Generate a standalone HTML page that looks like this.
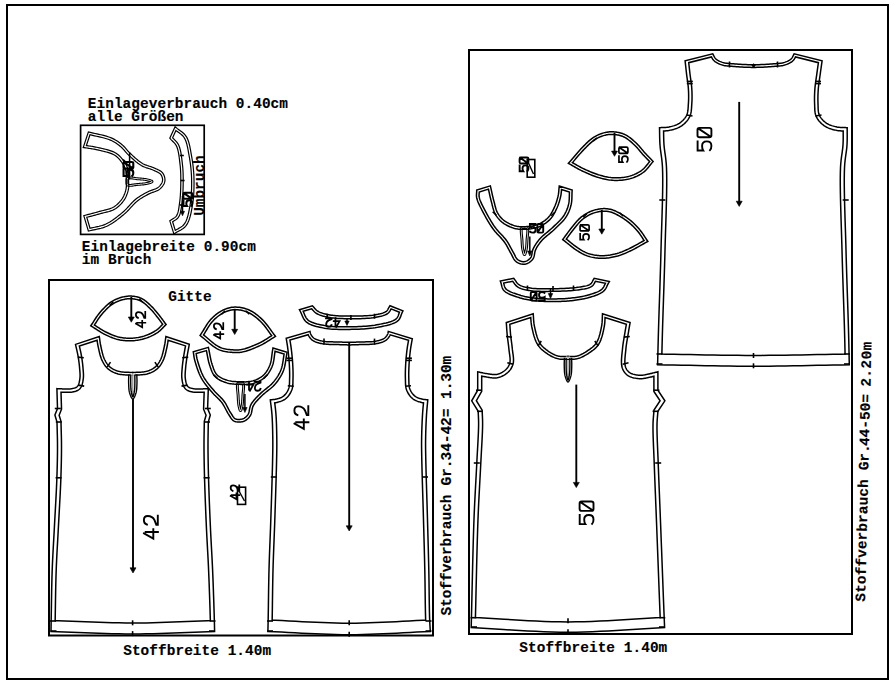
<!DOCTYPE html>
<html><head><meta charset="utf-8"><style>
html,body{margin:0;padding:0;background:#fff;}
svg{display:block;}
text{font-family:"Liberation Mono";fill:#000;stroke:#000;stroke-width:0.15px;}
</style></head><body>
<svg width="895" height="683" viewBox="0 0 895 683">
<rect width="895" height="683" fill="#fff"/>
<rect x="7.0" y="5.0" width="881.0" height="674.0" fill="none" stroke="#000" stroke-width="2.00"/>
<rect x="80.6" y="125.3" width="123.6" height="109.1" fill="none" stroke="#000" stroke-width="1.70"/>
<rect x="49.0" y="280.0" width="384.0" height="355.5" fill="none" stroke="#000" stroke-width="2.00"/>
<rect x="469.0" y="50.0" width="383.0" height="584.0" fill="none" stroke="#000" stroke-width="2.00"/>
<path d="M75.50 344.40 L75.72 345.40 L75.95 346.40 L76.18 347.40 L76.41 348.40 L76.64 349.40 L76.87 350.40 L77.09 351.40 L77.31 352.40 L77.53 353.40 L77.73 354.40 L77.92 355.40 L78.10 356.40 L78.27 357.38 L78.42 358.36 L78.58 359.35 L78.72 360.33 L78.86 361.32 L78.99 362.30 L79.11 363.28 L79.23 364.26 L79.34 365.23 L79.43 366.19 L79.52 367.15 L79.60 368.10 L79.67 368.98 L79.75 369.85 L79.82 370.73 L79.90 371.60 L79.96 372.47 L80.01 373.33 L80.05 374.18 L80.07 375.03 L80.07 375.86 L80.05 376.69 L79.99 377.50 L79.90 378.30 L79.80 379.03 L79.69 379.78 L79.56 380.54 L79.42 381.30 L79.26 382.06 L79.08 382.79 L78.88 383.50 L78.65 384.18 L78.39 384.82 L78.09 385.41 L77.77 385.94 L77.40 386.40 L77.07 386.73 L76.72 387.02 L76.34 387.27 L75.94 387.49 L75.52 387.69 L75.08 387.86 L74.62 388.01 L74.16 388.14 L73.68 388.27 L73.19 388.38 L72.70 388.49 L72.20 388.60 L71.56 388.72 L70.88 388.81 L70.17 388.88 L69.44 388.93 L68.69 388.95 L67.93 388.96 L67.17 388.96 L66.40 388.95 L65.65 388.94 L64.91 388.92 L64.19 388.91 L63.50 388.90 L62.92 388.89 L62.35 388.88 L61.79 388.86 L61.23 388.84 L60.69 388.81 L60.14 388.78 L59.60 388.75 L59.07 388.72 L58.53 388.69 L57.99 388.66 L57.45 388.63 L56.90 388.60 L57.50 408.50 L54.90 415.00 L57.00 422.00 L57.04 424.07 L57.10 426.13 L57.15 428.17 L57.20 430.21 L57.26 432.24 L57.31 434.28 L57.36 436.34 L57.41 438.41 L57.45 440.51 L57.48 442.63 L57.49 444.80 L57.50 447.00 L57.49 449.57 L57.48 452.17 L57.45 454.79 L57.41 457.45 L57.37 460.13 L57.31 462.85 L57.25 465.61 L57.17 468.40 L57.09 471.24 L57.00 474.11 L56.90 477.03 L56.80 480.00 L56.66 483.63 L56.50 487.38 L56.32 491.22 L56.12 495.13 L55.92 499.10 L55.70 503.11 L55.48 507.15 L55.26 511.18 L55.03 515.20 L54.81 519.19 L54.60 523.13 L54.40 527.00 L54.21 530.64 L54.01 534.25 L53.81 537.82 L53.61 541.38 L53.41 544.92 L53.22 548.46 L53.03 551.99 L52.84 555.54 L52.66 559.11 L52.49 562.70 L52.34 566.33 L52.20 570.00 L52.07 574.04 L51.94 578.27 L51.83 582.64 L51.73 587.09 L51.64 591.56 L51.56 595.99 L51.49 600.33 L51.42 604.51 L51.36 608.47 L51.30 612.17 L51.25 615.53 L51.20 618.50 L51.18 619.87 L51.15 621.14 L51.13 622.33 L51.12 623.45 L51.10 624.50 L51.09 625.52 L51.07 626.50 L51.06 627.47 L51.04 628.44 L51.03 629.43 L51.02 630.44 L51.00 631.50 L57.80 631.72 L64.60 631.97 L71.40 632.24 L78.19 632.52 L84.99 632.79 L91.79 633.06 L98.59 633.31 L105.39 633.54 L112.19 633.73 L118.99 633.87 L125.79 633.97 L132.60 634.00 L139.43 633.97 L146.26 633.87 L153.09 633.73 L159.92 633.54 L166.75 633.31 L173.59 633.06 L180.42 632.80 L187.26 632.52 L194.10 632.24 L200.93 631.97 L207.77 631.72 L214.60 631.50 L214.58 630.44 L214.55 629.43 L214.53 628.44 L214.51 627.47 L214.50 626.50 L214.47 625.52 L214.45 624.50 L214.43 623.45 L214.40 622.33 L214.37 621.14 L214.34 619.87 L214.30 618.50 L214.21 615.53 L214.11 612.17 L213.99 608.47 L213.87 604.51 L213.73 600.33 L213.58 595.99 L213.43 591.56 L213.27 587.09 L213.11 582.64 L212.94 578.27 L212.77 574.04 L212.60 570.00 L212.44 566.33 L212.26 562.70 L212.08 559.11 L211.89 555.55 L211.70 552.00 L211.51 548.46 L211.31 544.92 L211.12 541.38 L210.93 537.82 L210.75 534.25 L210.57 530.64 L210.40 527.00 L210.23 523.13 L210.06 519.19 L209.89 515.20 L209.72 511.18 L209.55 507.15 L209.39 503.11 L209.24 499.10 L209.09 495.13 L208.96 491.22 L208.83 487.38 L208.71 483.63 L208.60 480.00 L208.52 477.03 L208.44 474.11 L208.37 471.23 L208.30 468.40 L208.24 465.61 L208.19 462.85 L208.14 460.13 L208.09 457.45 L208.06 454.79 L208.03 452.17 L208.01 449.57 L208.00 447.00 L208.00 444.80 L208.01 442.63 L208.02 440.51 L208.04 438.41 L208.07 436.34 L208.10 434.28 L208.14 432.24 L208.17 430.21 L208.21 428.17 L208.24 426.13 L208.27 424.07 L208.30 422.00 L210.30 415.00 L207.60 408.50 L208.30 388.60 L207.75 388.63 L207.21 388.66 L206.67 388.69 L206.13 388.72 L205.60 388.75 L205.06 388.78 L204.51 388.81 L203.97 388.84 L203.41 388.86 L202.85 388.88 L202.28 388.89 L201.70 388.90 L201.01 388.91 L200.29 388.92 L199.55 388.94 L198.80 388.95 L198.03 388.96 L197.27 388.96 L196.51 388.95 L195.76 388.93 L195.03 388.88 L194.32 388.81 L193.64 388.72 L193.00 388.60 L192.50 388.49 L192.01 388.38 L191.52 388.27 L191.04 388.14 L190.58 388.01 L190.12 387.86 L189.68 387.69 L189.26 387.49 L188.86 387.27 L188.48 387.02 L188.13 386.73 L187.80 386.40 L187.43 385.94 L187.11 385.41 L186.81 384.82 L186.55 384.18 L186.32 383.50 L186.12 382.79 L185.94 382.06 L185.78 381.30 L185.64 380.54 L185.51 379.78 L185.40 379.03 L185.30 378.30 L185.21 377.50 L185.15 376.69 L185.13 375.86 L185.13 375.03 L185.15 374.18 L185.19 373.33 L185.24 372.47 L185.30 371.60 L185.38 370.73 L185.45 369.85 L185.53 368.98 L185.60 368.10 L185.68 367.15 L185.77 366.20 L185.87 365.23 L185.99 364.26 L186.11 363.29 L186.23 362.31 L186.37 361.32 L186.51 360.34 L186.65 359.35 L186.80 358.37 L186.95 357.38 L187.10 356.40 L187.26 355.40 L187.43 354.39 L187.60 353.39 L187.78 352.38 L187.97 351.37 L188.16 350.36 L188.35 349.35 L188.54 348.34 L188.73 347.33 L188.93 346.32 L189.11 345.31 L189.30 344.30 L165.90 336.60 L165.78 337.39 L165.67 338.17 L165.56 338.94 L165.45 339.71 L165.35 340.49 L165.24 341.26 L165.13 342.04 L165.01 342.83 L164.88 343.63 L164.73 344.43 L164.58 345.26 L164.40 346.10 L164.17 347.14 L163.94 348.24 L163.69 349.37 L163.43 350.52 L163.15 351.69 L162.86 352.86 L162.55 354.02 L162.23 355.16 L161.88 356.28 L161.51 357.34 L161.12 358.35 L160.70 359.30 L160.35 360.02 L159.99 360.72 L159.62 361.40 L159.24 362.06 L158.85 362.70 L158.44 363.32 L158.02 363.92 L157.58 364.49 L157.12 365.05 L156.63 365.59 L156.13 366.10 L155.60 366.60 L155.04 367.08 L154.47 367.54 L153.88 367.98 L153.26 368.40 L152.63 368.79 L151.98 369.17 L151.31 369.52 L150.61 369.86 L149.89 370.17 L149.15 370.47 L148.39 370.74 L147.60 371.00 L146.54 371.29 L145.41 371.54 L144.22 371.75 L142.99 371.92 L141.73 372.06 L140.43 372.17 L139.12 372.26 L137.80 372.32 L136.47 372.36 L135.16 372.38 L133.87 372.40 L132.60 372.40 L131.33 372.40 L130.04 372.38 L128.73 372.36 L127.40 372.32 L126.08 372.26 L124.77 372.17 L123.47 372.06 L122.21 371.92 L120.98 371.75 L119.79 371.54 L118.66 371.29 L117.60 371.00 L116.81 370.74 L116.05 370.47 L115.31 370.17 L114.59 369.86 L113.89 369.52 L113.22 369.17 L112.57 368.79 L111.94 368.40 L111.32 367.98 L110.73 367.54 L110.16 367.08 L109.60 366.60 L109.07 366.10 L108.57 365.59 L108.08 365.05 L107.62 364.49 L107.18 363.92 L106.76 363.32 L106.35 362.70 L105.96 362.06 L105.58 361.40 L105.21 360.72 L104.85 360.02 L104.50 359.30 L104.08 358.35 L103.69 357.34 L103.32 356.28 L102.97 355.16 L102.65 354.02 L102.34 352.86 L102.05 351.69 L101.77 350.52 L101.51 349.37 L101.26 348.24 L101.03 347.14 L100.80 346.10 L100.62 345.26 L100.47 344.43 L100.32 343.63 L100.19 342.83 L100.07 342.04 L99.96 341.26 L99.85 340.49 L99.75 339.71 L99.64 338.94 L99.53 338.17 L99.42 337.39 L99.30 336.60 Z M55.16 620.63 L58.18 620.73 L65.02 620.98 L71.83 621.25 L78.64 621.53 L85.43 621.80 L92.21 622.07 L98.97 622.32 L105.72 622.54 L112.46 622.73 L119.18 622.87 L125.90 622.97 L132.60 623.00 L139.32 622.97 L146.06 622.88 L152.82 622.73 L159.59 622.54 L166.37 622.32 L173.17 622.07 L179.99 621.80 L186.81 621.53 L193.66 621.25 L200.51 620.98 L207.38 620.73 L210.36 620.63 L210.34 619.98 L210.30 618.62 L210.21 615.65 L210.11 612.29 L210.00 608.60 L209.87 604.64 L209.73 600.46 L209.59 596.13 L209.43 591.70 L209.27 587.24 L209.11 582.79 L208.94 578.43 L208.77 574.20 L208.60 570.17 L208.44 566.52 L208.27 562.90 L208.09 559.32 L207.90 555.76 L207.71 552.21 L207.51 548.68 L207.32 545.14 L207.13 541.59 L206.94 538.03 L206.75 534.45 L206.57 530.83 L206.40 527.18 L206.23 523.31 L206.06 519.37 L205.89 515.37 L205.72 511.35 L205.56 507.31 L205.40 503.27 L205.24 499.25 L205.10 495.28 L204.96 491.36 L204.83 487.51 L204.71 483.76 L204.60 480.11 L204.52 477.14 L204.44 474.21 L204.37 471.33 L204.30 468.49 L204.24 465.69 L204.19 462.93 L204.14 460.20 L204.09 457.50 L204.06 454.84 L204.03 452.20 L204.01 449.60 L204.00 447.01 L204.00 444.79 L204.01 442.61 L204.02 440.47 L204.04 438.36 L204.07 436.28 L204.10 434.22 L204.14 432.17 L204.17 430.14 L204.21 428.10 L204.24 426.06 L204.27 424.02 L204.31 421.41 L206.07 415.24 L203.57 409.23 L204.17 392.23 L203.54 392.26 L202.95 392.28 L202.34 392.29 L201.74 392.30 L201.06 392.31 L200.36 392.32 L199.62 392.34 L198.85 392.35 L198.06 392.36 L197.25 392.36 L196.43 392.35 L195.60 392.32 L194.77 392.27 L193.93 392.19 L193.10 392.08 L192.32 391.93 L191.77 391.81 L191.25 391.69 L190.71 391.57 L190.15 391.42 L189.57 391.26 L188.97 391.06 L188.35 390.82 L187.72 390.53 L187.09 390.17 L186.46 389.75 L185.85 389.26 L185.26 388.67 L184.65 387.89 L184.13 387.06 L183.71 386.22 L183.37 385.37 L183.08 384.52 L182.83 383.67 L182.62 382.81 L182.44 381.96 L182.29 381.13 L182.16 380.31 L182.04 379.52 L181.93 378.72 L181.82 377.81 L181.76 376.86 L181.73 375.92 L181.72 374.99 L181.75 374.06 L181.79 373.14 L181.85 372.23 L181.91 371.33 L181.99 370.44 L182.06 369.56 L182.14 368.69 L182.21 367.82 L182.29 366.85 L182.39 365.85 L182.49 364.86 L182.61 363.86 L182.73 362.86 L182.86 361.86 L183.00 360.86 L183.14 359.85 L183.29 358.86 L183.44 357.86 L183.59 356.87 L183.74 355.87 L183.90 354.85 L184.08 353.82 L184.25 352.79 L184.44 351.77 L184.63 350.75 L184.82 349.73 L185.01 348.71 L185.20 347.70 L185.39 346.69 L185.54 345.91 L168.12 340.17 L168.02 340.85 L167.91 341.64 L167.80 342.44 L167.67 343.25 L167.54 344.08 L167.39 344.92 L167.22 345.79 L167.04 346.66 L166.81 347.72 L166.58 348.81 L166.32 349.95 L166.06 351.13 L165.78 352.32 L165.48 353.53 L165.16 354.74 L164.81 355.94 L164.44 357.12 L164.04 358.27 L163.61 359.39 L163.15 360.43 L162.77 361.23 L162.38 361.98 L161.98 362.72 L161.56 363.44 L161.13 364.15 L160.67 364.84 L160.19 365.52 L159.69 366.18 L159.16 366.82 L158.60 367.43 L158.02 368.03 L157.41 368.61 L156.77 369.16 L156.12 369.68 L155.44 370.18 L154.74 370.66 L154.02 371.11 L153.28 371.53 L152.52 371.94 L151.74 372.31 L150.94 372.67 L150.11 372.99 L149.26 373.30 L148.38 373.59 L147.19 373.91 L145.93 374.19 L144.65 374.42 L143.33 374.60 L141.99 374.75 L140.63 374.87 L139.27 374.95 L137.90 375.02 L136.54 375.06 L135.20 375.08 L133.88 375.10 L132.60 375.10 L131.32 375.10 L130.00 375.08 L128.66 375.06 L127.30 375.02 L125.93 374.95 L124.57 374.87 L123.21 374.75 L121.87 374.60 L120.55 374.42 L119.27 374.19 L118.01 373.91 L116.82 373.59 L115.94 373.30 L115.09 372.99 L114.26 372.67 L113.46 372.31 L112.68 371.94 L111.92 371.53 L111.18 371.11 L110.46 370.66 L109.76 370.18 L109.08 369.68 L108.43 369.16 L107.79 368.61 L107.18 368.03 L106.60 367.43 L106.04 366.82 L105.51 366.18 L105.01 365.52 L104.53 364.84 L104.07 364.15 L103.64 363.44 L103.22 362.72 L102.82 361.98 L102.43 361.23 L102.05 360.43 L101.59 359.39 L101.16 358.27 L100.76 357.12 L100.39 355.94 L100.04 354.74 L99.72 353.53 L99.42 352.32 L99.14 351.13 L98.88 349.95 L98.62 348.81 L98.39 347.72 L98.16 346.66 L97.98 345.79 L97.81 344.92 L97.66 344.08 L97.53 343.25 L97.40 342.44 L97.29 341.64 L97.18 340.85 L97.08 340.17 L79.34 345.98 L79.49 346.64 L79.72 347.64 L79.95 348.64 L80.18 349.65 L80.41 350.67 L80.64 351.69 L80.85 352.71 L81.06 353.74 L81.26 354.78 L81.45 355.82 L81.62 356.83 L81.78 357.83 L81.94 358.84 L82.09 359.85 L82.23 360.86 L82.36 361.87 L82.49 362.87 L82.61 363.88 L82.72 364.87 L82.82 365.87 L82.91 366.85 L82.99 367.82 L83.06 368.69 L83.14 369.56 L83.21 370.44 L83.29 371.33 L83.35 372.23 L83.41 373.14 L83.45 374.06 L83.48 374.99 L83.47 375.92 L83.44 376.86 L83.38 377.81 L83.27 378.72 L83.16 379.52 L83.04 380.31 L82.91 381.13 L82.76 381.96 L82.58 382.81 L82.37 383.67 L82.12 384.52 L81.83 385.37 L81.49 386.22 L81.07 387.06 L80.55 387.89 L79.94 388.67 L79.35 389.26 L78.74 389.75 L78.11 390.17 L77.48 390.53 L76.85 390.82 L76.23 391.06 L75.63 391.26 L75.05 391.42 L74.49 391.57 L73.95 391.69 L73.43 391.81 L72.88 391.93 L72.10 392.08 L71.27 392.19 L70.43 392.27 L69.60 392.32 L68.77 392.35 L67.95 392.36 L67.14 392.36 L66.35 392.35 L65.58 392.34 L64.84 392.32 L64.14 392.31 L63.46 392.30 L62.86 392.29 L62.25 392.28 L61.66 392.26 L61.01 392.23 L61.52 409.21 L59.13 415.19 L60.99 421.37 L61.04 423.98 L61.09 426.02 L61.15 428.06 L61.20 430.10 L61.26 432.13 L61.31 434.18 L61.36 436.25 L61.41 438.33 L61.45 440.44 L61.48 442.59 L61.49 444.77 L61.50 447.00 L61.49 449.59 L61.48 452.20 L61.45 454.84 L61.41 457.51 L61.36 460.21 L61.31 462.94 L61.24 465.71 L61.17 468.51 L61.09 471.35 L61.00 474.24 L60.90 477.17 L60.80 480.15 L60.66 483.80 L60.49 487.56 L60.31 491.41 L60.12 495.34 L59.91 499.31 L59.69 503.33 L59.47 507.37 L59.25 511.40 L59.03 515.42 L58.81 519.41 L58.60 523.34 L58.39 527.21 L58.20 530.85 L58.01 534.47 L57.81 538.05 L57.61 541.60 L57.41 545.14 L57.21 548.68 L57.02 552.21 L56.83 555.75 L56.66 559.30 L56.49 562.88 L56.34 566.49 L56.20 570.14 L56.06 574.16 L55.94 578.38 L55.83 582.74 L55.73 587.18 L55.64 591.64 L55.56 596.06 L55.49 600.39 L55.42 604.57 L55.36 608.54 L55.30 612.23 L55.25 615.59 L55.20 618.57 L55.18 619.94 Z" fill="none" stroke="#000" stroke-width="1.50" stroke-linejoin="miter"/>
<rect x="130.50" y="373.40" width="4.60" height="2.40" fill="#fff"/>
<path d="M128.80 374.60 L128.78 375.31 L128.76 376.02 L128.74 376.72 L128.71 377.43 L128.68 378.13 L128.66 378.84 L128.63 379.54 L128.62 380.25 L128.61 380.97 L128.61 381.68 L128.62 382.41 L128.64 383.14 L128.67 383.94 L128.70 384.76 L128.72 385.60 L128.76 386.45 L128.80 387.30 L128.85 388.15 L128.92 388.99 L129.01 389.82 L129.11 390.64 L129.25 391.42 L129.41 392.18 L129.60 392.90 L129.79 393.51 L130.01 394.17 L130.25 394.84 L130.50 395.53 L130.78 396.19 L131.06 396.83 L131.36 397.42 L131.65 397.94 L131.95 398.38 L132.24 398.71 L132.53 398.92 L132.80 399.00 L133.07 398.92 L133.36 398.71 L133.65 398.38 L133.95 397.94 L134.24 397.42 L134.54 396.83 L134.82 396.19 L135.10 395.53 L135.35 394.84 L135.59 394.17 L135.81 393.51 L136.00 392.90 L136.19 392.18 L136.35 391.42 L136.49 390.64 L136.59 389.82 L136.68 388.99 L136.75 388.15 L136.80 387.30 L136.84 386.45 L136.88 385.60 L136.90 384.76 L136.93 383.94 L136.96 383.14 L136.98 382.41 L136.99 381.68 L136.99 380.97 L136.98 380.25 L136.97 379.54 L136.94 378.84 L136.92 378.13 L136.89 377.43 L136.86 376.72 L136.84 376.02 L136.82 375.31 L136.80 374.60" fill="none" stroke="#000" stroke-width="1.40"/>
<path d="M130.80 374.60 L130.79 375.25 L130.78 375.89 L130.77 376.53 L130.75 377.17 L130.74 377.81 L130.73 378.45 L130.72 379.10 L130.71 379.74 L130.70 380.39 L130.70 381.05 L130.71 381.70 L130.72 382.37 L130.73 383.10 L130.75 383.84 L130.76 384.60 L130.77 385.37 L130.79 386.14 L130.82 386.91 L130.85 387.68 L130.89 388.43 L130.95 389.17 L131.02 389.89 L131.10 390.59 L131.20 391.25 L131.30 391.80 L131.40 392.39 L131.52 393.00 L131.65 393.62 L131.79 394.23 L131.93 394.81 L132.08 395.35 L132.23 395.83 L132.37 396.23 L132.52 396.53 L132.66 396.73 L132.80 396.80 L132.94 396.73 L133.08 396.53 L133.23 396.23 L133.37 395.83 L133.52 395.35 L133.67 394.81 L133.81 394.23 L133.95 393.62 L134.08 393.00 L134.20 392.39 L134.30 391.80 L134.40 391.25 L134.50 390.59 L134.58 389.89 L134.65 389.17 L134.71 388.43 L134.75 387.68 L134.78 386.91 L134.81 386.14 L134.83 385.37 L134.84 384.60 L134.85 383.84 L134.87 383.10 L134.88 382.37 L134.89 381.70 L134.90 381.05 L134.90 380.39 L134.89 379.74 L134.88 379.10 L134.87 378.45 L134.86 377.81 L134.85 377.17 L134.83 376.53 L134.82 375.89 L134.81 375.25 L134.80 374.60" fill="none" stroke="#000" stroke-width="1.40"/>
<line x1="132.80" y1="371.50" x2="132.80" y2="396.50" stroke="#000" stroke-width="0.9" stroke-opacity="0.6"/>
<line x1="133.0" y1="399.0" x2="133.0" y2="568.8" stroke="#000" stroke-width="1.90"/>
<path d="M130.0 567.8 L136.0 567.8 L133.0 573.0 Z" fill="#000" stroke="#000" stroke-width="0.6"/>
<path d="M286.20 338.20 L286.34 339.12 L286.49 340.03 L286.64 340.94 L286.78 341.84 L286.93 342.75 L287.08 343.65 L287.22 344.56 L287.37 345.48 L287.51 346.42 L287.64 347.36 L287.77 348.32 L287.90 349.30 L288.04 350.44 L288.18 351.61 L288.32 352.80 L288.45 354.01 L288.58 355.23 L288.70 356.47 L288.82 357.71 L288.94 358.95 L289.04 360.20 L289.14 361.44 L289.22 362.67 L289.30 363.90 L289.37 365.13 L289.43 366.38 L289.49 367.63 L289.54 368.89 L289.59 370.16 L289.62 371.41 L289.65 372.66 L289.66 373.90 L289.67 375.11 L289.66 376.31 L289.64 377.47 L289.60 378.60 L289.57 379.52 L289.55 380.44 L289.54 381.34 L289.52 382.23 L289.50 383.11 L289.46 383.97 L289.40 384.82 L289.32 385.65 L289.20 386.47 L289.05 387.26 L288.85 388.04 L288.60 388.80 L288.32 389.50 L288.01 390.19 L287.67 390.87 L287.30 391.55 L286.90 392.21 L286.47 392.85 L286.02 393.47 L285.55 394.06 L285.06 394.62 L284.55 395.15 L284.03 395.65 L283.50 396.10 L282.97 396.49 L282.42 396.84 L281.83 397.17 L281.23 397.47 L280.60 397.74 L279.97 397.98 L279.33 398.21 L278.68 398.41 L278.04 398.60 L277.41 398.78 L276.80 398.94 L276.20 399.10 L275.69 399.22 L275.19 399.32 L274.70 399.40 L274.20 399.46 L273.71 399.52 L273.22 399.56 L272.74 399.60 L272.25 399.63 L271.77 399.67 L271.28 399.70 L270.79 399.75 L270.30 399.80 L270.44 401.05 L270.59 402.29 L270.75 403.51 L270.90 404.73 L271.06 405.94 L271.21 407.16 L271.36 408.40 L271.50 409.65 L271.64 410.93 L271.77 412.25 L271.89 413.60 L272.00 415.00 L272.12 416.87 L272.24 418.84 L272.33 420.88 L272.42 422.97 L272.50 425.11 L272.56 427.28 L272.62 429.46 L272.67 431.64 L272.71 433.80 L272.75 435.92 L272.78 437.99 L272.80 440.00 L272.82 441.71 L272.82 443.34 L272.83 444.91 L272.82 446.43 L272.81 447.95 L272.79 449.47 L272.77 451.02 L272.74 452.62 L272.71 454.30 L272.68 456.07 L272.64 457.97 L272.60 460.00 L272.52 463.89 L272.41 468.20 L272.28 472.87 L272.14 477.82 L271.99 483.00 L271.83 488.33 L271.66 493.76 L271.48 499.21 L271.31 504.63 L271.13 509.94 L270.96 515.09 L270.80 520.00 L270.65 524.33 L270.50 528.61 L270.34 532.84 L270.17 537.04 L270.01 541.21 L269.85 545.35 L269.69 549.47 L269.53 553.58 L269.38 557.68 L269.24 561.78 L269.12 565.88 L269.00 570.00 L268.90 574.13 L268.81 578.40 L268.73 582.76 L268.65 587.16 L268.58 591.56 L268.52 595.90 L268.46 600.14 L268.41 604.22 L268.36 608.09 L268.30 611.72 L268.25 615.03 L268.20 618.00 L268.17 619.42 L268.15 620.73 L268.12 621.96 L268.09 623.11 L268.07 624.21 L268.04 625.27 L268.02 626.29 L268.00 627.31 L267.97 628.32 L267.95 629.35 L267.92 630.40 L267.90 631.50 L274.68 631.79 L281.45 632.11 L288.23 632.45 L295.00 632.80 L301.78 633.16 L308.56 633.50 L315.33 633.82 L322.11 634.11 L328.88 634.35 L335.66 634.54 L342.43 634.66 L349.20 634.70 L355.96 634.66 L362.72 634.54 L369.48 634.35 L376.24 634.11 L383.00 633.82 L389.76 633.50 L396.51 633.16 L403.27 632.80 L410.03 632.45 L416.78 632.11 L423.54 631.79 L430.30 631.50 L430.24 630.40 L430.18 629.35 L430.12 628.32 L430.06 627.31 L430.00 626.30 L429.94 625.27 L429.88 624.21 L429.82 623.11 L429.76 621.96 L429.71 620.73 L429.65 619.42 L429.60 618.00 L429.51 615.04 L429.43 611.72 L429.36 608.10 L429.30 604.22 L429.24 600.14 L429.19 595.90 L429.13 591.56 L429.08 587.16 L429.02 582.76 L428.95 578.40 L428.88 574.13 L428.80 570.00 L428.71 565.88 L428.61 561.78 L428.51 557.68 L428.41 553.58 L428.31 549.47 L428.20 545.35 L428.08 541.21 L427.97 537.04 L427.85 532.84 L427.74 528.61 L427.62 524.33 L427.50 520.00 L427.36 515.09 L427.21 509.94 L427.06 504.63 L426.89 499.21 L426.73 493.76 L426.56 488.33 L426.40 483.00 L426.25 477.82 L426.11 472.87 L425.99 468.20 L425.88 463.89 L425.80 460.00 L425.76 457.97 L425.72 456.07 L425.69 454.30 L425.66 452.62 L425.63 451.02 L425.60 449.47 L425.59 447.95 L425.58 446.43 L425.57 444.91 L425.57 443.34 L425.58 441.71 L425.60 440.00 L425.63 437.99 L425.67 435.92 L425.72 433.80 L425.78 431.64 L425.85 429.47 L425.92 427.29 L426.00 425.12 L426.09 422.98 L426.19 420.88 L426.29 418.84 L426.39 416.87 L426.50 415.00 L426.59 413.60 L426.69 412.25 L426.79 410.93 L426.89 409.65 L427.00 408.40 L427.12 407.16 L427.23 405.94 L427.35 404.73 L427.46 403.51 L427.58 402.29 L427.69 401.05 L427.80 399.80 L427.34 399.75 L426.87 399.70 L426.41 399.66 L425.95 399.63 L425.49 399.59 L425.03 399.56 L424.57 399.51 L424.11 399.46 L423.64 399.39 L423.16 399.31 L422.69 399.22 L422.20 399.10 L421.61 398.94 L421.00 398.78 L420.37 398.60 L419.73 398.41 L419.09 398.21 L418.44 397.98 L417.81 397.74 L417.18 397.47 L416.57 397.17 L415.98 396.84 L415.43 396.49 L414.90 396.10 L414.37 395.65 L413.85 395.15 L413.34 394.62 L412.85 394.06 L412.38 393.47 L411.93 392.85 L411.50 392.21 L411.10 391.55 L410.73 390.87 L410.39 390.19 L410.08 389.50 L409.80 388.80 L409.55 388.04 L409.35 387.26 L409.20 386.47 L409.08 385.65 L409.00 384.82 L408.94 383.97 L408.90 383.11 L408.88 382.23 L408.86 381.34 L408.85 380.44 L408.83 379.52 L408.80 378.60 L408.76 377.47 L408.74 376.31 L408.73 375.11 L408.74 373.90 L408.75 372.66 L408.78 371.41 L408.81 370.16 L408.86 368.89 L408.91 367.63 L408.97 366.38 L409.03 365.13 L409.10 363.90 L409.18 362.67 L409.26 361.43 L409.35 360.19 L409.46 358.94 L409.57 357.69 L409.68 356.45 L409.81 355.21 L409.94 353.99 L410.07 352.78 L410.21 351.59 L410.35 350.43 L410.50 349.30 L410.63 348.36 L410.77 347.43 L410.91 346.53 L411.06 345.64 L411.21 344.76 L411.37 343.89 L411.52 343.03 L411.68 342.17 L411.84 341.31 L411.99 340.45 L412.15 339.58 L412.30 338.70 L388.29 331.40 L388.20 331.86 L388.16 332.10 L388.12 332.33 L388.09 332.56 L388.05 332.79 L388.00 333.02 L387.95 333.25 L387.88 333.49 L387.81 333.72 L387.71 333.96 L387.60 334.20 L387.42 334.53 L387.23 334.88 L387.01 335.24 L386.78 335.60 L386.53 335.97 L386.25 336.33 L385.96 336.69 L385.65 337.04 L385.31 337.38 L384.96 337.71 L384.59 338.01 L384.20 338.30 L383.65 338.65 L383.05 338.97 L382.41 339.27 L381.74 339.55 L381.03 339.81 L380.29 340.05 L379.52 340.28 L378.73 340.49 L377.92 340.68 L377.09 340.86 L376.25 341.04 L375.40 341.20 L374.23 341.39 L372.97 341.54 L371.65 341.65 L370.27 341.74 L368.87 341.80 L367.44 341.84 L366.00 341.87 L364.58 341.90 L363.18 341.91 L361.83 341.93 L360.53 341.96 L359.30 342.00 L358.38 342.04 L357.48 342.07 L356.61 342.11 L355.76 342.14 L354.93 342.18 L354.10 342.21 L353.29 342.23 L352.48 342.26 L351.67 342.27 L350.86 342.29 L350.03 342.30 L349.20 342.30 L348.37 342.30 L347.54 342.29 L346.73 342.27 L345.92 342.26 L345.11 342.23 L344.30 342.21 L343.47 342.18 L342.64 342.14 L341.79 342.11 L340.92 342.07 L340.02 342.04 L339.10 342.00 L337.87 341.96 L336.57 341.93 L335.22 341.91 L333.82 341.90 L332.40 341.87 L330.96 341.84 L329.53 341.80 L328.13 341.74 L326.75 341.65 L325.43 341.54 L324.17 341.39 L323.00 341.20 L322.15 341.04 L321.31 340.86 L320.48 340.68 L319.67 340.49 L318.88 340.28 L318.11 340.05 L317.37 339.81 L316.66 339.55 L315.99 339.27 L315.35 338.97 L314.75 338.65 L314.20 338.30 L313.81 338.01 L313.44 337.71 L313.09 337.38 L312.76 337.04 L312.45 336.69 L312.16 336.33 L311.88 335.97 L311.63 335.60 L311.40 335.24 L311.18 334.88 L310.98 334.53 L310.80 334.20 L310.68 333.96 L310.58 333.72 L310.50 333.49 L310.43 333.25 L310.36 333.02 L310.31 332.79 L310.26 332.56 L310.21 332.33 L310.17 332.10 L310.12 331.86 L310.01 331.40 Z M272.16 620.17 L275.19 620.30 L282.01 620.62 L288.82 620.97 L295.60 621.32 L302.37 621.67 L309.12 622.01 L315.85 622.33 L322.56 622.62 L329.25 622.86 L335.92 623.04 L342.57 623.16 L349.20 623.20 L355.82 623.16 L362.46 623.04 L369.12 622.86 L375.79 622.62 L382.48 622.33 L389.19 622.01 L395.92 621.67 L402.67 621.32 L409.44 620.97 L416.22 620.62 L423.03 620.30 L425.68 620.19 L425.65 619.57 L425.60 618.13 L425.51 615.14 L425.43 611.80 L425.36 608.17 L425.30 604.28 L425.24 600.19 L425.19 595.95 L425.13 591.61 L425.08 587.22 L425.02 582.82 L424.95 578.46 L424.88 574.20 L424.80 570.08 L424.71 565.97 L424.62 561.87 L424.52 557.78 L424.41 553.68 L424.31 549.57 L424.20 545.46 L424.08 541.32 L423.97 537.15 L423.85 532.95 L423.74 528.72 L423.62 524.44 L423.50 520.11 L423.36 515.20 L423.22 510.06 L423.06 504.75 L422.89 499.34 L422.73 493.88 L422.56 488.45 L422.40 483.12 L422.25 477.94 L422.11 472.98 L421.99 468.30 L421.88 463.98 L421.80 460.08 L421.76 458.04 L421.72 456.15 L421.69 454.38 L421.66 452.69 L421.63 451.08 L421.61 449.52 L421.59 447.99 L421.58 446.46 L421.57 444.91 L421.57 443.32 L421.58 441.68 L421.60 439.95 L421.63 437.92 L421.67 435.84 L421.72 433.70 L421.78 431.53 L421.85 429.34 L421.92 427.14 L422.01 424.96 L422.10 422.80 L422.19 420.69 L422.29 418.64 L422.40 416.65 L422.51 414.76 L422.60 413.33 L422.70 411.95 L422.80 410.61 L422.91 409.31 L423.02 408.04 L423.13 406.79 L423.25 405.57 L423.37 404.35 L423.51 402.81 L423.12 402.75 L422.55 402.66 L421.95 402.54 L421.37 402.40 L420.73 402.23 L420.10 402.06 L419.43 401.87 L418.73 401.66 L418.01 401.43 L417.27 401.17 L416.52 400.88 L415.76 400.56 L415.00 400.19 L414.25 399.77 L413.50 399.29 L412.79 398.77 L412.10 398.18 L411.45 397.56 L410.83 396.91 L410.23 396.23 L409.67 395.52 L409.14 394.79 L408.63 394.03 L408.16 393.25 L407.72 392.46 L407.31 391.64 L406.94 390.82 L406.60 389.96 L406.29 388.99 L406.03 388.01 L405.84 387.03 L405.71 386.06 L405.61 385.11 L405.54 384.16 L405.50 383.23 L405.48 382.31 L405.46 381.40 L405.45 380.50 L405.43 379.61 L405.40 378.71 L405.37 377.55 L405.34 376.35 L405.33 375.12 L405.34 373.87 L405.35 372.61 L405.38 371.33 L405.42 370.05 L405.46 368.77 L405.51 367.48 L405.57 366.21 L405.64 364.95 L405.71 363.70 L405.78 362.45 L405.87 361.19 L405.97 359.92 L406.07 358.65 L406.18 357.38 L406.30 356.12 L406.43 354.86 L406.56 353.62 L406.69 352.39 L406.83 351.19 L406.98 350.01 L407.13 348.85 L407.26 347.87 L407.41 346.92 L407.55 345.98 L407.71 345.07 L407.86 344.17 L408.02 343.29 L408.18 342.42 L408.34 341.56 L408.55 340.38 L390.19 334.80 L389.93 335.35 L389.71 335.78 L389.48 336.19 L389.22 336.62 L388.94 337.05 L388.63 337.49 L388.30 337.93 L387.94 338.38 L387.55 338.82 L387.13 339.25 L386.67 339.67 L386.19 340.07 L385.66 340.45 L384.96 340.89 L384.23 341.29 L383.47 341.65 L382.68 341.97 L381.88 342.27 L381.06 342.54 L380.22 342.78 L379.37 343.01 L378.51 343.21 L377.64 343.41 L376.76 343.59 L375.85 343.76 L374.59 343.96 L373.24 344.12 L371.84 344.25 L370.41 344.34 L368.96 344.40 L367.50 344.44 L366.05 344.47 L364.62 344.50 L363.22 344.51 L361.87 344.53 L360.60 344.56 L359.39 344.60 L358.48 344.64 L357.59 344.67 L356.72 344.71 L355.86 344.74 L355.02 344.77 L354.19 344.80 L353.37 344.83 L352.55 344.85 L351.72 344.87 L350.89 344.89 L350.05 344.90 L349.20 344.90 L348.35 344.90 L347.51 344.89 L346.68 344.87 L345.85 344.85 L345.03 344.83 L344.21 344.80 L343.38 344.77 L342.54 344.74 L341.68 344.71 L340.81 344.67 L339.92 344.64 L339.01 344.60 L337.80 344.56 L336.53 344.53 L335.18 344.51 L333.78 344.50 L332.35 344.47 L330.90 344.44 L329.44 344.40 L327.99 344.34 L326.56 344.25 L325.16 344.12 L323.81 343.96 L322.55 343.76 L321.64 343.59 L320.76 343.41 L319.89 343.21 L319.03 343.01 L318.18 342.78 L317.34 342.54 L316.52 342.27 L315.72 341.97 L314.93 341.65 L314.17 341.29 L313.44 340.89 L312.74 340.45 L312.21 340.07 L311.72 339.66 L311.27 339.24 L310.85 338.81 L310.46 338.37 L310.10 337.93 L309.78 337.49 L309.47 337.05 L309.19 336.62 L308.94 336.20 L308.71 335.80 L308.49 335.39 L308.17 334.73 L289.92 339.95 L289.99 340.39 L290.14 341.29 L290.29 342.20 L290.43 343.11 L290.58 344.04 L290.73 344.97 L290.87 345.92 L291.01 346.89 L291.14 347.87 L291.27 348.88 L291.42 350.04 L291.56 351.22 L291.70 352.42 L291.83 353.65 L291.96 354.88 L292.09 356.13 L292.21 357.39 L292.32 358.66 L292.43 359.92 L292.53 361.19 L292.62 362.45 L292.69 363.70 L292.76 364.95 L292.83 366.21 L292.89 367.48 L292.94 368.77 L292.98 370.05 L293.02 371.33 L293.05 372.61 L293.06 373.87 L293.07 375.12 L293.06 376.35 L293.03 377.55 L293.00 378.71 L292.97 379.61 L292.95 380.50 L292.94 381.40 L292.92 382.31 L292.90 383.23 L292.86 384.16 L292.79 385.11 L292.69 386.06 L292.56 387.03 L292.37 388.01 L292.11 388.99 L291.80 389.96 L291.46 390.82 L291.09 391.64 L290.68 392.46 L290.24 393.25 L289.77 394.03 L289.26 394.79 L288.73 395.52 L288.17 396.23 L287.57 396.91 L286.95 397.56 L286.30 398.18 L285.61 398.76 L284.90 399.29 L284.16 399.77 L283.40 400.19 L282.65 400.55 L281.89 400.88 L281.15 401.17 L280.41 401.43 L279.69 401.66 L278.99 401.87 L278.31 402.06 L277.67 402.23 L277.02 402.40 L276.42 402.54 L275.79 402.67 L275.19 402.76 L274.69 402.83 L274.87 404.22 L275.02 405.44 L275.18 406.67 L275.33 407.93 L275.48 409.21 L275.62 410.52 L275.75 411.87 L275.88 413.27 L275.99 414.71 L276.12 416.63 L276.23 418.63 L276.33 420.70 L276.42 422.82 L276.50 424.98 L276.56 427.17 L276.62 429.37 L276.67 431.56 L276.71 433.73 L276.75 435.86 L276.78 437.94 L276.80 439.96 L276.82 441.68 L276.82 443.33 L276.83 444.91 L276.82 446.46 L276.81 447.99 L276.79 449.52 L276.77 451.08 L276.74 452.69 L276.71 454.37 L276.68 456.15 L276.64 458.05 L276.60 460.08 L276.51 463.98 L276.41 468.31 L276.28 472.98 L276.14 477.94 L275.99 483.12 L275.82 488.46 L275.65 493.89 L275.48 499.34 L275.30 504.76 L275.13 510.08 L274.96 515.22 L274.80 520.13 L274.65 524.47 L274.49 528.76 L274.33 533.00 L274.17 537.20 L274.01 541.37 L273.84 545.50 L273.68 549.62 L273.53 553.72 L273.38 557.82 L273.24 561.91 L273.11 566.00 L273.00 570.11 L272.90 574.22 L272.81 578.48 L272.73 582.83 L272.65 587.23 L272.58 591.62 L272.52 595.96 L272.46 600.19 L272.41 604.27 L272.36 608.15 L272.30 611.78 L272.25 615.10 L272.20 618.08 L272.17 619.50 Z" fill="none" stroke="#000" stroke-width="1.50" stroke-linejoin="miter"/>
<line x1="349.2" y1="343.0" x2="349.2" y2="526.8" stroke="#000" stroke-width="1.90"/>
<path d="M346.2 525.8 L352.2 525.8 L349.2 531.0 Z" fill="#000" stroke="#000" stroke-width="0.6"/>
<path d="M685.10 60.80 L685.22 61.92 L685.35 63.04 L685.47 64.16 L685.59 65.28 L685.71 66.40 L685.84 67.52 L685.96 68.64 L686.08 69.76 L686.21 70.89 L686.34 72.02 L686.47 73.16 L686.60 74.30 L686.75 75.50 L686.91 76.70 L687.08 77.91 L687.25 79.12 L687.42 80.34 L687.60 81.56 L687.77 82.78 L687.92 84.00 L688.07 85.23 L688.20 86.45 L688.31 87.68 L688.40 88.90 L688.47 90.13 L688.53 91.36 L688.58 92.61 L688.61 93.86 L688.63 95.11 L688.64 96.35 L688.64 97.59 L688.62 98.83 L688.59 100.05 L688.54 101.25 L688.48 102.44 L688.40 103.60 L688.33 104.64 L688.27 105.67 L688.21 106.70 L688.15 107.73 L688.07 108.75 L687.98 109.75 L687.86 110.74 L687.70 111.70 L687.51 112.65 L687.26 113.56 L686.96 114.45 L686.60 115.30 L686.19 116.09 L685.73 116.86 L685.23 117.62 L684.68 118.36 L684.09 119.07 L683.47 119.76 L682.83 120.43 L682.15 121.07 L681.46 121.68 L680.75 122.25 L680.03 122.79 L679.30 123.30 L678.55 123.77 L677.75 124.20 L676.93 124.60 L676.08 124.97 L675.21 125.30 L674.33 125.61 L673.43 125.90 L672.53 126.15 L671.64 126.39 L670.74 126.61 L669.86 126.81 L669.00 127.00 L668.20 127.15 L667.41 127.27 L666.62 127.36 L665.83 127.43 L665.03 127.48 L664.24 127.52 L663.45 127.54 L662.66 127.57 L661.87 127.59 L661.08 127.61 L660.29 127.65 L659.50 127.70 L659.54 129.13 L659.57 130.56 L659.59 131.97 L659.61 133.38 L659.63 134.79 L659.65 136.20 L659.68 137.62 L659.72 139.06 L659.77 140.51 L659.83 141.98 L659.90 143.47 L660.00 145.00 L660.14 146.76 L660.32 148.48 L660.53 150.19 L660.77 151.90 L661.01 153.63 L661.26 155.41 L661.52 157.24 L661.76 159.16 L661.99 161.17 L662.19 163.30 L662.37 165.57 L662.50 168.00 L662.66 173.07 L662.73 178.75 L662.72 184.97 L662.64 191.63 L662.50 198.64 L662.32 205.91 L662.11 213.35 L661.88 220.87 L661.64 228.39 L661.40 235.81 L661.19 243.04 L661.00 250.00 L660.82 256.81 L660.63 263.77 L660.41 270.84 L660.19 277.96 L659.96 285.07 L659.73 292.11 L659.50 299.04 L659.27 305.80 L659.05 312.33 L658.85 318.58 L658.66 324.49 L658.50 330.00 L658.40 333.40 L658.32 336.63 L658.23 339.70 L658.16 342.66 L658.08 345.51 L658.01 348.29 L657.94 351.02 L657.88 353.73 L657.81 356.43 L657.74 359.17 L657.67 361.95 L657.60 364.80 L665.59 364.93 L673.58 365.07 L681.58 365.22 L689.57 365.37 L697.56 365.53 L705.55 365.68 L713.55 365.82 L721.54 365.94 L729.53 366.05 L737.52 366.13 L745.51 366.18 L753.50 366.20 L761.49 366.18 L769.47 366.13 L777.45 366.05 L785.44 365.94 L793.42 365.82 L801.40 365.67 L809.39 365.53 L817.37 365.37 L825.35 365.22 L833.33 365.07 L841.32 364.93 L849.30 364.80 L849.24 361.95 L849.17 359.17 L849.12 356.43 L849.06 353.73 L849.00 351.02 L848.94 348.29 L848.88 345.51 L848.82 342.66 L848.75 339.70 L848.67 336.63 L848.59 333.40 L848.50 330.00 L848.34 324.49 L848.16 318.58 L847.96 312.33 L847.74 305.80 L847.52 299.04 L847.28 292.11 L847.05 285.07 L846.82 277.96 L846.59 270.84 L846.38 263.77 L846.18 256.81 L846.00 250.00 L845.81 243.04 L845.60 235.81 L845.36 228.39 L845.12 220.87 L844.89 213.35 L844.68 205.91 L844.50 198.64 L844.36 191.63 L844.28 184.97 L844.27 178.75 L844.34 173.07 L844.50 168.00 L844.64 165.57 L844.81 163.30 L845.02 161.17 L845.25 159.16 L845.50 157.24 L845.76 155.41 L846.02 153.63 L846.26 151.90 L846.49 150.19 L846.70 148.48 L846.87 146.76 L847.00 145.00 L847.08 143.47 L847.14 141.98 L847.18 140.51 L847.20 139.06 L847.21 137.62 L847.21 136.20 L847.21 134.79 L847.20 133.38 L847.19 131.97 L847.19 130.56 L847.19 129.13 L847.20 127.70 L846.35 127.65 L845.50 127.62 L844.64 127.59 L843.79 127.57 L842.94 127.55 L842.08 127.53 L841.23 127.49 L840.38 127.44 L839.53 127.37 L838.69 127.28 L837.84 127.16 L837.00 127.00 L836.12 126.81 L835.23 126.61 L834.34 126.39 L833.44 126.15 L832.54 125.89 L831.65 125.61 L830.77 125.30 L829.90 124.97 L829.06 124.60 L828.24 124.20 L827.45 123.77 L826.70 123.30 L825.97 122.79 L825.25 122.25 L824.53 121.68 L823.83 121.07 L823.15 120.43 L822.50 119.77 L821.88 119.07 L821.29 118.36 L820.75 117.62 L820.25 116.87 L819.79 116.09 L819.40 115.30 L819.06 114.45 L818.78 113.56 L818.57 112.65 L818.40 111.70 L818.29 110.74 L818.20 109.75 L818.15 108.75 L818.11 107.73 L818.09 106.70 L818.07 105.67 L818.04 104.63 L818.00 103.60 L817.95 102.43 L817.92 101.25 L817.90 100.04 L817.90 98.82 L817.90 97.59 L817.93 96.35 L817.96 95.10 L818.01 93.86 L818.07 92.61 L818.13 91.36 L818.21 90.13 L818.30 88.90 L818.40 87.68 L818.52 86.45 L818.66 85.23 L818.81 84.00 L818.97 82.78 L819.15 81.56 L819.32 80.34 L819.50 79.12 L819.68 77.91 L819.86 76.70 L820.03 75.50 L820.20 74.30 L820.36 73.16 L820.51 72.02 L820.67 70.89 L820.83 69.76 L820.99 68.64 L821.15 67.52 L821.30 66.40 L821.46 65.28 L821.62 64.16 L821.78 63.04 L821.94 61.92 L822.10 60.80 L794.20 53.80 L793.95 54.23 L793.72 54.67 L793.49 55.12 L793.27 55.57 L793.05 56.02 L792.83 56.46 L792.60 56.90 L792.35 57.33 L792.08 57.75 L791.78 58.15 L791.46 58.54 L791.10 58.90 L790.63 59.30 L790.13 59.69 L789.58 60.06 L789.00 60.41 L788.40 60.75 L787.77 61.07 L787.12 61.37 L786.46 61.65 L785.80 61.91 L785.13 62.16 L784.46 62.39 L783.80 62.60 L783.12 62.79 L782.45 62.95 L781.78 63.08 L781.10 63.19 L780.42 63.27 L779.72 63.34 L779.01 63.41 L778.27 63.46 L777.50 63.51 L776.71 63.57 L775.87 63.63 L775.00 63.70 L773.54 63.82 L771.97 63.95 L770.29 64.08 L768.54 64.20 L766.71 64.32 L764.84 64.43 L762.94 64.54 L761.02 64.62 L759.10 64.70 L757.19 64.75 L755.32 64.79 L753.50 64.80 L751.68 64.79 L749.81 64.75 L747.90 64.70 L745.98 64.62 L744.06 64.54 L742.16 64.43 L740.29 64.32 L738.46 64.20 L736.71 64.08 L735.03 63.95 L733.46 63.82 L732.00 63.70 L731.13 63.63 L730.29 63.57 L729.50 63.51 L728.73 63.46 L727.99 63.41 L727.28 63.34 L726.58 63.27 L725.90 63.19 L725.22 63.08 L724.55 62.95 L723.88 62.79 L723.20 62.60 L722.54 62.39 L721.87 62.16 L721.21 61.91 L720.54 61.65 L719.88 61.36 L719.24 61.06 L718.61 60.74 L718.01 60.41 L717.43 60.06 L716.88 59.69 L716.37 59.30 L715.90 58.90 L715.53 58.54 L715.20 58.15 L714.90 57.75 L714.62 57.33 L714.37 56.90 L714.12 56.46 L713.89 56.02 L713.66 55.57 L713.43 55.12 L713.20 54.67 L712.96 54.23 L712.70 53.80 Z M661.87 354.07 L665.77 354.13 L673.78 354.27 L681.78 354.42 L689.78 354.57 L697.77 354.73 L705.75 354.88 L713.72 355.02 L721.69 355.14 L729.66 355.25 L737.61 355.33 L745.56 355.38 L753.50 355.40 L761.44 355.38 L769.38 355.33 L777.33 355.25 L785.28 355.14 L793.24 355.02 L801.21 354.88 L809.18 354.73 L817.16 354.57 L825.15 354.42 L833.14 354.27 L841.14 354.13 L845.06 354.07 L845.00 351.11 L844.94 348.38 L844.88 345.60 L844.82 342.75 L844.75 339.80 L844.67 336.73 L844.59 333.50 L844.50 330.11 L844.34 324.60 L844.16 318.70 L843.96 312.46 L843.75 305.93 L843.52 299.18 L843.29 292.25 L843.05 285.20 L842.82 278.09 L842.59 270.96 L842.38 263.89 L842.18 256.92 L842.00 250.11 L841.81 243.16 L841.60 235.93 L841.36 228.51 L841.12 221.00 L840.89 213.47 L840.68 206.01 L840.50 198.72 L840.36 191.69 L840.28 185.00 L840.27 178.73 L840.34 172.98 L840.50 167.82 L840.64 165.31 L840.83 162.95 L841.04 160.75 L841.28 158.67 L841.54 156.71 L841.80 154.85 L842.06 153.07 L842.30 151.35 L842.52 149.68 L842.72 148.05 L842.88 146.41 L843.01 144.75 L843.08 143.29 L843.14 141.85 L843.18 140.42 L843.20 139.01 L843.21 137.60 L843.21 136.20 L843.21 134.81 L843.20 133.40 L843.19 131.99 L843.19 130.96 L841.97 130.92 L841.07 130.89 L840.15 130.83 L839.21 130.76 L838.25 130.65 L837.28 130.51 L836.33 130.33 L835.39 130.13 L834.45 129.92 L833.50 129.69 L832.53 129.43 L831.56 129.15 L830.57 128.84 L829.59 128.49 L828.61 128.11 L827.64 127.69 L826.68 127.22 L825.73 126.70 L824.83 126.14 L823.98 125.55 L823.16 124.94 L822.35 124.28 L821.55 123.59 L820.78 122.86 L820.02 122.10 L819.30 121.29 L818.61 120.45 L817.96 119.57 L817.36 118.66 L816.80 117.71 L816.30 116.70 L815.85 115.59 L815.50 114.46 L815.23 113.32 L815.04 112.20 L814.90 111.08 L814.81 109.98 L814.75 108.90 L814.72 107.83 L814.69 106.78 L814.67 105.75 L814.64 104.75 L814.60 103.74 L814.55 102.55 L814.52 101.32 L814.50 100.08 L814.50 98.82 L814.50 97.55 L814.53 96.27 L814.56 94.99 L814.61 93.71 L814.67 92.44 L814.74 91.16 L814.82 89.90 L814.91 88.64 L815.02 87.37 L815.14 86.10 L815.28 84.83 L815.44 83.57 L815.61 82.32 L815.78 81.08 L815.96 79.84 L816.14 78.62 L816.32 77.41 L816.50 76.21 L816.67 75.02 L816.83 73.84 L816.99 72.69 L817.14 71.55 L817.30 70.42 L817.46 69.29 L817.62 68.16 L817.78 67.04 L817.94 65.92 L818.10 64.80 L818.26 63.68 L818.40 62.66 L795.51 56.91 L795.14 57.66 L794.87 58.16 L794.57 58.69 L794.22 59.22 L793.83 59.76 L793.38 60.29 L792.88 60.80 L792.27 61.32 L791.64 61.80 L790.99 62.25 L790.31 62.66 L789.61 63.04 L788.91 63.40 L788.19 63.74 L787.46 64.05 L786.73 64.34 L786.00 64.61 L785.28 64.86 L784.55 65.09 L783.77 65.31 L783.00 65.49 L782.23 65.64 L781.47 65.76 L780.72 65.86 L779.96 65.93 L779.21 66.00 L778.45 66.05 L777.68 66.11 L776.89 66.16 L776.08 66.22 L775.22 66.29 L773.76 66.42 L772.17 66.54 L770.48 66.67 L768.71 66.80 L766.88 66.92 L764.99 67.03 L763.07 67.13 L761.13 67.22 L759.18 67.30 L757.26 67.35 L755.35 67.39 L753.50 67.40 L751.65 67.39 L749.74 67.35 L747.82 67.30 L745.87 67.22 L743.93 67.13 L742.01 67.03 L740.12 66.92 L738.29 66.80 L736.52 66.67 L734.83 66.54 L733.24 66.42 L731.78 66.29 L730.92 66.22 L730.11 66.16 L729.32 66.11 L728.55 66.05 L727.79 66.00 L727.04 65.93 L726.28 65.86 L725.53 65.76 L724.77 65.64 L724.00 65.49 L723.23 65.31 L722.45 65.09 L721.72 64.86 L721.00 64.61 L720.27 64.34 L719.54 64.05 L718.82 63.74 L718.10 63.40 L717.39 63.04 L716.70 62.66 L716.02 62.24 L715.37 61.80 L714.74 61.33 L714.14 60.81 L713.63 60.31 L713.18 59.78 L712.78 59.25 L712.42 58.72 L712.11 58.20 L711.83 57.69 L711.58 57.21 L711.43 56.91 L688.73 62.67 L688.85 63.79 L688.97 64.91 L689.09 66.03 L689.22 67.15 L689.34 68.27 L689.46 69.39 L689.59 70.51 L689.72 71.64 L689.84 72.77 L689.98 73.90 L690.12 75.07 L690.28 76.24 L690.44 77.43 L690.61 78.64 L690.79 79.86 L690.96 81.09 L691.14 82.33 L691.30 83.58 L691.45 84.85 L691.59 86.12 L691.70 87.40 L691.79 88.68 L691.87 89.95 L691.93 91.22 L691.97 92.50 L692.01 93.78 L692.03 95.06 L692.04 96.34 L692.04 97.62 L692.02 98.90 L691.99 100.16 L691.94 101.41 L691.87 102.64 L691.79 103.83 L691.72 104.85 L691.66 105.87 L691.60 106.90 L691.54 107.96 L691.46 109.03 L691.36 110.11 L691.23 111.21 L691.05 112.32 L690.82 113.43 L690.52 114.55 L690.14 115.67 L689.68 116.75 L689.17 117.74 L688.61 118.68 L688.01 119.58 L687.36 120.45 L686.68 121.28 L685.96 122.09 L685.21 122.85 L684.44 123.58 L683.65 124.28 L682.84 124.93 L682.02 125.55 L681.17 126.14 L680.26 126.71 L679.31 127.23 L678.35 127.69 L677.37 128.12 L676.38 128.50 L675.40 128.84 L674.42 129.15 L673.44 129.43 L672.48 129.69 L671.53 129.92 L670.60 130.13 L669.68 130.33 L668.77 130.50 L667.86 130.64 L666.96 130.75 L666.08 130.82 L665.22 130.88 L664.38 130.91 L663.57 130.94 L663.59 131.91 L663.61 133.32 L663.63 134.72 L663.65 136.13 L663.68 137.53 L663.72 138.94 L663.76 140.36 L663.82 141.79 L663.90 143.25 L663.99 144.71 L664.13 146.39 L664.30 148.03 L664.50 149.68 L664.73 151.35 L664.97 153.07 L665.23 154.85 L665.48 156.72 L665.73 158.68 L665.97 160.76 L666.18 162.96 L666.36 165.31 L666.50 167.83 L666.66 172.98 L666.73 178.73 L666.72 185.00 L666.64 191.69 L666.50 198.72 L666.32 206.01 L666.11 213.47 L665.88 221.00 L665.64 228.51 L665.40 235.93 L665.19 243.16 L665.00 250.11 L664.82 256.91 L664.62 263.89 L664.41 270.96 L664.19 278.08 L663.96 285.20 L663.73 292.25 L663.49 299.18 L663.27 305.93 L663.05 312.46 L662.85 318.71 L662.66 324.61 L662.50 330.12 L662.40 333.51 L662.31 336.73 L662.23 339.81 L662.15 342.76 L662.08 345.61 L662.01 348.39 L661.94 351.12 Z" fill="none" stroke="#000" stroke-width="1.50" stroke-linejoin="miter"/>
<line x1="739.2" y1="101.9" x2="739.2" y2="202.2" stroke="#000" stroke-width="1.90"/>
<path d="M736.2 201.2 L742.2 201.2 L739.2 206.4 Z" fill="#000" stroke="#000" stroke-width="0.6"/>
<path d="M506.30 322.60 L506.37 323.62 L506.44 324.64 L506.51 325.66 L506.58 326.67 L506.64 327.69 L506.71 328.70 L506.78 329.72 L506.85 330.74 L506.93 331.77 L507.01 332.81 L507.10 333.85 L507.20 334.90 L507.32 336.04 L507.45 337.18 L507.59 338.34 L507.74 339.50 L507.89 340.67 L508.05 341.84 L508.21 343.02 L508.36 344.19 L508.51 345.37 L508.65 346.55 L508.78 347.73 L508.90 348.90 L509.03 350.09 L509.18 351.31 L509.36 352.55 L509.54 353.80 L509.71 355.05 L509.87 356.30 L510.00 357.52 L510.09 358.71 L510.12 359.87 L510.10 360.97 L509.99 362.02 L509.80 363.00 L509.60 363.71 L509.36 364.39 L509.09 365.05 L508.79 365.68 L508.46 366.29 L508.09 366.88 L507.71 367.45 L507.29 368.00 L506.85 368.53 L506.39 369.04 L505.90 369.53 L505.40 370.00 L504.82 370.50 L504.19 370.99 L503.52 371.46 L502.82 371.91 L502.10 372.33 L501.34 372.73 L500.57 373.10 L499.79 373.44 L498.99 373.74 L498.19 374.01 L497.39 374.23 L496.60 374.40 L495.77 374.52 L494.92 374.58 L494.05 374.59 L493.16 374.55 L492.26 374.47 L491.36 374.36 L490.46 374.23 L489.56 374.08 L488.67 373.93 L487.79 373.77 L486.94 373.63 L486.10 373.50 L485.36 373.39 L484.64 373.27 L483.93 373.13 L483.22 373.00 L482.53 372.85 L481.84 372.70 L481.15 372.55 L480.46 372.40 L479.78 372.24 L479.09 372.09 L478.40 371.94 L477.70 371.80 L477.70 390.20 L471.70 400.80 L478.20 411.30 L478.24 412.42 L478.28 413.50 L478.33 414.56 L478.37 415.61 L478.42 416.66 L478.47 417.72 L478.51 418.81 L478.55 419.93 L478.58 421.09 L478.60 422.32 L478.61 423.62 L478.60 425.00 L478.56 427.48 L478.48 430.15 L478.38 432.99 L478.25 435.99 L478.09 439.12 L477.92 442.36 L477.74 445.69 L477.55 449.09 L477.35 452.54 L477.16 456.02 L476.98 459.52 L476.80 463.00 L476.59 467.24 L476.36 471.55 L476.13 475.92 L475.89 480.36 L475.64 484.87 L475.39 489.47 L475.14 494.15 L474.90 498.92 L474.66 503.78 L474.43 508.75 L474.21 513.82 L474.00 519.00 L473.75 526.07 L473.50 533.79 L473.26 542.00 L473.03 550.53 L472.80 559.21 L472.59 567.88 L472.39 576.38 L472.20 584.54 L472.02 592.20 L471.87 599.19 L471.72 605.34 L471.60 610.50 L471.55 612.40 L471.51 614.13 L471.47 615.73 L471.44 617.20 L471.41 618.59 L471.38 619.90 L471.35 621.16 L471.32 622.40 L471.29 623.64 L471.26 624.91 L471.23 626.22 L471.20 627.60 L479.27 628.01 L487.33 628.47 L495.40 628.97 L503.47 629.47 L511.54 629.98 L519.61 630.48 L527.67 630.94 L535.74 631.35 L543.81 631.70 L551.87 631.97 L559.94 632.14 L568.00 632.20 L576.05 632.14 L584.11 631.97 L592.16 631.70 L600.21 631.35 L608.26 630.93 L616.31 630.47 L624.36 629.98 L632.40 629.47 L640.45 628.97 L648.50 628.47 L656.55 628.01 L664.60 627.60 L664.54 626.22 L664.49 624.91 L664.44 623.64 L664.38 622.40 L664.33 621.16 L664.28 619.90 L664.23 618.59 L664.17 617.20 L664.11 615.73 L664.05 614.13 L663.98 612.40 L663.90 610.50 L663.70 605.34 L663.46 599.19 L663.19 592.20 L662.90 584.55 L662.59 576.39 L662.27 567.89 L661.94 559.21 L661.61 550.53 L661.28 542.00 L660.97 533.80 L660.67 526.07 L660.40 519.00 L660.20 513.82 L660.00 508.75 L659.80 503.78 L659.60 498.92 L659.41 494.15 L659.22 489.47 L659.03 484.87 L658.86 480.36 L658.68 475.92 L658.51 471.55 L658.35 467.24 L658.20 463.00 L658.07 459.52 L657.93 456.02 L657.78 452.54 L657.63 449.09 L657.49 445.68 L657.35 442.35 L657.23 439.12 L657.13 435.99 L657.05 432.99 L657.00 430.15 L656.98 427.48 L657.00 425.00 L657.03 423.62 L657.08 422.32 L657.14 421.09 L657.21 419.93 L657.29 418.81 L657.37 417.72 L657.46 416.66 L657.55 415.61 L657.65 414.56 L657.74 413.50 L657.82 412.42 L657.90 411.30 L664.90 400.80 L657.90 390.20 L657.90 371.80 L657.17 371.98 L656.43 372.16 L655.70 372.34 L654.97 372.53 L654.24 372.71 L653.50 372.89 L652.77 373.07 L652.04 373.25 L651.30 373.42 L650.57 373.59 L649.84 373.75 L649.10 373.90 L648.37 374.05 L647.65 374.21 L646.92 374.38 L646.20 374.55 L645.47 374.71 L644.75 374.87 L644.02 375.00 L643.29 375.12 L642.55 375.22 L641.81 375.28 L641.06 375.31 L640.30 375.30 L639.44 375.25 L638.53 375.18 L637.60 375.08 L636.65 374.95 L635.70 374.79 L634.75 374.60 L633.81 374.37 L632.91 374.11 L632.04 373.82 L631.23 373.49 L630.48 373.11 L629.80 372.70 L629.28 372.33 L628.79 371.93 L628.33 371.51 L627.90 371.06 L627.49 370.59 L627.11 370.10 L626.76 369.57 L626.44 369.02 L626.14 368.44 L625.87 367.82 L625.62 367.18 L625.40 366.50 L625.13 365.37 L624.96 364.11 L624.87 362.74 L624.85 361.29 L624.89 359.76 L624.99 358.18 L625.11 356.58 L625.27 354.98 L625.43 353.38 L625.60 351.83 L625.76 350.32 L625.90 348.90 L626.02 347.67 L626.16 346.46 L626.31 345.26 L626.48 344.07 L626.66 342.90 L626.84 341.74 L627.04 340.58 L627.23 339.44 L627.43 338.30 L627.62 337.16 L627.82 336.03 L628.00 334.90 L628.17 333.85 L628.34 332.80 L628.52 331.77 L628.69 330.74 L628.87 329.72 L629.04 328.70 L629.22 327.68 L629.57 325.66 L629.75 324.64 L629.92 323.62 L630.10 322.60 L602.50 313.80 L602.44 314.82 L602.39 315.83 L602.35 316.84 L602.32 317.84 L602.29 318.85 L602.25 319.85 L602.20 320.86 L602.13 321.88 L602.05 322.91 L601.93 323.96 L601.79 325.02 L601.60 326.10 L601.34 327.44 L601.06 328.84 L600.76 330.30 L600.42 331.79 L600.06 333.29 L599.66 334.80 L599.22 336.28 L598.75 337.73 L598.23 339.12 L597.67 340.44 L597.06 341.67 L596.40 342.80 L595.82 343.65 L595.19 344.45 L594.53 345.21 L593.84 345.92 L593.11 346.60 L592.37 347.24 L591.60 347.86 L590.82 348.45 L590.02 349.03 L589.22 349.59 L588.41 350.15 L587.60 350.70 L586.78 351.25 L585.93 351.79 L585.07 352.33 L584.19 352.85 L583.30 353.35 L582.39 353.83 L581.49 354.28 L580.58 354.70 L579.67 355.09 L578.77 355.44 L577.88 355.74 L577.00 356.00 L576.24 356.18 L575.49 356.32 L574.74 356.42 L574.00 356.49 L573.26 356.53 L572.51 356.55 L571.77 356.55 L571.02 356.55 L570.27 356.53 L569.52 356.52 L568.76 356.50 L568.00 356.50 L567.19 356.51 L566.37 356.53 L565.55 356.55 L564.73 356.57 L563.90 356.58 L563.06 356.58 L562.23 356.56 L561.40 356.52 L560.57 356.44 L559.74 356.34 L558.92 356.19 L558.10 356.00 L557.21 355.74 L556.30 355.44 L555.40 355.09 L554.49 354.71 L553.58 354.29 L552.68 353.84 L551.79 353.36 L550.91 352.86 L550.05 352.34 L549.21 351.81 L548.39 351.26 L547.60 350.70 L546.85 350.15 L546.11 349.60 L545.39 349.03 L544.68 348.45 L543.98 347.84 L543.30 347.22 L542.64 346.57 L542.01 345.89 L541.39 345.18 L540.80 344.43 L540.24 343.64 L539.70 342.80 L539.07 341.67 L538.47 340.43 L537.92 339.10 L537.40 337.71 L536.92 336.27 L536.47 334.78 L536.05 333.28 L535.67 331.78 L535.31 330.30 L534.98 328.84 L534.68 327.44 L534.40 326.10 L534.20 325.02 L534.03 323.96 L533.89 322.91 L533.78 321.88 L533.69 320.86 L533.61 319.85 L533.55 318.85 L533.49 317.84 L533.43 316.84 L533.37 315.83 L533.29 314.82 L533.20 313.80 Z M475.43 617.50 L479.82 617.73 L487.94 618.19 L496.04 618.69 L504.12 619.19 L512.18 619.70 L520.21 620.19 L528.23 620.65 L536.23 621.06 L544.20 621.40 L552.15 621.67 L560.09 621.84 L568.00 621.90 L575.90 621.84 L583.82 621.67 L591.76 621.40 L599.72 621.06 L607.70 620.65 L615.70 620.19 L623.72 619.70 L631.75 619.19 L639.81 618.69 L647.89 618.19 L655.99 617.73 L660.18 617.51 L660.11 615.89 L660.05 614.30 L659.98 612.56 L659.90 610.66 L659.70 605.50 L659.46 599.34 L659.19 592.35 L658.90 584.70 L658.59 576.54 L658.27 568.04 L657.94 559.37 L657.61 550.68 L657.29 542.16 L656.97 533.95 L656.68 526.23 L656.40 519.16 L656.20 513.98 L656.00 508.91 L655.80 503.95 L655.60 499.08 L655.41 494.31 L655.22 489.63 L655.04 485.03 L654.86 480.52 L654.68 476.07 L654.52 471.70 L654.36 467.39 L654.20 463.15 L654.07 459.67 L653.93 456.19 L653.79 452.71 L653.64 449.26 L653.49 445.85 L653.36 442.51 L653.24 439.26 L653.13 436.11 L653.05 433.08 L653.00 430.20 L652.98 427.48 L653.00 424.94 L653.03 423.50 L653.08 422.15 L653.15 420.87 L653.22 419.66 L653.30 418.51 L653.39 417.40 L653.48 416.32 L653.57 415.26 L653.66 414.22 L653.75 413.18 L653.83 412.12 L653.98 409.96 L660.10 400.79 L653.90 391.40 L653.90 376.30 L652.83 376.56 L652.07 376.74 L651.31 376.91 L650.54 377.08 L649.79 377.23 L649.09 377.38 L648.40 377.53 L647.69 377.69 L646.96 377.86 L646.20 378.03 L645.42 378.20 L644.61 378.35 L643.77 378.49 L642.91 378.60 L642.02 378.68 L641.10 378.71 L640.18 378.70 L639.20 378.64 L638.21 378.56 L637.19 378.45 L636.14 378.31 L635.08 378.13 L634.01 377.92 L632.95 377.66 L631.89 377.36 L630.85 377.00 L629.83 376.59 L628.83 376.09 L627.92 375.53 L627.21 375.03 L626.57 374.51 L625.96 373.95 L625.39 373.36 L624.85 372.73 L624.34 372.07 L623.88 371.38 L623.46 370.65 L623.07 369.90 L622.73 369.12 L622.42 368.32 L622.13 367.43 L621.79 366.00 L621.57 364.46 L621.47 362.88 L621.45 361.26 L621.50 359.61 L621.59 357.95 L621.73 356.29 L621.88 354.64 L622.05 353.02 L622.22 351.46 L622.38 349.98 L622.52 348.57 L622.64 347.31 L622.78 346.05 L622.94 344.81 L623.11 343.58 L623.30 342.38 L623.49 341.19 L623.68 340.02 L623.88 338.86 L624.08 337.72 L624.27 336.59 L624.46 335.47 L624.64 334.35 L624.82 333.30 L624.99 332.25 L625.16 331.20 L625.34 330.17 L625.52 329.14 L625.69 328.12 L625.87 327.10 L626.05 326.09 L626.22 325.07 L626.37 324.24 L605.03 317.44 L604.98 318.94 L604.95 319.97 L604.90 321.01 L604.83 322.08 L604.74 323.17 L604.61 324.29 L604.45 325.43 L604.26 326.58 L603.99 327.96 L603.71 329.39 L603.40 330.87 L603.05 332.40 L602.67 333.96 L602.26 335.52 L601.80 337.08 L601.30 338.62 L600.74 340.12 L600.12 341.57 L599.44 342.96 L598.68 344.25 L597.99 345.25 L597.27 346.17 L596.51 347.04 L595.73 347.85 L594.92 348.60 L594.10 349.31 L593.26 349.99 L592.43 350.62 L591.59 351.23 L590.76 351.81 L589.93 352.38 L589.11 352.94 L588.26 353.51 L587.37 354.08 L586.47 354.64 L585.54 355.19 L584.59 355.72 L583.63 356.23 L582.66 356.71 L581.68 357.17 L580.69 357.59 L579.69 357.98 L578.69 358.32 L577.69 358.61 L576.80 358.82 L575.92 358.98 L575.05 359.10 L574.20 359.18 L573.37 359.23 L572.56 359.25 L571.76 359.25 L570.98 359.25 L570.22 359.23 L569.47 359.22 L568.74 359.20 L568.01 359.20 L567.23 359.21 L566.44 359.22 L565.62 359.25 L564.78 359.27 L563.91 359.28 L563.03 359.28 L562.13 359.26 L561.21 359.21 L560.28 359.13 L559.33 359.01 L558.37 358.84 L557.42 358.61 L556.40 358.32 L555.39 357.98 L554.39 357.60 L553.40 357.18 L552.41 356.72 L551.44 356.24 L550.48 355.73 L549.54 355.19 L548.62 354.64 L547.73 354.07 L546.86 353.48 L546.02 352.89 L545.24 352.32 L544.47 351.74 L543.70 351.14 L542.94 350.51 L542.18 349.86 L541.44 349.18 L540.71 348.46 L540.00 347.70 L539.31 346.89 L538.64 346.05 L538.00 345.15 L537.38 344.19 L536.67 342.91 L536.01 341.54 L535.41 340.10 L534.85 338.61 L534.34 337.08 L533.87 335.54 L533.44 333.98 L533.05 332.43 L532.68 330.91 L532.34 329.42 L532.04 328.00 L531.75 326.63 L531.54 325.48 L531.36 324.35 L531.21 323.23 L531.09 322.15 L531.00 321.08 L530.92 320.04 L530.85 319.01 L530.79 318.00 L530.76 317.44 L509.83 324.29 L509.90 325.43 L509.97 326.45 L510.03 327.46 L510.10 328.47 L510.17 329.48 L510.24 330.49 L510.32 331.51 L510.40 332.52 L510.49 333.54 L510.58 334.57 L510.70 335.67 L510.82 336.78 L510.96 337.91 L511.11 339.06 L511.26 340.22 L511.42 341.39 L511.58 342.57 L511.74 343.76 L511.89 344.96 L512.03 346.16 L512.17 347.37 L512.28 348.55 L512.40 349.69 L512.55 350.86 L512.72 352.07 L512.90 353.32 L513.08 354.60 L513.25 355.90 L513.39 357.22 L513.48 358.53 L513.53 359.86 L513.49 361.19 L513.36 362.52 L513.11 363.79 L512.84 364.73 L512.54 365.59 L512.20 366.43 L511.82 367.23 L511.40 368.00 L510.95 368.73 L510.46 369.44 L509.95 370.11 L509.42 370.76 L508.86 371.37 L508.28 371.96 L507.67 372.53 L506.97 373.13 L506.22 373.72 L505.43 374.28 L504.60 374.81 L503.75 375.30 L502.88 375.77 L501.98 376.20 L501.06 376.60 L500.12 376.95 L499.17 377.26 L498.21 377.53 L497.21 377.75 L496.14 377.90 L495.05 377.98 L493.98 377.99 L492.93 377.94 L491.91 377.85 L490.91 377.73 L489.94 377.59 L488.99 377.43 L488.09 377.28 L487.22 377.12 L486.39 376.99 L485.58 376.86 L484.82 376.74 L484.05 376.61 L483.29 376.47 L482.55 376.33 L481.70 376.15 L481.70 391.25 L476.35 400.71 L482.16 410.10 L482.23 412.28 L482.28 413.34 L482.32 414.38 L482.37 415.43 L482.42 416.48 L482.47 417.56 L482.51 418.66 L482.55 419.81 L482.58 421.01 L482.60 422.28 L482.61 423.61 L482.60 425.04 L482.56 427.57 L482.48 430.28 L482.37 433.16 L482.24 436.18 L482.09 439.32 L481.92 442.57 L481.73 445.91 L481.54 449.31 L481.35 452.76 L481.16 456.24 L480.97 459.72 L480.79 463.20 L480.58 467.45 L480.36 471.76 L480.12 476.13 L479.88 480.58 L479.63 485.09 L479.39 489.68 L479.14 494.36 L478.89 499.12 L478.65 503.97 L478.42 508.93 L478.20 513.99 L478.00 519.15 L477.74 526.21 L477.50 533.92 L477.26 542.11 L477.02 550.63 L476.80 559.31 L476.59 567.98 L476.39 576.48 L476.20 584.64 L476.02 592.29 L475.86 599.28 L475.72 605.44 L475.60 610.60 L475.55 612.50 L475.51 614.23 L475.47 615.82 Z" fill="none" stroke="#000" stroke-width="1.50" stroke-linejoin="miter"/>
<rect x="565.90" y="356.60" width="4.20" height="2.40" fill="#fff"/>
<path d="M564.40 357.80 L564.39 358.50 L564.37 359.21 L564.34 359.90 L564.32 360.60 L564.29 361.30 L564.27 362.00 L564.25 362.70 L564.24 363.41 L564.23 364.11 L564.23 364.83 L564.24 365.54 L564.26 366.27 L564.28 367.06 L564.31 367.88 L564.33 368.71 L564.36 369.55 L564.40 370.39 L564.44 371.23 L564.50 372.07 L564.58 372.89 L564.68 373.70 L564.80 374.48 L564.95 375.23 L565.12 375.95 L565.29 376.56 L565.49 377.20 L565.70 377.87 L565.93 378.55 L566.18 379.21 L566.44 379.84 L566.70 380.43 L566.97 380.95 L567.23 381.38 L567.50 381.71 L567.75 381.93 L568.00 382.00 L568.25 381.93 L568.50 381.71 L568.77 381.38 L569.03 380.95 L569.30 380.43 L569.56 379.84 L569.82 379.21 L570.07 378.55 L570.30 377.87 L570.51 377.20 L570.71 376.56 L570.88 375.95 L571.05 375.23 L571.20 374.48 L571.32 373.70 L571.42 372.89 L571.50 372.07 L571.56 371.23 L571.60 370.39 L571.64 369.55 L571.67 368.71 L571.69 367.88 L571.72 367.06 L571.74 366.27 L571.76 365.54 L571.77 364.83 L571.77 364.11 L571.76 363.41 L571.75 362.70 L571.73 362.00 L571.71 361.30 L571.68 360.60 L571.66 359.90 L571.63 359.21 L571.61 358.50 L571.60 357.80" fill="none" stroke="#000" stroke-width="1.40"/>
<path d="M566.20 357.80 L566.19 358.44 L566.18 359.08 L566.17 359.71 L566.16 360.35 L566.15 360.98 L566.14 361.62 L566.13 362.26 L566.12 362.90 L566.11 363.54 L566.11 364.19 L566.12 364.84 L566.13 365.50 L566.14 366.22 L566.15 366.96 L566.16 367.71 L566.18 368.47 L566.19 369.24 L566.22 370.00 L566.25 370.76 L566.28 371.51 L566.33 372.24 L566.39 372.95 L566.47 373.64 L566.56 374.30 L566.65 374.84 L566.74 375.42 L566.85 376.03 L566.97 376.64 L567.09 377.25 L567.22 377.82 L567.35 378.36 L567.48 378.83 L567.62 379.23 L567.75 379.54 L567.88 379.73 L568.00 379.80 L568.12 379.73 L568.25 379.54 L568.38 379.23 L568.52 378.83 L568.65 378.36 L568.78 377.82 L568.91 377.25 L569.03 376.64 L569.15 376.03 L569.26 375.42 L569.35 374.84 L569.44 374.30 L569.53 373.64 L569.61 372.95 L569.67 372.24 L569.72 371.51 L569.75 370.76 L569.78 370.00 L569.81 369.24 L569.82 368.47 L569.84 367.71 L569.85 366.96 L569.86 366.22 L569.87 365.50 L569.88 364.84 L569.89 364.19 L569.89 363.54 L569.88 362.90 L569.87 362.26 L569.86 361.62 L569.85 360.98 L569.84 360.35 L569.83 359.71 L569.82 359.08 L569.81 358.44 L569.80 357.80" fill="none" stroke="#000" stroke-width="1.40"/>
<line x1="568.00" y1="355.00" x2="568.00" y2="379.50" stroke="#000" stroke-width="0.9" stroke-opacity="0.6"/>
<line x1="576.3" y1="384.6" x2="576.3" y2="483.4" stroke="#000" stroke-width="1.90"/>
<path d="M573.3 482.4 L579.3 482.4 L576.3 487.6 Z" fill="#000" stroke="#000" stroke-width="0.6"/>
<path d="M90.77 325.79 L92.96 327.16 L94.00 327.82 L95.05 328.50 L96.10 329.19 L97.15 329.87 L98.20 330.56 L99.26 331.24 L100.34 331.91 L101.41 332.56 L102.50 333.19 L103.61 333.79 L104.72 334.36 L105.78 334.89 L106.85 335.40 L107.93 335.89 L109.01 336.38 L110.10 336.85 L111.19 337.29 L112.30 337.72 L113.40 338.13 L114.52 338.50 L115.64 338.86 L116.77 339.18 L117.90 339.46 L119.00 339.71 L120.10 339.94 L121.21 340.14 L122.33 340.32 L123.45 340.47 L124.57 340.59 L125.69 340.69 L126.82 340.76 L127.95 340.81 L129.08 340.83 L130.21 340.83 L131.35 340.80 L132.54 340.74 L133.74 340.65 L134.96 340.53 L136.17 340.38 L137.39 340.20 L138.61 340.00 L139.82 339.77 L141.03 339.51 L142.22 339.23 L143.40 338.92 L144.56 338.59 L145.70 338.24 L146.79 337.87 L147.88 337.47 L148.97 337.04 L150.04 336.59 L151.11 336.11 L152.16 335.61 L153.19 335.10 L154.20 334.56 L155.18 334.01 L156.14 333.44 L157.06 332.86 L157.94 332.27 L158.69 331.73 L159.39 331.16 L160.06 330.59 L160.70 330.00 L161.32 329.41 L161.91 328.81 L162.48 328.22 L163.05 327.62 L163.61 327.04 L164.16 326.46 L164.72 325.90 L166.12 324.54 L164.93 322.94 L164.43 322.25 L163.92 321.56 L163.42 320.87 L162.92 320.18 L162.41 319.49 L161.90 318.79 L161.38 318.10 L160.86 317.40 L160.32 316.69 L159.77 315.99 L159.22 315.29 L158.61 314.53 L158.00 313.77 L157.38 313.00 L156.75 312.22 L156.11 311.45 L155.46 310.67 L154.79 309.89 L154.12 309.12 L153.43 308.36 L152.74 307.61 L152.03 306.88 L151.31 306.17 L150.60 305.48 L149.88 304.79 L149.15 304.10 L148.41 303.41 L147.65 302.72 L146.88 302.05 L146.09 301.40 L145.28 300.77 L144.46 300.18 L143.62 299.62 L142.76 299.10 L141.88 298.63 L141.04 298.25 L140.19 297.89 L139.33 297.58 L138.46 297.30 L137.58 297.04 L136.69 296.83 L135.80 296.64 L134.91 296.47 L134.02 296.34 L133.13 296.24 L132.24 296.16 L131.36 296.10 L130.48 296.07 L129.59 296.08 L128.70 296.11 L127.81 296.18 L126.93 296.27 L126.04 296.39 L125.16 296.53 L124.28 296.69 L123.41 296.88 L122.55 297.09 L121.69 297.31 L120.83 297.55 L119.95 297.82 L119.06 298.11 L118.18 298.43 L117.29 298.76 L116.41 299.12 L115.53 299.51 L114.66 299.92 L113.79 300.36 L112.92 300.83 L112.06 301.33 L111.21 301.86 L110.36 302.43 L109.37 303.15 L108.39 303.92 L107.41 304.75 L106.44 305.62 L105.48 306.52 L104.54 307.46 L103.61 308.41 L102.70 309.38 L101.81 310.36 L100.95 311.34 L100.11 312.31 L99.30 313.27 L98.55 314.20 L97.83 315.14 L97.14 316.09 L96.47 317.05 L95.83 318.01 L95.20 318.97 L94.59 319.93 L93.98 320.89 L93.37 321.85 L92.76 322.80 L92.15 323.74 Z M94.43 325.01 L95.41 325.64 L96.47 326.32 L97.52 327.01 L98.57 327.70 L99.61 328.37 L100.65 329.04 L101.69 329.69 L102.74 330.32 L103.78 330.92 L104.83 331.49 L105.88 332.04 L106.92 332.54 L107.96 333.04 L109.01 333.53 L110.05 334.00 L111.10 334.45 L112.16 334.88 L113.21 335.29 L114.27 335.67 L115.33 336.03 L116.38 336.36 L117.44 336.67 L118.50 336.94 L119.55 337.17 L120.60 337.39 L121.65 337.58 L122.70 337.74 L123.76 337.89 L124.82 338.00 L125.89 338.10 L126.96 338.17 L128.03 338.21 L129.10 338.23 L130.17 338.23 L131.25 338.20 L132.38 338.14 L133.52 338.06 L134.67 337.94 L135.83 337.80 L136.99 337.63 L138.15 337.44 L139.31 337.22 L140.46 336.97 L141.60 336.71 L142.72 336.41 L143.82 336.10 L144.90 335.76 L145.93 335.41 L146.96 335.04 L147.99 334.63 L149.01 334.20 L150.02 333.75 L151.02 333.28 L152.00 332.79 L152.95 332.28 L153.88 331.76 L154.78 331.22 L155.64 330.68 L156.46 330.13 L157.11 329.66 L157.74 329.16 L158.34 328.64 L158.92 328.11 L159.49 327.56 L160.05 326.99 L160.61 326.42 L161.16 325.83 L161.73 325.24 L162.30 324.64 L162.68 324.26 L162.33 323.79 L161.82 323.09 L161.32 322.40 L160.82 321.71 L160.32 321.02 L159.81 320.34 L159.30 319.65 L158.79 318.97 L158.26 318.28 L157.73 317.60 L157.18 316.91 L156.58 316.16 L155.97 315.40 L155.36 314.64 L154.73 313.87 L154.10 313.10 L153.47 312.34 L152.83 311.59 L152.18 310.85 L151.52 310.12 L150.85 309.40 L150.18 308.71 L149.49 308.03 L148.79 307.36 L148.08 306.67 L147.37 305.99 L146.65 305.32 L145.92 304.67 L145.19 304.04 L144.46 303.43 L143.72 302.85 L142.98 302.31 L142.23 301.81 L141.48 301.37 L140.72 300.97 L139.99 300.63 L139.24 300.32 L138.48 300.04 L137.70 299.78 L136.91 299.56 L136.11 299.36 L135.30 299.19 L134.49 299.04 L133.67 298.92 L132.86 298.82 L132.04 298.75 L131.24 298.70 L130.45 298.67 L129.65 298.68 L128.85 298.71 L128.04 298.77 L127.23 298.85 L126.42 298.96 L125.61 299.09 L124.80 299.24 L123.98 299.42 L123.17 299.61 L122.37 299.82 L121.57 300.05 L120.73 300.30 L119.90 300.58 L119.07 300.87 L118.25 301.18 L117.43 301.52 L116.61 301.87 L115.80 302.25 L115.00 302.66 L114.20 303.10 L113.40 303.56 L112.62 304.05 L111.84 304.57 L110.94 305.22 L110.03 305.94 L109.12 306.71 L108.20 307.53 L107.29 308.39 L106.39 309.29 L105.49 310.21 L104.61 311.15 L103.75 312.10 L102.91 313.05 L102.09 314.00 L101.30 314.93 L100.59 315.80 L99.91 316.69 L99.26 317.59 L98.62 318.51 L98.00 319.44 L97.39 320.38 L96.78 321.33 L96.17 322.29 L95.56 323.25 L94.95 324.21 Z" fill="none" stroke="#000" stroke-width="1.50" stroke-linejoin="miter"/>
<line x1="131.3" y1="297.0" x2="131.3" y2="318.0" stroke="#000" stroke-width="1.90"/>
<path d="M128.3 317.0 L134.3 317.0 L131.3 322.2 Z" fill="#000" stroke="#000" stroke-width="0.6"/>
<path d="M200.06 335.49 L202.45 337.35 L203.88 338.52 L205.33 339.74 L206.78 340.99 L208.24 342.23 L209.70 343.47 L211.18 344.68 L212.67 345.84 L214.17 346.92 L215.68 347.93 L217.22 348.82 L218.77 349.59 L220.06 350.12 L221.37 350.57 L222.68 350.96 L224.00 351.29 L225.31 351.57 L226.61 351.79 L227.89 351.98 L229.15 352.13 L230.38 352.25 L231.57 352.35 L232.72 352.43 L233.82 352.50 L234.64 352.54 L235.42 352.58 L236.17 352.59 L236.90 352.60 L237.63 352.58 L238.35 352.55 L239.07 352.49 L239.80 352.42 L240.55 352.32 L241.32 352.19 L242.13 352.05 L242.98 351.87 L244.30 351.55 L245.71 351.17 L247.17 350.72 L248.69 350.22 L250.23 349.67 L251.81 349.08 L253.38 348.46 L254.95 347.82 L256.50 347.16 L258.01 346.50 L259.47 345.83 L260.87 345.17 L262.10 344.55 L263.29 343.92 L264.45 343.26 L265.59 342.59 L266.71 341.91 L267.81 341.22 L268.89 340.52 L269.97 339.83 L271.04 339.14 L272.11 338.45 L273.18 337.78 L275.51 336.36 L273.65 333.93 L272.69 332.64 L271.74 331.32 L270.78 329.99 L269.82 328.66 L268.85 327.32 L267.87 326.00 L266.87 324.70 L265.85 323.43 L264.80 322.19 L263.72 321.00 L262.61 319.87 L261.58 318.89 L260.53 317.92 L259.47 316.97 L258.39 316.04 L257.29 315.14 L256.18 314.28 L255.05 313.45 L253.90 312.66 L252.73 311.91 L251.55 311.22 L250.34 310.58 L249.13 310.01 L247.97 309.53 L246.79 309.09 L245.58 308.69 L244.36 308.34 L243.13 308.03 L241.90 307.76 L240.66 307.54 L239.43 307.36 L238.21 307.23 L237.01 307.14 L235.82 307.10 L234.67 307.10 L233.65 307.15 L232.65 307.23 L231.66 307.35 L230.68 307.51 L229.71 307.71 L228.75 307.94 L227.80 308.21 L226.85 308.51 L225.92 308.84 L224.99 309.20 L224.06 309.60 L223.13 310.03 L222.08 310.56 L221.03 311.14 L219.97 311.77 L218.93 312.44 L217.89 313.15 L216.86 313.91 L215.85 314.69 L214.85 315.52 L213.87 316.37 L212.91 317.26 L211.97 318.17 L211.05 319.11 L210.05 320.23 L209.10 321.41 L208.18 322.64 L207.30 323.92 L206.44 325.23 L205.60 326.56 L204.78 327.91 L203.97 329.25 L203.17 330.59 L202.36 331.92 L201.55 333.21 Z M203.54 334.91 L204.07 335.32 L205.54 336.52 L207.01 337.76 L208.47 339.01 L209.92 340.25 L211.36 341.47 L212.80 342.65 L214.23 343.76 L215.65 344.79 L217.06 345.72 L218.45 346.53 L219.83 347.21 L220.98 347.69 L222.16 348.10 L223.36 348.45 L224.58 348.76 L225.80 349.01 L227.02 349.22 L228.23 349.40 L229.43 349.54 L230.62 349.66 L231.77 349.76 L232.89 349.83 L233.98 349.90 L234.76 349.95 L235.50 349.98 L236.21 349.99 L236.88 350.00 L237.54 349.98 L238.19 349.95 L238.84 349.90 L239.50 349.83 L240.18 349.74 L240.88 349.63 L241.63 349.49 L242.42 349.33 L243.66 349.04 L244.98 348.67 L246.38 348.24 L247.84 347.76 L249.35 347.23 L250.88 346.65 L252.42 346.05 L253.95 345.42 L255.47 344.78 L256.95 344.13 L258.38 343.47 L259.73 342.83 L260.90 342.25 L262.04 341.64 L263.16 341.01 L264.25 340.36 L265.34 339.70 L266.41 339.02 L267.49 338.34 L268.56 337.64 L269.63 336.95 L270.72 336.26 L271.69 335.65 L271.58 335.50 L270.60 334.18 L269.63 332.85 L268.67 331.51 L267.71 330.18 L266.76 328.86 L265.80 327.57 L264.83 326.30 L263.85 325.08 L262.85 323.91 L261.83 322.79 L260.79 321.73 L259.80 320.78 L258.78 319.84 L257.76 318.93 L256.72 318.04 L255.67 317.18 L254.61 316.35 L253.54 315.57 L252.46 314.82 L251.38 314.13 L250.28 313.49 L249.18 312.91 L248.07 312.39 L247.02 311.95 L245.93 311.54 L244.81 311.18 L243.68 310.85 L242.54 310.56 L241.39 310.31 L240.24 310.10 L239.10 309.94 L237.97 309.82 L236.87 309.73 L235.78 309.70 L234.73 309.70 L233.82 309.74 L232.91 309.82 L232.02 309.93 L231.14 310.07 L230.27 310.25 L229.40 310.46 L228.54 310.70 L227.68 310.97 L226.83 311.27 L225.97 311.61 L225.12 311.98 L224.27 312.37 L223.29 312.86 L222.32 313.40 L221.34 313.98 L220.37 314.61 L219.39 315.27 L218.43 315.98 L217.47 316.72 L216.53 317.50 L215.60 318.31 L214.69 319.15 L213.81 320.01 L212.95 320.89 L212.03 321.91 L211.15 323.00 L210.29 324.16 L209.45 325.37 L208.63 326.63 L207.82 327.93 L207.01 329.25 L206.20 330.59 L205.39 331.94 L204.57 333.29 L203.73 334.62 Z" fill="none" stroke="#000" stroke-width="1.50" stroke-linejoin="miter"/>
<line x1="234.7" y1="308.8" x2="234.7" y2="330.3" stroke="#000" stroke-width="1.90"/>
<path d="M231.7 329.3 L237.7 329.3 L234.7 334.5 Z" fill="#000" stroke="#000" stroke-width="0.6"/>
<path d="M568.37 163.36 L570.79 164.70 L571.80 165.27 L572.80 165.85 L573.80 166.42 L574.81 167.00 L575.82 167.58 L576.84 168.16 L577.88 168.74 L578.94 169.31 L580.01 169.87 L581.11 170.43 L582.24 170.97 L583.53 171.58 L584.85 172.19 L586.20 172.80 L587.58 173.41 L588.98 174.02 L590.39 174.61 L591.81 175.19 L593.24 175.74 L594.68 176.27 L596.11 176.77 L597.53 177.23 L598.94 177.65 L600.24 178.01 L601.54 178.36 L602.83 178.68 L604.13 178.99 L605.43 179.27 L606.73 179.53 L608.04 179.76 L609.35 179.96 L610.67 180.12 L611.99 180.25 L613.33 180.35 L614.67 180.40 L616.07 180.41 L617.49 180.39 L618.92 180.34 L620.37 180.25 L621.83 180.13 L623.28 179.96 L624.72 179.77 L626.15 179.54 L627.56 179.27 L628.94 178.96 L630.28 178.62 L631.58 178.24 L632.73 177.87 L633.86 177.46 L634.97 177.02 L636.06 176.56 L637.13 176.06 L638.19 175.53 L639.22 174.98 L640.23 174.40 L641.21 173.79 L642.17 173.16 L643.10 172.51 L644.01 171.82 L644.85 171.12 L645.66 170.37 L646.42 169.60 L647.15 168.80 L647.84 167.99 L648.51 167.17 L649.17 166.35 L649.81 165.52 L650.45 164.71 L651.08 163.90 L651.72 163.12 L653.16 161.45 L651.72 159.96 L651.10 159.32 L650.49 158.69 L649.88 158.07 L649.27 157.44 L648.66 156.81 L648.05 156.18 L647.44 155.55 L646.82 154.90 L646.20 154.25 L645.58 153.59 L644.96 152.92 L644.27 152.16 L643.59 151.38 L642.90 150.57 L642.21 149.74 L641.51 148.89 L640.80 148.04 L640.07 147.18 L639.34 146.33 L638.58 145.48 L637.81 144.65 L637.01 143.84 L636.19 143.05 L635.35 142.28 L634.49 141.50 L633.62 140.72 L632.72 139.94 L631.81 139.17 L630.89 138.42 L629.94 137.69 L628.99 136.99 L628.02 136.33 L627.05 135.71 L626.06 135.14 L625.07 134.63 L624.18 134.23 L623.29 133.86 L622.39 133.53 L621.48 133.24 L620.58 132.98 L619.67 132.75 L618.76 132.54 L617.86 132.37 L616.96 132.22 L616.07 132.09 L615.18 131.99 L614.31 131.90 L613.50 131.85 L612.69 131.81 L611.89 131.79 L611.09 131.79 L610.30 131.82 L609.50 131.87 L608.71 131.94 L607.91 132.03 L607.11 132.15 L606.31 132.29 L605.50 132.45 L604.69 132.64 L603.77 132.87 L602.84 133.14 L601.90 133.44 L600.96 133.76 L600.01 134.12 L599.07 134.50 L598.12 134.91 L597.18 135.35 L596.24 135.82 L595.32 136.32 L594.40 136.85 L593.50 137.41 L592.50 138.08 L591.51 138.79 L590.55 139.55 L589.60 140.35 L588.67 141.17 L587.75 142.02 L586.83 142.90 L585.92 143.80 L585.01 144.71 L584.10 145.63 L583.19 146.56 L582.27 147.49 L581.20 148.60 L580.12 149.75 L579.05 150.94 L577.97 152.15 L576.90 153.39 L575.82 154.64 L574.75 155.90 L573.68 157.16 L572.61 158.43 L571.55 159.68 L570.48 160.92 Z M572.43 162.64 L573.08 163.01 L574.10 163.59 L575.10 164.17 L576.10 164.75 L577.11 165.32 L578.11 165.89 L579.13 166.46 L580.16 167.01 L581.20 167.56 L582.27 168.10 L583.36 168.63 L584.63 169.22 L585.93 169.83 L587.27 170.43 L588.62 171.03 L589.99 171.62 L591.38 172.21 L592.77 172.77 L594.16 173.31 L595.56 173.82 L596.94 174.30 L598.31 174.75 L599.66 175.15 L600.93 175.50 L602.19 175.84 L603.45 176.16 L604.70 176.46 L605.96 176.73 L607.21 176.97 L608.46 177.19 L609.70 177.38 L610.96 177.54 L612.21 177.66 L613.47 177.75 L614.73 177.80 L616.06 177.81 L617.42 177.80 L618.79 177.74 L620.18 177.66 L621.57 177.54 L622.96 177.38 L624.34 177.20 L625.70 176.98 L627.03 176.72 L628.34 176.43 L629.60 176.11 L630.82 175.76 L631.88 175.41 L632.94 175.03 L633.98 174.62 L635.00 174.18 L636.01 173.72 L636.99 173.22 L637.96 172.71 L638.90 172.17 L639.81 171.60 L640.70 171.01 L641.57 170.40 L642.39 169.78 L643.14 169.16 L643.85 168.51 L644.53 167.81 L645.20 167.08 L645.85 166.32 L646.49 165.54 L647.12 164.74 L647.76 163.92 L648.40 163.10 L649.06 162.27 L649.65 161.55 L649.24 161.13 L648.63 160.51 L648.02 159.88 L647.41 159.25 L646.79 158.62 L646.18 157.99 L645.56 157.35 L644.94 156.70 L644.31 156.04 L643.68 155.37 L643.04 154.68 L642.33 153.89 L641.62 153.07 L640.91 152.24 L640.21 151.40 L639.51 150.56 L638.81 149.71 L638.10 148.87 L637.38 148.05 L636.66 147.24 L635.93 146.45 L635.18 145.68 L634.41 144.95 L633.59 144.20 L632.75 143.43 L631.90 142.67 L631.03 141.92 L630.16 141.18 L629.27 140.46 L628.38 139.77 L627.49 139.11 L626.59 138.50 L625.70 137.94 L624.81 137.42 L623.93 136.97 L623.15 136.61 L622.35 136.29 L621.54 135.99 L620.72 135.72 L619.89 135.49 L619.06 135.27 L618.23 135.09 L617.40 134.93 L616.56 134.79 L615.73 134.67 L614.91 134.57 L614.09 134.50 L613.34 134.44 L612.60 134.40 L611.87 134.39 L611.14 134.39 L610.42 134.42 L609.69 134.46 L608.97 134.52 L608.25 134.61 L607.52 134.71 L606.79 134.84 L606.05 134.99 L605.31 135.16 L604.45 135.38 L603.59 135.63 L602.72 135.91 L601.84 136.21 L600.96 136.54 L600.07 136.90 L599.19 137.28 L598.31 137.69 L597.44 138.13 L596.58 138.59 L595.73 139.08 L594.90 139.59 L593.99 140.21 L593.09 140.87 L592.19 141.57 L591.30 142.32 L590.41 143.10 L589.53 143.92 L588.64 144.77 L587.75 145.64 L586.86 146.54 L585.96 147.45 L585.05 148.38 L584.13 149.31 L583.08 150.39 L582.04 151.51 L580.98 152.67 L579.93 153.87 L578.87 155.09 L577.80 156.33 L576.74 157.58 L575.67 158.84 L574.60 160.11 L573.52 161.37 L572.45 162.62 Z" fill="none" stroke="#000" stroke-width="1.50" stroke-linejoin="miter"/>
<line x1="614.5" y1="133.0" x2="614.5" y2="152.1" stroke="#000" stroke-width="1.90"/>
<path d="M611.5 151.1 L617.5 151.1 L614.5 156.3 Z" fill="#000" stroke="#000" stroke-width="0.6"/>
<path d="M562.70 239.54 L564.81 241.19 L565.91 242.06 L567.02 242.96 L568.14 243.86 L569.25 244.77 L570.37 245.67 L571.50 246.56 L572.62 247.43 L573.74 248.28 L574.86 249.10 L575.99 249.87 L577.10 250.60 L578.03 251.18 L578.95 251.74 L579.85 252.28 L580.76 252.81 L581.66 253.32 L582.57 253.81 L583.48 254.27 L584.41 254.72 L585.35 255.14 L586.32 255.53 L587.30 255.90 L588.30 256.24 L589.37 256.56 L590.46 256.86 L591.57 257.13 L592.68 257.37 L593.82 257.58 L594.96 257.77 L596.10 257.92 L597.26 258.05 L598.42 258.16 L599.58 258.23 L600.73 258.28 L601.89 258.30 L603.11 258.29 L604.35 258.24 L605.60 258.16 L606.85 258.04 L608.10 257.90 L609.35 257.73 L610.60 257.53 L611.84 257.31 L613.06 257.07 L614.27 256.82 L615.46 256.55 L616.62 256.26 L617.69 255.98 L618.74 255.67 L619.76 255.35 L620.76 255.02 L621.76 254.66 L622.74 254.29 L623.73 253.90 L624.72 253.50 L625.72 253.07 L626.73 252.63 L627.77 252.17 L628.84 251.68 L630.23 251.03 L631.66 250.33 L633.12 249.58 L634.59 248.80 L636.09 247.99 L637.59 247.16 L639.11 246.31 L640.63 245.46 L642.14 244.61 L643.65 243.77 L645.14 242.95 L647.88 241.46 L646.54 239.48 L646.02 238.69 L645.51 237.90 L644.99 237.10 L644.47 236.29 L643.94 235.48 L643.41 234.67 L642.86 233.87 L642.31 233.06 L641.73 232.26 L641.13 231.47 L640.51 230.68 L639.86 229.89 L639.20 229.10 L638.52 228.31 L637.82 227.53 L637.12 226.75 L636.40 225.99 L635.67 225.23 L634.93 224.48 L634.18 223.74 L633.41 223.02 L632.64 222.31 L631.85 221.62 L631.05 220.94 L630.24 220.28 L629.42 219.62 L628.58 218.98 L627.73 218.35 L626.88 217.74 L626.02 217.14 L625.15 216.55 L624.28 215.98 L623.40 215.43 L622.53 214.90 L621.66 214.38 L620.83 213.90 L620.00 213.42 L619.16 212.95 L618.32 212.49 L617.46 212.04 L616.60 211.61 L615.74 211.19 L614.87 210.80 L613.99 210.44 L613.11 210.10 L612.23 209.81 L611.34 209.55 L610.55 209.34 L609.75 209.17 L608.96 209.02 L608.18 208.89 L607.39 208.79 L606.60 208.71 L605.81 208.65 L605.01 208.62 L604.22 208.61 L603.42 208.62 L602.61 208.65 L601.80 208.70 L600.89 208.79 L599.97 208.90 L599.04 209.03 L598.11 209.20 L597.16 209.39 L596.22 209.61 L595.28 209.85 L594.34 210.11 L593.41 210.40 L592.50 210.71 L591.59 211.04 L590.70 211.40 L589.81 211.79 L588.92 212.20 L588.04 212.63 L587.17 213.09 L586.31 213.58 L585.45 214.09 L584.61 214.62 L583.78 215.17 L582.96 215.75 L582.15 216.34 L581.35 216.96 L580.56 217.61 L579.73 218.33 L578.91 219.10 L578.12 219.90 L577.35 220.73 L576.59 221.57 L575.85 222.44 L575.12 223.31 L574.40 224.19 L573.69 225.07 L572.99 225.95 L572.29 226.82 L571.59 227.68 L570.88 228.56 L570.18 229.46 L569.49 230.35 L568.80 231.26 L568.12 232.17 L567.45 233.08 L566.79 233.99 L565.46 235.81 L564.79 236.72 L564.13 237.62 Z M566.30 239.05 L566.41 239.14 L567.54 240.03 L568.66 240.93 L569.77 241.84 L570.89 242.74 L572.00 243.64 L573.10 244.52 L574.20 245.37 L575.29 246.19 L576.37 246.97 L577.44 247.71 L578.50 248.40 L579.40 248.97 L580.30 249.52 L581.18 250.05 L582.05 250.55 L582.91 251.04 L583.77 251.50 L584.64 251.94 L585.50 252.36 L586.38 252.75 L587.27 253.11 L588.17 253.45 L589.10 253.76 L590.09 254.06 L591.11 254.34 L592.15 254.59 L593.20 254.82 L594.26 255.02 L595.34 255.19 L596.43 255.34 L597.52 255.47 L598.62 255.56 L599.71 255.63 L600.81 255.68 L601.91 255.70 L603.05 255.69 L604.21 255.64 L605.39 255.56 L606.58 255.46 L607.78 255.32 L608.98 255.15 L610.17 254.97 L611.36 254.76 L612.54 254.53 L613.71 254.28 L614.86 254.02 L615.98 253.74 L617.00 253.47 L617.99 253.18 L618.96 252.88 L619.91 252.56 L620.86 252.22 L621.81 251.87 L622.75 251.49 L623.71 251.10 L624.69 250.68 L625.68 250.25 L626.71 249.79 L627.76 249.32 L629.11 248.69 L630.49 248.00 L631.91 247.27 L633.37 246.51 L634.84 245.71 L636.33 244.88 L637.84 244.04 L639.35 243.19 L640.87 242.34 L642.38 241.50 L643.89 240.66 L644.13 240.54 L643.85 240.12 L643.32 239.31 L642.80 238.51 L642.29 237.70 L641.77 236.91 L641.25 236.12 L640.72 235.34 L640.18 234.56 L639.63 233.80 L639.07 233.05 L638.49 232.32 L637.86 231.55 L637.22 230.78 L636.56 230.02 L635.89 229.27 L635.21 228.52 L634.51 227.77 L633.81 227.04 L633.10 226.32 L632.37 225.61 L631.64 224.92 L630.90 224.24 L630.15 223.58 L629.39 222.94 L628.61 222.30 L627.82 221.67 L627.02 221.06 L626.20 220.45 L625.38 219.86 L624.55 219.28 L623.71 218.72 L622.87 218.17 L622.03 217.64 L621.19 217.12 L620.34 216.62 L619.53 216.15 L618.72 215.69 L617.91 215.23 L617.09 214.78 L616.27 214.35 L615.46 213.94 L614.65 213.55 L613.84 213.19 L613.03 212.86 L612.23 212.55 L611.44 212.29 L610.66 212.05 L609.94 211.87 L609.23 211.71 L608.51 211.58 L607.80 211.46 L607.09 211.37 L606.38 211.30 L605.66 211.25 L604.94 211.22 L604.22 211.21 L603.49 211.22 L602.75 211.25 L602.00 211.30 L601.17 211.37 L600.32 211.47 L599.46 211.60 L598.59 211.75 L597.71 211.93 L596.83 212.13 L595.96 212.36 L595.08 212.61 L594.22 212.87 L593.36 213.16 L592.52 213.47 L591.70 213.80 L590.87 214.16 L590.04 214.54 L589.23 214.95 L588.41 215.38 L587.61 215.83 L586.81 216.30 L586.02 216.80 L585.24 217.32 L584.47 217.86 L583.72 218.42 L582.97 219.00 L582.24 219.59 L581.48 220.26 L580.73 220.96 L579.99 221.71 L579.26 222.48 L578.55 223.29 L577.83 224.12 L577.12 224.97 L576.42 225.83 L575.72 226.70 L575.02 227.58 L574.31 228.45 L573.61 229.32 L572.91 230.18 L572.23 231.05 L571.55 231.93 L570.88 232.82 L570.21 233.72 L569.55 234.62 L568.88 235.53 L567.56 237.35 L566.89 238.26 Z" fill="none" stroke="#000" stroke-width="1.50" stroke-linejoin="miter"/>
<line x1="601.8" y1="210.0" x2="601.8" y2="230.0" stroke="#000" stroke-width="1.90"/>
<path d="M598.8 229.0 L604.8 229.0 L601.8 234.2 Z" fill="#000" stroke="#000" stroke-width="0.6"/>
<path d="M476.72 190.03 L476.69 191.51 L476.66 192.01 L476.63 192.52 L476.58 193.04 L476.54 193.58 L476.49 194.13 L476.47 194.71 L476.45 195.31 L476.47 195.93 L476.51 196.59 L476.60 197.27 L476.73 197.98 L477.01 199.08 L477.37 200.24 L477.80 201.43 L478.30 202.65 L478.85 203.90 L479.44 205.17 L480.06 206.46 L480.71 207.75 L481.37 209.03 L482.04 210.31 L482.70 211.57 L483.35 212.81 L484.06 214.15 L484.79 215.51 L485.55 216.89 L486.32 218.28 L487.12 219.67 L487.93 221.06 L488.76 222.44 L489.61 223.81 L490.47 225.16 L491.35 226.49 L492.24 227.79 L493.15 229.07 L494.06 230.26 L495.01 231.43 L495.99 232.55 L496.98 233.65 L497.99 234.73 L498.99 235.79 L499.97 236.83 L500.94 237.87 L501.86 238.89 L502.75 239.91 L503.58 240.93 L504.34 241.96 L504.97 242.87 L505.57 243.80 L506.14 244.73 L506.69 245.68 L507.22 246.63 L507.74 247.59 L508.25 248.54 L508.75 249.49 L509.25 250.43 L509.75 251.36 L510.26 252.27 L510.77 253.15 L511.18 253.87 L511.56 254.59 L511.93 255.34 L512.30 256.09 L512.67 256.85 L513.05 257.60 L513.45 258.35 L513.88 259.08 L514.35 259.78 L514.87 260.45 L515.46 261.07 L516.10 261.63 L516.74 262.08 L517.40 262.48 L518.10 262.85 L518.83 263.19 L519.58 263.48 L520.34 263.74 L521.12 263.95 L521.90 264.11 L522.68 264.22 L523.46 264.27 L524.24 264.26 L524.99 264.19 L525.75 264.03 L526.50 263.81 L527.24 263.52 L527.96 263.18 L528.67 262.79 L529.36 262.35 L530.03 261.88 L530.67 261.37 L531.27 260.83 L531.84 260.26 L532.37 259.68 L532.86 259.05 L533.32 258.32 L533.69 257.53 L533.97 256.72 L534.19 255.90 L534.36 255.08 L534.50 254.27 L534.63 253.46 L534.77 252.67 L534.92 251.91 L535.10 251.18 L535.32 250.49 L535.59 249.83 L535.96 249.06 L536.37 248.27 L536.80 247.48 L537.26 246.70 L537.75 245.91 L538.26 245.13 L538.80 244.35 L539.36 243.57 L539.95 242.79 L540.57 242.01 L541.21 241.23 L541.87 240.46 L542.72 239.55 L543.63 238.64 L544.62 237.73 L545.66 236.82 L546.75 235.91 L547.87 234.99 L549.01 234.06 L550.16 233.13 L551.30 232.18 L552.43 231.22 L553.54 230.23 L554.60 229.24 L555.61 228.27 L556.62 227.30 L557.66 226.32 L558.69 225.33 L559.72 224.33 L560.74 223.32 L561.73 222.30 L562.70 221.25 L563.63 220.20 L564.51 219.12 L565.33 218.02 L566.09 216.91 L566.71 215.91 L567.28 214.91 L567.81 213.90 L568.31 212.88 L568.78 211.86 L569.21 210.82 L569.60 209.78 L569.97 208.74 L570.31 207.69 L570.62 206.63 L570.91 205.56 L571.17 204.48 L571.40 203.37 L571.57 202.24 L571.71 201.10 L571.80 199.97 L571.86 198.84 L571.90 197.71 L571.93 196.58 L571.95 195.46 L571.97 194.35 L572.00 193.25 L572.04 192.16 L572.16 190.06 L559.28 186.10 L559.03 188.35 L558.96 189.05 L558.90 189.73 L558.85 190.41 L558.79 191.08 L558.73 191.75 L558.67 192.41 L558.59 193.08 L558.50 193.75 L558.40 194.43 L558.28 195.11 L558.13 195.82 L557.92 196.74 L557.68 197.69 L557.42 198.67 L557.14 199.67 L556.84 200.69 L556.52 201.71 L556.18 202.74 L555.82 203.75 L555.44 204.76 L555.05 205.75 L554.64 206.72 L554.22 207.66 L553.79 208.58 L553.34 209.50 L552.89 210.42 L552.43 211.33 L551.95 212.22 L551.45 213.10 L550.94 213.96 L550.40 214.78 L549.84 215.59 L549.25 216.35 L548.63 217.09 L547.97 217.79 L547.24 218.50 L546.46 219.19 L545.64 219.87 L544.78 220.52 L543.89 221.15 L542.97 221.76 L542.02 222.33 L541.06 222.88 L540.09 223.39 L539.11 223.86 L538.12 224.29 L537.14 224.68 L536.15 225.03 L535.13 225.33 L534.07 225.60 L532.98 225.83 L531.87 226.02 L530.75 226.19 L529.63 226.33 L528.51 226.44 L527.41 226.53 L526.32 226.61 L525.27 226.66 L524.25 226.70 L523.45 226.73 L522.66 226.74 L521.90 226.74 L521.16 226.73 L520.44 226.71 L519.72 226.66 L519.02 226.60 L518.31 226.52 L517.61 226.42 L516.90 226.29 L516.17 226.13 L515.44 225.94 L514.55 225.69 L513.62 225.40 L512.68 225.07 L511.72 224.70 L510.76 224.31 L509.80 223.88 L508.86 223.43 L507.93 222.95 L507.03 222.46 L506.17 221.94 L505.35 221.40 L504.57 220.86 L503.89 220.33 L503.22 219.77 L502.57 219.20 L501.95 218.62 L501.34 218.01 L500.76 217.38 L500.20 216.73 L499.66 216.06 L499.15 215.37 L498.65 214.65 L498.18 213.92 L497.74 213.17 L497.28 212.30 L496.86 211.38 L496.48 210.41 L496.12 209.40 L495.79 208.36 L495.48 207.28 L495.18 206.18 L494.90 205.06 L494.62 203.93 L494.34 202.80 L494.05 201.68 L493.76 200.57 L493.46 199.47 L493.18 198.38 L492.92 197.28 L492.66 196.17 L492.40 195.06 L492.15 193.94 L491.91 192.83 L491.67 191.70 L491.42 190.58 L491.17 189.46 L490.92 188.33 L490.36 185.85 Z M479.27 191.97 L479.26 192.17 L479.22 192.73 L479.17 193.26 L479.13 193.79 L479.09 194.30 L479.06 194.80 L479.05 195.31 L479.07 195.81 L479.10 196.33 L479.17 196.87 L479.27 197.42 L479.51 198.38 L479.83 199.40 L480.23 200.49 L480.69 201.64 L481.22 202.83 L481.79 204.06 L482.39 205.30 L483.03 206.57 L483.68 207.84 L484.34 209.10 L485.00 210.36 L485.65 211.59 L486.35 212.93 L487.08 214.27 L487.82 215.63 L488.58 217.00 L489.37 218.37 L490.17 219.73 L490.98 221.08 L491.81 222.42 L492.65 223.74 L493.51 225.04 L494.38 226.31 L495.25 227.53 L496.10 228.65 L497.00 229.75 L497.93 230.83 L498.90 231.90 L499.88 232.95 L500.88 234.00 L501.87 235.05 L502.85 236.11 L503.81 237.17 L504.74 238.24 L505.63 239.33 L506.46 240.44 L507.13 241.43 L507.77 242.41 L508.37 243.40 L508.95 244.39 L509.50 245.38 L510.03 246.35 L510.54 247.32 L511.05 248.27 L511.54 249.20 L512.03 250.10 L512.52 250.98 L513.03 251.85 L513.46 252.62 L513.88 253.41 L514.27 254.19 L514.64 254.95 L515.00 255.69 L515.36 256.40 L515.72 257.07 L516.08 257.69 L516.46 258.26 L516.85 258.76 L517.26 259.19 L517.70 259.57 L518.17 259.90 L518.69 260.22 L519.25 260.52 L519.85 260.80 L520.46 261.04 L521.09 261.25 L521.72 261.42 L522.34 261.54 L522.95 261.63 L523.54 261.67 L524.09 261.66 L524.61 261.61 L525.12 261.51 L525.65 261.35 L526.21 261.13 L526.78 260.86 L527.35 260.55 L527.91 260.19 L528.46 259.80 L528.99 259.38 L529.49 258.93 L529.96 258.47 L530.38 258.00 L530.74 257.55 L531.04 257.08 L531.28 256.56 L531.48 255.96 L531.65 255.31 L531.80 254.59 L531.94 253.83 L532.07 253.03 L532.21 252.20 L532.38 251.35 L532.60 250.48 L532.87 249.61 L533.21 248.77 L533.63 247.90 L534.07 247.05 L534.54 246.20 L535.04 245.36 L535.56 244.52 L536.10 243.68 L536.68 242.85 L537.27 242.02 L537.90 241.20 L538.55 240.38 L539.22 239.56 L539.93 238.74 L540.85 237.74 L541.84 236.76 L542.88 235.80 L543.97 234.85 L545.09 233.91 L546.22 232.98 L547.37 232.05 L548.51 231.12 L549.63 230.19 L550.73 229.25 L551.79 228.32 L552.80 227.36 L553.81 226.39 L554.83 225.41 L555.86 224.44 L556.89 223.46 L557.90 222.48 L558.89 221.49 L559.85 220.51 L560.77 219.51 L561.64 218.52 L562.46 217.51 L563.22 216.51 L563.91 215.49 L564.47 214.58 L565.00 213.66 L565.50 212.72 L565.96 211.78 L566.39 210.82 L566.79 209.86 L567.16 208.89 L567.51 207.91 L567.83 206.92 L568.12 205.92 L568.39 204.92 L568.63 203.92 L568.84 202.91 L569.00 201.89 L569.12 200.85 L569.20 199.79 L569.26 198.72 L569.31 197.63 L569.33 196.53 L569.35 195.42 L569.37 194.30 L569.40 193.17 L569.44 192.04 L569.44 191.94 L561.53 189.51 L561.49 189.95 L561.44 190.62 L561.38 191.30 L561.32 191.99 L561.25 192.68 L561.17 193.39 L561.08 194.11 L560.97 194.85 L560.83 195.61 L560.67 196.38 L560.45 197.34 L560.20 198.34 L559.93 199.36 L559.64 200.40 L559.33 201.45 L558.99 202.51 L558.64 203.58 L558.26 204.64 L557.87 205.70 L557.46 206.74 L557.03 207.76 L556.58 208.74 L556.14 209.69 L555.68 210.64 L555.22 211.59 L554.73 212.54 L554.23 213.48 L553.70 214.41 L553.14 215.34 L552.55 216.24 L551.93 217.12 L551.27 217.98 L550.57 218.82 L549.83 219.61 L549.01 220.40 L548.15 221.17 L547.25 221.91 L546.32 222.62 L545.35 223.30 L544.36 223.96 L543.34 224.58 L542.30 225.16 L541.25 225.71 L540.19 226.22 L539.13 226.69 L538.06 227.12 L536.95 227.50 L535.81 227.84 L534.65 228.13 L533.47 228.38 L532.29 228.59 L531.10 228.77 L529.92 228.91 L528.75 229.03 L527.60 229.13 L526.48 229.20 L525.39 229.26 L524.35 229.30 L523.51 229.32 L522.69 229.34 L521.89 229.34 L521.10 229.33 L520.31 229.30 L519.53 229.26 L518.75 229.19 L517.97 229.10 L517.18 228.98 L516.39 228.84 L515.58 228.66 L514.76 228.46 L513.79 228.18 L512.80 227.86 L511.79 227.51 L510.77 227.12 L509.74 226.70 L508.72 226.24 L507.70 225.76 L506.70 225.25 L505.73 224.71 L504.79 224.14 L503.88 223.55 L503.03 222.94 L502.27 222.36 L501.53 221.75 L500.82 221.13 L500.13 220.48 L499.46 219.81 L498.82 219.11 L498.20 218.39 L497.61 217.65 L497.03 216.88 L496.49 216.09 L495.97 215.28 L495.46 214.43 L494.94 213.44 L494.47 212.40 L494.04 211.33 L493.65 210.23 L493.30 209.11 L492.97 207.98 L492.67 206.84 L492.38 205.70 L492.09 204.56 L491.82 203.44 L491.53 202.33 L491.24 201.23 L490.95 200.13 L490.66 199.00 L490.39 197.88 L490.12 196.76 L489.87 195.63 L489.62 194.51 L489.37 193.38 L489.12 192.26 L488.88 191.14 L488.64 190.02 L488.44 189.15 Z" fill="none" stroke="#000" stroke-width="1.50" stroke-linejoin="miter"/>
<path d="M521.02 227.46 L520.64 228.15 L520.43 228.99 L520.33 229.92 L520.30 230.94 L520.34 232.03 L520.42 233.19 L520.52 234.38 L520.65 235.59 L520.78 236.78 L520.90 237.93 L521.00 239.00 L521.07 239.98 L521.12 240.83 L521.16 241.70 L521.21 242.58 L521.26 243.45 L521.31 244.32 L521.37 245.18 L521.44 246.03 L521.51 246.86 L521.60 247.67 L521.71 248.45 L521.83 249.20 L521.97 249.91 L522.08 250.42 L522.20 250.95 L522.33 251.49 L522.47 252.04 L522.61 252.58 L522.76 253.09 L522.92 253.58 L523.08 254.03 L523.26 254.43 L523.48 254.81 L523.82 255.20 L524.50 255.47 L525.18 255.20 L525.52 254.81 L525.74 254.43 L525.92 254.03 L526.08 253.58 L526.24 253.09 L526.39 252.58 L526.53 252.04 L526.67 251.49 L526.80 250.95 L526.92 250.42 L527.03 249.91 L527.17 249.20 L527.29 248.45 L527.40 247.67 L527.49 246.86 L527.56 246.03 L527.63 245.18 L527.69 244.32 L527.74 243.45 L527.79 242.58 L527.84 241.71 L527.88 240.83 L527.93 239.98 L528.00 239.00 L528.10 237.93 L528.22 236.78 L528.35 235.59 L528.48 234.38 L528.58 233.19 L528.66 232.03 L528.70 230.94 L528.67 229.92 L528.57 228.99 L528.36 228.15 L527.98 227.46 L527.67 227.14 L527.35 226.92 L527.02 226.77 L526.69 226.67 L526.36 226.61 L526.05 226.57 L525.75 226.56 L525.47 226.57 L525.19 226.57 L524.94 226.59 L524.71 226.60 L524.50 226.60 L524.29 226.60 L524.06 226.59 L523.81 226.57 L523.53 226.57 L523.25 226.56 L522.95 226.57 L522.64 226.61 L522.31 226.67 L521.98 226.77 L521.65 226.92 L521.33 227.14 Z M522.48 228.54 L522.33 228.81 L522.21 229.31 L522.13 230.04 L522.11 230.93 L522.14 231.94 L522.21 233.05 L522.32 234.21 L522.44 235.40 L522.57 236.59 L522.69 237.75 L522.80 238.85 L522.87 239.87 L522.91 240.74 L522.96 241.61 L523.00 242.48 L523.05 243.35 L523.10 244.21 L523.16 245.05 L523.23 245.88 L523.31 246.68 L523.39 247.45 L523.49 248.19 L523.60 248.89 L523.73 249.55 L523.84 250.03 L523.95 250.54 L524.08 251.06 L524.21 251.59 L524.34 252.09 L524.48 252.56 L524.50 252.62 L524.52 252.56 L524.66 252.09 L524.79 251.59 L524.92 251.06 L525.05 250.54 L525.16 250.03 L525.27 249.55 L525.40 248.89 L525.51 248.19 L525.61 247.45 L525.69 246.68 L525.77 245.88 L525.84 245.05 L525.90 244.21 L525.95 243.35 L526.00 242.48 L526.04 241.61 L526.09 240.74 L526.13 239.87 L526.20 238.85 L526.31 237.75 L526.43 236.59 L526.56 235.40 L526.68 234.21 L526.79 233.05 L526.86 231.94 L526.89 230.93 L526.87 230.04 L526.79 229.31 L526.67 228.81 L526.52 228.54 L526.51 228.53 L526.45 228.49 L526.37 228.45 L526.26 228.42 L526.11 228.39 L525.93 228.37 L525.73 228.36 L525.50 228.37 L525.27 228.37 L525.02 228.38 L524.76 228.40 L524.50 228.40 L524.24 228.40 L523.98 228.38 L523.73 228.37 L523.50 228.37 L523.27 228.36 L523.07 228.37 L522.89 228.39 L522.74 228.42 L522.63 228.45 L522.55 228.49 L522.49 228.53 Z" fill="none" stroke="#000" stroke-width="1.10" stroke-linejoin="miter"/>
<path d="M500.28 281.01 L500.99 283.06 L501.17 283.68 L501.34 284.32 L501.50 285.00 L501.67 285.70 L501.85 286.41 L502.07 287.13 L502.32 287.86 L502.64 288.59 L503.02 289.32 L503.49 290.02 L504.06 290.70 L504.94 291.52 L505.95 292.28 L507.06 292.97 L508.26 293.61 L509.52 294.21 L510.84 294.77 L512.19 295.29 L513.57 295.79 L514.94 296.26 L516.30 296.70 L517.63 297.13 L518.91 297.54 L520.20 297.94 L521.51 298.31 L522.83 298.66 L524.15 298.98 L525.48 299.27 L526.82 299.54 L528.17 299.79 L529.53 300.03 L530.89 300.24 L532.27 300.44 L533.65 300.62 L535.05 300.79 L536.58 300.96 L538.15 301.09 L539.73 301.21 L541.33 301.30 L542.94 301.37 L544.55 301.42 L546.16 301.46 L547.77 301.48 L549.36 301.50 L550.93 301.50 L552.48 301.50 L554.00 301.50 L555.38 301.49 L556.74 301.48 L558.09 301.47 L559.42 301.44 L560.74 301.41 L562.06 301.37 L563.39 301.31 L564.71 301.24 L566.05 301.15 L567.39 301.05 L568.76 300.93 L570.14 300.79 L571.65 300.63 L573.20 300.45 L574.77 300.25 L576.37 300.04 L577.97 299.82 L579.57 299.57 L581.17 299.30 L582.76 299.00 L584.33 298.68 L585.88 298.34 L587.39 297.96 L588.86 297.55 L590.16 297.16 L591.48 296.77 L592.80 296.36 L594.13 295.93 L595.44 295.47 L596.73 294.99 L597.99 294.48 L599.21 293.93 L600.38 293.34 L601.48 292.71 L602.51 292.03 L603.45 291.28 L604.13 290.64 L604.72 289.97 L605.24 289.27 L605.71 288.55 L606.12 287.83 L606.50 287.11 L606.85 286.40 L607.18 285.69 L607.50 285.00 L607.82 284.33 L608.16 283.69 L609.42 281.49 L594.19 278.35 L593.39 279.59 L593.08 280.11 L592.81 280.63 L592.54 281.13 L592.29 281.62 L592.04 282.08 L591.79 282.51 L591.53 282.92 L591.25 283.29 L590.95 283.63 L590.62 283.95 L590.26 284.23 L589.62 284.62 L588.87 284.99 L588.04 285.32 L587.11 285.61 L586.12 285.88 L585.05 286.13 L583.93 286.35 L582.76 286.56 L581.55 286.75 L580.32 286.94 L579.07 287.12 L577.81 287.31 L576.10 287.55 L574.30 287.76 L572.42 287.95 L570.46 288.10 L568.46 288.24 L566.41 288.35 L564.33 288.44 L562.24 288.52 L560.14 288.58 L558.06 288.63 L556.00 288.67 L553.98 288.70 L551.95 288.73 L549.88 288.76 L547.78 288.79 L545.67 288.80 L543.56 288.81 L541.47 288.79 L539.41 288.75 L537.40 288.68 L535.46 288.57 L533.60 288.43 L531.85 288.25 L530.20 288.01 L529.07 287.83 L527.95 287.63 L526.87 287.43 L525.82 287.21 L524.81 286.98 L523.84 286.73 L522.91 286.46 L522.03 286.16 L521.20 285.84 L520.42 285.49 L519.69 285.12 L519.02 284.71 L518.54 284.37 L518.11 284.00 L517.70 283.60 L517.31 283.17 L516.93 282.70 L516.56 282.21 L516.20 281.70 L515.83 281.17 L515.45 280.62 L515.06 280.07 L514.64 279.51 L513.72 278.37 Z M503.68 282.99 L503.86 283.70 L504.03 284.39 L504.19 285.07 L504.36 285.72 L504.54 286.33 L504.75 286.92 L504.98 287.47 L505.26 287.98 L505.57 288.46 L505.94 288.90 L506.61 289.52 L507.42 290.13 L508.37 290.72 L509.43 291.29 L510.59 291.83 L511.82 292.36 L513.11 292.86 L514.43 293.33 L515.77 293.79 L517.10 294.23 L518.42 294.65 L519.69 295.06 L520.94 295.45 L522.20 295.81 L523.46 296.14 L524.73 296.45 L526.02 296.73 L527.32 296.99 L528.63 297.23 L529.95 297.46 L531.28 297.67 L532.63 297.86 L533.98 298.04 L535.35 298.21 L536.84 298.37 L538.35 298.50 L539.90 298.61 L541.46 298.70 L543.04 298.77 L544.62 298.82 L546.21 298.86 L547.80 298.88 L549.37 298.90 L550.94 298.90 L552.48 298.90 L554.00 298.90 L555.37 298.89 L556.72 298.88 L558.05 298.87 L559.36 298.84 L560.67 298.81 L561.97 298.77 L563.26 298.71 L564.56 298.64 L565.87 298.56 L567.18 298.46 L568.51 298.34 L569.86 298.21 L571.36 298.04 L572.89 297.86 L574.45 297.67 L576.01 297.47 L577.58 297.24 L579.16 297.00 L580.72 296.74 L582.27 296.45 L583.79 296.14 L585.28 295.81 L586.73 295.44 L588.14 295.05 L589.42 294.67 L590.72 294.28 L592.01 293.88 L593.30 293.46 L594.56 293.02 L595.79 292.57 L596.97 292.09 L598.09 291.58 L599.14 291.05 L600.11 290.50 L600.98 289.92 L601.75 289.32 L602.25 288.84 L602.70 288.33 L603.11 287.78 L603.49 287.20 L603.84 286.59 L604.17 285.94 L604.50 285.27 L604.82 284.59 L605.15 283.88 L605.43 283.32 L595.43 281.26 L595.35 281.38 L595.10 281.84 L594.85 282.33 L594.59 282.83 L594.31 283.35 L594.01 283.88 L593.66 284.40 L593.28 284.93 L592.83 285.44 L592.32 285.92 L591.74 286.37 L590.87 286.91 L589.92 287.37 L588.92 287.76 L587.85 288.11 L586.74 288.41 L585.59 288.67 L584.41 288.91 L583.19 289.12 L581.96 289.32 L580.71 289.51 L579.45 289.69 L578.19 289.89 L576.43 290.13 L574.58 290.35 L572.65 290.54 L570.65 290.70 L568.61 290.83 L566.54 290.95 L564.44 291.04 L562.32 291.12 L560.21 291.18 L558.12 291.23 L556.05 291.27 L554.02 291.30 L551.99 291.33 L549.92 291.36 L547.81 291.39 L545.68 291.40 L543.55 291.41 L541.43 291.39 L539.34 291.35 L537.29 291.27 L535.29 291.17 L533.37 291.02 L531.53 290.83 L529.80 290.59 L528.63 290.39 L527.49 290.19 L526.37 289.98 L525.27 289.75 L524.20 289.50 L523.15 289.23 L522.14 288.94 L521.15 288.61 L520.21 288.25 L519.29 287.84 L518.42 287.39 L517.58 286.89 L516.94 286.43 L516.35 285.92 L515.82 285.40 L515.33 284.85 L514.88 284.30 L514.46 283.74 L514.07 283.19 L513.69 282.65 L513.32 282.11 L512.96 281.60 L512.68 281.23 Z" fill="none" stroke="#000" stroke-width="1.50" stroke-linejoin="miter"/>
<path d="M193.23 351.67 L193.52 353.41 L193.61 353.99 L193.69 354.56 L193.76 355.14 L193.84 355.72 L193.93 356.31 L194.02 356.92 L194.12 357.55 L194.25 358.20 L194.39 358.88 L194.55 359.59 L194.74 360.34 L195.09 361.57 L195.47 362.91 L195.90 364.33 L196.36 365.82 L196.87 367.37 L197.41 368.94 L197.99 370.53 L198.60 372.12 L199.25 373.70 L199.92 375.23 L200.63 376.71 L201.36 378.12 L202.10 379.42 L202.88 380.68 L203.71 381.92 L204.56 383.13 L205.44 384.32 L206.34 385.48 L207.25 386.62 L208.17 387.74 L209.09 388.84 L210.01 389.92 L210.91 390.99 L211.81 392.05 L212.67 393.03 L213.56 393.99 L214.46 394.91 L215.37 395.81 L216.27 396.69 L217.16 397.56 L218.04 398.42 L218.89 399.28 L219.72 400.13 L220.51 401.00 L221.26 401.88 L221.96 402.78 L222.58 403.65 L223.17 404.57 L223.73 405.52 L224.28 406.50 L224.81 407.49 L225.33 408.50 L225.85 409.50 L226.36 410.50 L226.88 411.47 L227.41 412.43 L227.96 413.35 L228.51 414.21 L228.93 414.85 L229.33 415.48 L229.72 416.12 L230.11 416.76 L230.51 417.40 L230.93 418.03 L231.37 418.65 L231.84 419.24 L232.35 419.80 L232.92 420.32 L233.54 420.78 L234.23 421.17 L234.97 421.48 L235.75 421.71 L236.55 421.88 L237.38 421.99 L238.22 422.05 L239.07 422.06 L239.92 422.02 L240.75 421.94 L241.57 421.82 L242.37 421.66 L243.13 421.46 L243.85 421.22 L244.51 420.95 L245.15 420.63 L245.76 420.27 L246.36 419.88 L246.93 419.45 L247.49 418.98 L248.02 418.49 L248.52 417.98 L249.00 417.44 L249.46 416.88 L249.89 416.30 L250.31 415.68 L250.75 414.89 L251.11 414.03 L251.38 413.14 L251.60 412.25 L251.79 411.35 L251.95 410.46 L252.12 409.57 L252.29 408.71 L252.49 407.87 L252.72 407.07 L253.00 406.33 L253.35 405.61 L253.83 404.79 L254.37 403.97 L254.97 403.15 L255.62 402.33 L256.31 401.51 L257.04 400.70 L257.80 399.88 L258.59 399.06 L259.41 398.23 L260.24 397.40 L261.08 396.56 L261.91 395.73 L262.88 394.79 L263.91 393.87 L265.00 392.96 L266.14 392.03 L267.31 391.10 L268.50 390.17 L269.69 389.21 L270.87 388.24 L272.02 387.24 L273.14 386.21 L274.20 385.15 L275.19 384.05 L276.04 383.02 L276.86 381.98 L277.65 380.94 L278.41 379.87 L279.15 378.80 L279.85 377.70 L280.53 376.58 L281.17 375.45 L281.78 374.29 L282.36 373.11 L282.90 371.90 L283.41 370.67 L283.90 369.30 L284.33 367.90 L284.69 366.48 L285.00 365.03 L285.27 363.57 L285.51 362.11 L285.74 360.64 L285.95 359.17 L286.16 357.72 L286.38 356.27 L286.61 354.85 L287.09 352.30 L272.97 347.92 L272.48 350.76 L272.28 352.17 L272.09 353.58 L271.91 355.00 L271.73 356.40 L271.55 357.79 L271.35 359.15 L271.12 360.48 L270.86 361.77 L270.56 363.01 L270.21 364.19 L269.79 365.32 L269.37 366.31 L268.92 367.29 L268.45 368.26 L267.94 369.20 L267.41 370.12 L266.85 371.01 L266.27 371.87 L265.66 372.70 L265.02 373.49 L264.35 374.24 L263.66 374.96 L262.94 375.62 L262.18 376.25 L261.38 376.85 L260.52 377.43 L259.62 377.97 L258.69 378.49 L257.74 378.97 L256.76 379.42 L255.78 379.83 L254.79 380.21 L253.80 380.56 L252.82 380.87 L251.87 381.14 L251.01 381.35 L250.15 381.52 L249.29 381.65 L248.42 381.75 L247.54 381.81 L246.65 381.85 L245.75 381.88 L244.84 381.88 L243.91 381.87 L242.97 381.85 L242.01 381.82 L241.03 381.80 L239.93 381.77 L238.80 381.74 L237.65 381.70 L236.49 381.65 L235.32 381.58 L234.16 381.50 L233.01 381.38 L231.86 381.25 L230.74 381.08 L229.65 380.87 L228.59 380.63 L227.57 380.35 L226.59 380.05 L225.61 379.72 L224.63 379.37 L223.66 379.00 L222.71 378.60 L221.78 378.17 L220.89 377.71 L220.04 377.23 L219.23 376.72 L218.47 376.17 L217.77 375.60 L217.13 374.99 L216.57 374.36 L216.05 373.69 L215.57 372.96 L215.13 372.19 L214.71 371.38 L214.32 370.52 L213.95 369.63 L213.60 368.71 L213.26 367.75 L212.92 366.78 L212.58 365.78 L212.23 364.79 L211.85 363.60 L211.50 362.38 L211.17 361.11 L210.86 359.80 L210.58 358.46 L210.30 357.09 L210.04 355.70 L209.78 354.30 L209.51 352.90 L209.24 351.49 L208.96 350.10 L208.38 347.37 Z M196.17 353.54 L196.18 353.61 L196.26 354.20 L196.34 354.79 L196.42 355.36 L196.50 355.93 L196.59 356.51 L196.68 357.09 L196.80 357.70 L196.93 358.32 L197.08 358.97 L197.26 359.66 L197.59 360.87 L197.97 362.17 L198.38 363.57 L198.84 365.03 L199.33 366.54 L199.86 368.07 L200.43 369.62 L201.02 371.16 L201.64 372.68 L202.28 374.15 L202.95 375.55 L203.64 376.88 L204.33 378.09 L205.07 379.28 L205.85 380.45 L206.67 381.61 L207.51 382.75 L208.38 383.87 L209.27 384.98 L210.17 386.08 L211.08 387.16 L211.99 388.24 L212.90 389.30 L213.79 390.35 L214.61 391.29 L215.45 392.20 L216.31 393.09 L217.19 393.96 L218.08 394.83 L218.98 395.70 L219.87 396.57 L220.75 397.46 L221.62 398.36 L222.46 399.28 L223.27 400.24 L224.04 401.22 L224.73 402.20 L225.38 403.20 L225.98 404.22 L226.56 405.25 L227.11 406.28 L227.64 407.30 L228.16 408.31 L228.66 409.29 L229.16 410.23 L229.66 411.13 L230.17 411.98 L230.69 412.79 L231.12 413.44 L231.54 414.11 L231.94 414.76 L232.32 415.39 L232.70 416.00 L233.07 416.56 L233.44 417.08 L233.82 417.55 L234.19 417.96 L234.57 418.31 L234.96 418.60 L235.37 418.83 L235.84 419.02 L236.39 419.19 L236.99 419.31 L237.64 419.40 L238.33 419.45 L239.03 419.46 L239.74 419.43 L240.44 419.36 L241.13 419.26 L241.78 419.13 L242.39 418.97 L242.95 418.78 L243.43 418.58 L243.92 418.34 L244.39 418.06 L244.86 417.75 L245.32 417.41 L245.77 417.03 L246.20 416.63 L246.62 416.20 L247.02 415.75 L247.41 415.28 L247.77 414.79 L248.09 414.32 L248.41 413.75 L248.66 413.14 L248.88 412.44 L249.07 411.68 L249.24 410.85 L249.40 409.98 L249.56 409.08 L249.75 408.15 L249.98 407.20 L250.26 406.25 L250.61 405.30 L251.05 404.39 L251.62 403.42 L252.24 402.49 L252.90 401.58 L253.61 400.68 L254.35 399.81 L255.12 398.94 L255.92 398.09 L256.73 397.24 L257.56 396.40 L258.40 395.56 L259.24 394.73 L260.09 393.87 L261.11 392.89 L262.21 391.91 L263.35 390.95 L264.51 390.01 L265.70 389.07 L266.88 388.13 L268.05 387.19 L269.19 386.25 L270.29 385.30 L271.34 384.34 L272.31 383.36 L273.21 382.35 L274.02 381.38 L274.80 380.39 L275.55 379.39 L276.28 378.38 L276.98 377.36 L277.65 376.32 L278.29 375.27 L278.89 374.20 L279.47 373.11 L280.01 372.00 L280.52 370.88 L280.99 369.73 L281.43 368.49 L281.82 367.21 L282.16 365.88 L282.45 364.52 L282.71 363.12 L282.95 361.70 L283.17 360.26 L283.38 358.80 L283.59 357.34 L283.81 355.87 L284.05 354.40 L284.11 354.10 L275.03 351.28 L274.85 352.53 L274.67 353.92 L274.49 355.32 L274.31 356.73 L274.13 358.15 L273.92 359.56 L273.68 360.96 L273.40 362.33 L273.07 363.69 L272.67 365.01 L272.21 366.28 L271.75 367.36 L271.27 368.41 L270.76 369.45 L270.22 370.47 L269.64 371.46 L269.03 372.43 L268.39 373.38 L267.71 374.29 L267.00 375.17 L266.26 376.01 L265.48 376.82 L264.66 377.58 L263.79 378.30 L262.88 378.98 L261.92 379.62 L260.93 380.22 L259.91 380.79 L258.87 381.31 L257.81 381.80 L256.75 382.24 L255.68 382.66 L254.62 383.03 L253.57 383.36 L252.53 383.66 L251.56 383.89 L250.59 384.08 L249.62 384.23 L248.66 384.33 L247.70 384.41 L246.74 384.45 L245.78 384.47 L244.83 384.48 L243.87 384.47 L242.91 384.45 L241.94 384.42 L240.97 384.40 L239.86 384.37 L238.72 384.34 L237.55 384.30 L236.36 384.25 L235.15 384.18 L233.94 384.09 L232.72 383.97 L231.51 383.82 L230.31 383.64 L229.13 383.42 L227.96 383.16 L226.83 382.85 L225.80 382.53 L224.76 382.18 L223.72 381.81 L222.69 381.41 L221.66 380.98 L220.65 380.51 L219.66 380.00 L218.70 379.46 L217.77 378.87 L216.89 378.23 L216.05 377.55 L215.27 376.81 L214.57 376.02 L213.93 375.20 L213.36 374.33 L212.84 373.43 L212.37 372.50 L211.94 371.56 L211.54 370.59 L211.16 369.61 L210.81 368.62 L210.46 367.63 L210.12 366.63 L209.77 365.61 L209.36 364.37 L208.99 363.06 L208.64 361.73 L208.33 360.37 L208.03 358.99 L207.75 357.59 L207.48 356.19 L207.22 354.78 L206.96 353.38 L206.69 351.99 L206.42 350.63 Z" fill="none" stroke="#000" stroke-width="1.50" stroke-linejoin="miter"/>
<path d="M237.17 383.06 L236.79 383.76 L236.58 384.60 L236.48 385.54 L236.46 386.57 L236.49 387.68 L236.57 388.86 L236.67 390.07 L236.80 391.29 L236.92 392.50 L237.04 393.67 L237.14 394.76 L237.21 395.76 L237.25 396.62 L237.29 397.51 L237.34 398.39 L237.38 399.28 L237.43 400.16 L237.49 401.04 L237.55 401.90 L237.63 402.74 L237.71 403.56 L237.81 404.35 L237.93 405.11 L238.06 405.83 L238.16 406.34 L238.27 406.88 L238.40 407.43 L238.53 407.98 L238.66 408.53 L238.80 409.05 L238.95 409.54 L239.11 409.99 L239.28 410.40 L239.48 410.78 L239.81 411.18 L240.50 411.48 L241.19 411.18 L241.52 410.78 L241.72 410.40 L241.89 409.99 L242.05 409.54 L242.20 409.05 L242.34 408.53 L242.47 407.98 L242.60 407.43 L242.73 406.88 L242.84 406.34 L242.94 405.83 L243.07 405.11 L243.19 404.35 L243.29 403.56 L243.37 402.74 L243.45 401.90 L243.51 401.04 L243.57 400.16 L243.62 399.28 L243.66 398.39 L243.71 397.51 L243.75 396.62 L243.79 395.76 L243.86 394.76 L243.96 393.67 L244.08 392.50 L244.20 391.29 L244.33 390.07 L244.43 388.86 L244.51 387.68 L244.54 386.57 L244.52 385.54 L244.42 384.60 L244.21 383.76 L243.83 383.06 L243.53 382.75 L243.22 382.54 L242.91 382.38 L242.59 382.28 L242.28 382.22 L241.98 382.18 L241.69 382.17 L241.42 382.17 L241.16 382.18 L240.92 382.19 L240.70 382.20 L240.50 382.20 L240.30 382.20 L240.08 382.19 L239.84 382.18 L239.58 382.17 L239.31 382.17 L239.02 382.18 L238.72 382.22 L238.41 382.28 L238.09 382.38 L237.78 382.54 L237.47 382.75 Z M238.63 384.14 L238.49 384.41 L238.36 384.92 L238.28 385.66 L238.26 386.56 L238.29 387.60 L238.36 388.72 L238.47 389.90 L238.59 391.11 L238.71 392.32 L238.84 393.50 L238.94 394.62 L239.01 395.65 L239.05 396.54 L239.09 397.42 L239.13 398.30 L239.18 399.18 L239.23 400.06 L239.28 400.91 L239.35 401.75 L239.42 402.56 L239.50 403.35 L239.59 404.10 L239.70 404.81 L239.82 405.49 L239.92 405.98 L240.03 406.50 L240.15 407.03 L240.28 407.56 L240.40 408.07 L240.50 408.43 L240.60 408.07 L240.72 407.56 L240.85 407.03 L240.97 406.50 L241.08 405.98 L241.18 405.49 L241.30 404.81 L241.41 404.10 L241.50 403.35 L241.58 402.56 L241.65 401.75 L241.72 400.91 L241.77 400.06 L241.82 399.18 L241.87 398.30 L241.91 397.42 L241.95 396.54 L241.99 395.65 L242.06 394.62 L242.16 393.50 L242.29 392.32 L242.41 391.11 L242.53 389.90 L242.64 388.72 L242.71 387.60 L242.74 386.56 L242.72 385.66 L242.64 384.92 L242.51 384.41 L242.37 384.14 L242.36 384.13 L242.31 384.09 L242.24 384.06 L242.13 384.02 L242.00 384.00 L241.84 383.98 L241.65 383.97 L241.44 383.97 L241.22 383.98 L240.99 383.99 L240.75 384.00 L240.50 384.00 L240.25 384.00 L240.01 383.99 L239.78 383.98 L239.56 383.97 L239.35 383.97 L239.16 383.98 L239.00 384.00 L238.87 384.02 L238.76 384.06 L238.69 384.09 L238.64 384.13 Z" fill="none" stroke="#000" stroke-width="1.10" stroke-linejoin="miter"/>
<path d="M299.41 309.71 L300.61 311.98 L301.03 312.87 L301.43 313.78 L301.83 314.73 L302.23 315.69 L302.66 316.67 L303.12 317.64 L303.63 318.60 L304.20 319.54 L304.86 320.45 L305.61 321.31 L306.47 322.10 L307.63 322.96 L308.89 323.72 L310.24 324.39 L311.67 325.00 L313.17 325.54 L314.71 326.02 L316.30 326.46 L317.92 326.85 L319.56 327.22 L321.21 327.56 L322.84 327.87 L324.47 328.18 L326.40 328.50 L328.39 328.77 L330.43 328.99 L332.50 329.15 L334.60 329.28 L336.72 329.36 L338.87 329.42 L341.02 329.45 L343.18 329.45 L345.33 329.44 L347.48 329.43 L349.62 329.40 L351.88 329.37 L354.18 329.32 L356.51 329.26 L358.87 329.18 L361.24 329.08 L363.60 328.95 L365.96 328.79 L368.30 328.59 L370.61 328.35 L372.87 328.08 L375.09 327.75 L377.23 327.38 L379.08 327.03 L380.97 326.67 L382.87 326.29 L384.78 325.89 L386.68 325.46 L388.53 324.98 L390.32 324.47 L392.04 323.90 L393.66 323.27 L395.16 322.57 L396.53 321.78 L397.73 320.90 L398.46 320.21 L399.08 319.48 L399.59 318.73 L400.03 317.95 L400.40 317.16 L400.72 316.38 L401.00 315.61 L401.27 314.85 L401.52 314.12 L401.78 313.41 L402.06 312.73 L402.97 310.80 L389.98 305.70 L389.11 307.05 L388.83 307.54 L388.57 308.01 L388.33 308.48 L388.10 308.92 L387.88 309.34 L387.64 309.74 L387.40 310.11 L387.15 310.46 L386.87 310.78 L386.57 311.07 L386.23 311.35 L385.61 311.76 L384.90 312.15 L384.10 312.51 L383.21 312.85 L382.26 313.17 L381.24 313.47 L380.17 313.75 L379.05 314.00 L377.90 314.25 L376.71 314.48 L375.50 314.70 L374.29 314.92 L372.55 315.18 L370.69 315.41 L368.72 315.60 L366.67 315.75 L364.55 315.87 L362.38 315.96 L360.19 316.03 L358.00 316.07 L355.82 316.10 L353.69 316.11 L351.61 316.11 L349.61 316.10 L347.86 316.09 L346.11 316.07 L344.38 316.04 L342.65 316.00 L340.94 315.95 L339.26 315.88 L337.61 315.79 L335.98 315.67 L334.40 315.53 L332.86 315.36 L331.37 315.16 L329.92 314.92 L328.78 314.71 L327.64 314.48 L326.51 314.24 L325.40 313.98 L324.32 313.71 L323.28 313.42 L322.27 313.11 L321.30 312.79 L320.38 312.44 L319.51 312.07 L318.70 311.69 L317.96 311.28 L317.47 310.97 L317.01 310.63 L316.59 310.28 L316.18 309.90 L315.78 309.51 L315.39 309.09 L315.01 308.66 L314.62 308.22 L314.22 307.76 L313.80 307.29 L313.37 306.83 L312.37 305.83 Z M303.17 311.30 L303.40 311.79 L303.82 312.76 L304.23 313.73 L304.62 314.67 L305.02 315.59 L305.44 316.48 L305.89 317.31 L306.37 318.10 L306.89 318.83 L307.48 319.49 L308.13 320.10 L309.07 320.79 L310.14 321.44 L311.33 322.03 L312.62 322.57 L314.00 323.07 L315.45 323.52 L316.96 323.94 L318.52 324.32 L320.11 324.67 L321.72 325.01 L323.33 325.32 L324.93 325.62 L326.79 325.93 L328.70 326.19 L330.67 326.40 L332.68 326.56 L334.73 326.68 L336.81 326.76 L338.92 326.82 L341.04 326.85 L343.18 326.85 L345.32 326.84 L347.45 326.83 L349.58 326.80 L351.83 326.77 L354.12 326.72 L356.43 326.66 L358.77 326.58 L361.11 326.48 L363.44 326.35 L365.76 326.19 L368.06 326.00 L370.32 325.77 L372.53 325.50 L374.68 325.19 L376.77 324.82 L378.60 324.48 L380.47 324.12 L382.35 323.74 L384.23 323.35 L386.07 322.93 L387.85 322.47 L389.56 321.98 L391.16 321.45 L392.64 320.88 L393.96 320.26 L395.11 319.60 L396.07 318.90 L396.57 318.42 L397.00 317.91 L397.38 317.35 L397.72 316.76 L398.02 316.12 L398.29 315.44 L398.55 314.74 L398.81 314.00 L399.07 313.24 L399.36 312.47 L399.46 312.21 L391.04 308.91 L390.87 309.23 L390.64 309.67 L390.40 310.14 L390.14 310.61 L389.86 311.10 L389.55 311.59 L389.19 312.08 L388.77 312.56 L388.30 313.02 L387.77 313.45 L386.95 313.99 L386.06 314.47 L385.11 314.91 L384.10 315.30 L383.04 315.65 L381.93 315.97 L380.79 316.27 L379.62 316.54 L378.42 316.80 L377.20 317.04 L375.96 317.26 L374.71 317.48 L372.90 317.76 L370.97 318.00 L368.94 318.19 L366.84 318.34 L364.68 318.47 L362.48 318.56 L360.26 318.63 L358.04 318.67 L355.85 318.70 L353.69 318.71 L351.60 318.71 L349.59 318.70 L347.84 318.69 L346.08 318.67 L344.33 318.64 L342.58 318.60 L340.85 318.55 L339.13 318.48 L337.44 318.38 L335.78 318.26 L334.14 318.12 L332.54 317.94 L330.98 317.73 L329.48 317.48 L328.29 317.26 L327.11 317.03 L325.95 316.78 L324.79 316.51 L323.66 316.22 L322.55 315.92 L321.47 315.59 L320.42 315.24 L319.41 314.86 L318.44 314.44 L317.51 314.00 L316.64 313.52 L316.00 313.12 L315.42 312.69 L314.88 312.24 L314.38 311.78 L313.91 311.31 L313.47 310.85 L313.06 310.38 L312.66 309.93 L312.27 309.48 L311.88 309.05 L311.62 308.77 Z" fill="none" stroke="#000" stroke-width="1.50" stroke-linejoin="miter"/>
<path d="M88.41 131.86 L83.22 147.45 L85.67 147.86 L86.73 148.03 L87.78 148.19 L88.83 148.34 L89.87 148.50 L90.91 148.66 L91.95 148.82 L93.00 148.99 L94.06 149.18 L95.13 149.39 L96.22 149.62 L97.33 149.87 L98.72 150.19 L100.19 150.52 L101.70 150.86 L103.24 151.22 L104.80 151.59 L106.34 151.99 L107.86 152.41 L109.34 152.86 L110.75 153.35 L112.07 153.87 L113.29 154.43 L114.39 155.03 L115.18 155.54 L115.95 156.09 L116.68 156.66 L117.38 157.27 L118.05 157.90 L118.69 158.55 L119.30 159.22 L119.89 159.91 L120.45 160.60 L121.00 161.30 L121.52 162.00 L122.02 162.69 L122.44 163.29 L122.84 163.89 L123.21 164.48 L123.56 165.07 L123.89 165.66 L124.20 166.26 L124.49 166.86 L124.76 167.48 L125.01 168.11 L125.24 168.75 L125.45 169.41 L125.64 170.09 L125.82 170.91 L125.96 171.78 L126.06 172.71 L126.13 173.68 L126.18 174.68 L126.20 175.69 L126.21 176.71 L126.20 177.73 L126.19 178.73 L126.19 179.70 L126.19 180.64 L126.20 181.53 L126.22 182.17 L126.25 182.78 L126.29 183.35 L126.33 183.90 L126.36 184.43 L126.39 184.94 L126.41 185.43 L126.41 185.93 L126.39 186.42 L126.36 186.92 L126.30 187.45 L126.22 187.99 L126.07 188.77 L125.89 189.59 L125.68 190.44 L125.44 191.31 L125.17 192.20 L124.87 193.09 L124.55 193.98 L124.19 194.86 L123.81 195.73 L123.40 196.57 L122.96 197.38 L122.49 198.16 L121.94 198.98 L121.35 199.80 L120.72 200.62 L120.05 201.43 L119.35 202.22 L118.62 203.00 L117.86 203.75 L117.07 204.47 L116.25 205.15 L115.41 205.80 L114.55 206.41 L113.68 206.97 L112.71 207.51 L111.68 208.00 L110.59 208.43 L109.45 208.83 L108.26 209.19 L107.04 209.53 L105.80 209.85 L104.53 210.16 L103.26 210.46 L101.99 210.77 L100.72 211.10 L99.47 211.45 L98.27 211.79 L97.07 212.13 L95.86 212.46 L94.66 212.79 L93.46 213.11 L92.25 213.43 L91.04 213.75 L89.83 214.06 L88.62 214.38 L87.41 214.70 L86.20 215.02 L83.80 215.66 L88.38 231.15 L90.92 230.50 L92.34 230.18 L93.78 229.87 L95.23 229.57 L96.68 229.27 L98.14 228.96 L99.61 228.62 L101.08 228.25 L102.54 227.83 L104.01 227.36 L105.46 226.81 L106.90 226.19 L108.44 225.43 L109.97 224.60 L111.49 223.70 L112.99 222.75 L114.48 221.75 L115.95 220.70 L117.41 219.63 L118.83 218.54 L120.24 217.43 L121.61 216.32 L122.96 215.21 L124.28 214.11 L125.51 213.04 L126.70 211.91 L127.85 210.75 L128.97 209.57 L130.06 208.38 L131.14 207.20 L132.19 206.04 L133.24 204.91 L134.28 203.82 L135.33 202.79 L136.38 201.83 L137.45 200.94 L138.39 200.22 L139.34 199.53 L140.30 198.87 L141.26 198.24 L142.23 197.64 L143.20 197.05 L144.18 196.49 L145.15 195.94 L146.13 195.41 L147.11 194.89 L148.08 194.37 L149.04 193.87 L149.90 193.46 L150.77 193.08 L151.68 192.74 L152.61 192.41 L153.55 192.09 L154.50 191.77 L155.44 191.43 L156.37 191.07 L157.28 190.67 L158.15 190.22 L158.99 189.71 L159.76 189.13 L160.37 188.59 L160.95 188.02 L161.52 187.43 L162.05 186.81 L162.56 186.16 L163.04 185.50 L163.48 184.81 L163.87 184.11 L164.22 183.39 L164.50 182.67 L164.73 181.93 L164.89 181.19 L164.96 180.48 L164.98 179.77 L164.95 179.04 L164.86 178.32 L164.73 177.59 L164.55 176.88 L164.33 176.17 L164.07 175.48 L163.77 174.81 L163.44 174.16 L163.06 173.55 L162.64 172.96 L162.12 172.35 L161.53 171.80 L160.89 171.31 L160.22 170.86 L159.52 170.45 L158.79 170.06 L158.05 169.70 L157.30 169.36 L156.54 169.02 L155.79 168.69 L155.05 168.36 L154.30 168.01 L153.37 167.59 L152.39 167.21 L151.39 166.85 L150.38 166.52 L149.37 166.20 L148.35 165.87 L147.33 165.54 L146.33 165.19 L145.34 164.82 L144.37 164.41 L143.42 163.96 L142.50 163.46 L141.45 162.81 L140.38 162.09 L139.30 161.30 L138.22 160.46 L137.13 159.57 L136.06 158.66 L134.99 157.73 L133.95 156.78 L132.92 155.84 L131.92 154.91 L130.95 154.00 L130.03 153.13 L129.31 152.44 L128.64 151.74 L128.00 151.03 L127.37 150.31 L126.76 149.60 L126.14 148.87 L125.53 148.15 L124.90 147.44 L124.24 146.73 L123.56 146.02 L122.83 145.34 L122.07 144.68 L121.27 144.03 L120.48 143.40 L119.67 142.79 L118.85 142.19 L118.01 141.60 L117.15 141.03 L116.26 140.47 L115.34 139.93 L114.38 139.40 L113.39 138.89 L112.36 138.39 L111.27 137.90 L109.72 137.27 L108.07 136.70 L106.34 136.17 L104.54 135.67 L102.70 135.20 L100.81 134.75 L98.90 134.32 L96.98 133.89 L95.06 133.47 L93.17 133.04 L91.31 132.60 Z M86.38 145.54 L87.10 145.66 L88.14 145.81 L89.18 145.97 L90.22 146.12 L91.27 146.28 L92.34 146.45 L93.41 146.63 L94.50 146.82 L95.60 147.04 L96.73 147.27 L97.87 147.53 L99.26 147.85 L100.72 148.18 L102.23 148.52 L103.79 148.88 L105.38 149.26 L106.96 149.67 L108.54 150.11 L110.08 150.58 L111.58 151.10 L113.01 151.67 L114.36 152.29 L115.61 152.97 L116.53 153.55 L117.39 154.17 L118.21 154.82 L118.99 155.49 L119.73 156.19 L120.43 156.90 L121.10 157.63 L121.73 158.37 L122.33 159.11 L122.91 159.84 L123.45 160.58 L123.98 161.31 L124.42 161.94 L124.85 162.58 L125.25 163.22 L125.64 163.87 L126.01 164.52 L126.35 165.19 L126.67 165.86 L126.98 166.56 L127.26 167.26 L127.52 167.99 L127.75 168.73 L127.96 169.51 L128.18 170.46 L128.33 171.46 L128.45 172.49 L128.53 173.54 L128.57 174.60 L128.60 175.66 L128.61 176.71 L128.60 177.74 L128.59 178.75 L128.59 179.71 L128.59 180.62 L128.60 181.47 L128.62 182.07 L128.65 182.64 L128.69 183.20 L128.72 183.74 L128.76 184.29 L128.79 184.83 L128.80 185.39 L128.81 185.95 L128.79 186.54 L128.75 187.14 L128.68 187.76 L128.58 188.41 L128.42 189.26 L128.23 190.14 L128.00 191.05 L127.75 191.98 L127.46 192.93 L127.14 193.88 L126.79 194.84 L126.40 195.80 L125.98 196.74 L125.53 197.67 L125.04 198.58 L124.51 199.44 L123.92 200.34 L123.28 201.23 L122.60 202.12 L121.88 202.99 L121.12 203.84 L120.33 204.68 L119.51 205.49 L118.65 206.27 L117.76 207.02 L116.84 207.73 L115.90 208.40 L114.92 209.03 L113.80 209.65 L112.64 210.20 L111.43 210.68 L110.19 211.11 L108.93 211.50 L107.66 211.85 L106.38 212.18 L105.10 212.49 L103.82 212.79 L102.57 213.10 L101.34 213.42 L100.13 213.75 L98.92 214.10 L97.71 214.44 L96.50 214.78 L95.29 215.11 L94.07 215.43 L92.86 215.75 L91.65 216.07 L90.44 216.39 L89.23 216.70 L88.02 217.02 L86.82 217.34 L86.80 217.34 L90.02 228.25 L90.36 228.17 L91.82 227.83 L93.28 227.52 L94.74 227.22 L96.19 226.92 L97.62 226.61 L99.05 226.29 L100.45 225.93 L101.84 225.53 L103.22 225.09 L104.57 224.59 L105.90 224.01 L107.34 223.30 L108.79 222.51 L110.23 221.66 L111.68 220.74 L113.12 219.77 L114.55 218.76 L115.96 217.71 L117.36 216.64 L118.74 215.55 L120.10 214.46 L121.43 213.36 L122.72 212.29 L123.89 211.26 L125.02 210.19 L126.13 209.07 L127.22 207.93 L128.29 206.76 L129.36 205.59 L130.42 204.42 L131.49 203.26 L132.58 202.14 L133.67 201.05 L134.80 200.02 L135.95 199.06 L136.95 198.30 L137.95 197.57 L138.96 196.88 L139.97 196.22 L140.97 195.59 L141.98 194.99 L142.99 194.40 L143.99 193.84 L144.99 193.30 L145.98 192.77 L146.97 192.25 L147.96 191.73 L148.90 191.27 L149.88 190.86 L150.85 190.49 L151.82 190.14 L152.78 189.82 L153.71 189.50 L154.60 189.18 L155.45 188.85 L156.25 188.50 L156.98 188.13 L157.64 187.72 L158.24 187.27 L158.74 186.83 L159.25 186.34 L159.74 185.82 L160.20 185.28 L160.64 184.72 L161.05 184.15 L161.42 183.58 L161.74 183.00 L162.02 182.43 L162.24 181.87 L162.40 181.33 L162.51 180.81 L162.57 180.32 L162.58 179.79 L162.56 179.24 L162.49 178.67 L162.38 178.10 L162.24 177.52 L162.06 176.95 L161.85 176.39 L161.61 175.85 L161.35 175.34 L161.06 174.87 L160.76 174.44 L160.39 174.02 L159.97 173.63 L159.49 173.26 L158.95 172.90 L158.35 172.55 L157.71 172.21 L157.02 171.87 L156.31 171.55 L155.57 171.22 L154.81 170.88 L154.05 170.54 L153.30 170.19 L152.44 169.81 L151.55 169.46 L150.62 169.12 L149.64 168.80 L148.64 168.48 L147.61 168.16 L146.57 167.82 L145.51 167.45 L144.45 167.05 L143.39 166.60 L142.33 166.10 L141.30 165.54 L140.15 164.83 L139.00 164.05 L137.86 163.22 L136.72 162.34 L135.60 161.42 L134.49 160.48 L133.40 159.52 L132.33 158.56 L131.29 157.60 L130.28 156.66 L129.31 155.75 L128.37 154.87 L127.61 154.13 L126.89 153.38 L126.21 152.63 L125.56 151.89 L124.93 151.15 L124.32 150.43 L123.71 149.73 L123.11 149.04 L122.50 148.38 L121.87 147.74 L121.22 147.12 L120.53 146.52 L119.77 145.91 L119.01 145.30 L118.23 144.71 L117.45 144.14 L116.66 143.59 L115.84 143.05 L115.01 142.52 L114.14 142.01 L113.25 141.52 L112.32 141.03 L111.34 140.56 L110.33 140.10 L108.88 139.52 L107.32 138.98 L105.67 138.47 L103.93 137.99 L102.12 137.53 L100.27 137.09 L98.37 136.66 L96.46 136.24 L94.54 135.81 L92.63 135.38 L90.74 134.93 L89.99 134.74 Z" fill="none" stroke="#000" stroke-width="1.20" stroke-linejoin="miter"/>
<path d="M127.06 177.57 L126.72 177.90 L126.48 178.25 L126.31 178.62 L126.20 178.99 L126.13 179.36 L126.09 179.72 L126.07 180.07 L126.07 180.41 L126.08 180.74 L126.09 181.05 L126.10 181.34 L126.10 181.60 L126.10 181.86 L126.09 182.15 L126.08 182.46 L126.07 182.79 L126.07 183.13 L126.09 183.48 L126.13 183.84 L126.20 184.21 L126.31 184.58 L126.48 184.95 L126.72 185.30 L127.06 185.63 L127.73 185.99 L128.50 186.18 L129.34 186.26 L130.24 186.25 L131.20 186.19 L132.21 186.08 L133.24 185.95 L134.28 185.80 L135.31 185.65 L136.30 185.50 L137.23 185.38 L138.08 185.30 L138.85 185.24 L139.64 185.18 L140.43 185.12 L141.22 185.06 L142.02 184.99 L142.80 184.92 L143.58 184.85 L144.34 184.76 L145.09 184.66 L145.82 184.55 L146.52 184.42 L147.20 184.28 L147.71 184.16 L148.26 184.03 L148.82 183.88 L149.39 183.74 L149.96 183.58 L150.50 183.41 L151.01 183.24 L151.48 183.06 L151.91 182.87 L152.30 182.64 L152.70 182.28 L152.97 181.60 L152.70 180.92 L152.30 180.56 L151.91 180.33 L151.48 180.14 L151.01 179.96 L150.50 179.79 L149.96 179.62 L149.39 179.46 L148.82 179.32 L148.26 179.17 L147.71 179.04 L147.20 178.92 L146.52 178.78 L145.82 178.65 L145.09 178.54 L144.34 178.44 L143.58 178.35 L142.80 178.28 L142.02 178.21 L141.22 178.14 L140.43 178.08 L139.64 178.02 L138.85 177.96 L138.08 177.90 L137.23 177.82 L136.30 177.70 L135.31 177.55 L134.28 177.40 L133.24 177.25 L132.21 177.12 L131.20 177.01 L130.24 176.95 L129.34 176.94 L128.50 177.02 L127.73 177.21 Z M128.14 179.03 L128.10 179.07 L128.05 179.15 L127.99 179.26 L127.95 179.42 L127.91 179.62 L127.88 179.86 L127.87 180.12 L127.87 180.40 L127.88 180.69 L127.89 180.99 L127.90 181.30 L127.90 181.60 L127.90 181.90 L127.89 182.21 L127.88 182.51 L127.87 182.80 L127.87 183.08 L127.88 183.34 L127.91 183.58 L127.95 183.78 L127.99 183.94 L128.05 184.05 L128.10 184.13 L128.14 184.17 L128.38 184.30 L128.80 184.40 L129.42 184.46 L130.18 184.45 L131.05 184.40 L132.00 184.30 L133.00 184.17 L134.02 184.02 L135.04 183.87 L136.05 183.72 L137.02 183.59 L137.92 183.50 L138.71 183.44 L139.50 183.38 L140.30 183.32 L141.08 183.26 L141.86 183.20 L142.63 183.13 L143.39 183.06 L144.12 182.97 L144.84 182.88 L145.52 182.77 L146.18 182.66 L146.80 182.52 L147.30 182.41 L147.83 182.28 L148.38 182.14 L148.92 182.00 L149.46 181.85 L149.96 181.70 L150.25 181.60 L149.96 181.50 L149.46 181.35 L148.92 181.20 L148.38 181.06 L147.83 180.92 L147.30 180.79 L146.80 180.68 L146.18 180.54 L145.52 180.43 L144.84 180.32 L144.12 180.23 L143.39 180.14 L142.63 180.07 L141.86 180.00 L141.08 179.94 L140.30 179.88 L139.50 179.82 L138.71 179.76 L137.92 179.70 L137.02 179.61 L136.05 179.48 L135.04 179.33 L134.02 179.18 L133.00 179.03 L132.00 178.90 L131.05 178.80 L130.18 178.75 L129.42 178.74 L128.80 178.80 L128.38 178.90 Z" fill="none" stroke="#000" stroke-width="1.10" stroke-linejoin="miter"/>
<path d="M175.06 126.67 L169.79 138.21 L170.86 139.43 L171.44 140.05 L172.03 140.64 L172.61 141.21 L173.18 141.77 L173.74 142.33 L174.27 142.89 L174.78 143.47 L175.27 144.08 L175.72 144.71 L176.13 145.39 L176.52 146.12 L177.00 147.25 L177.44 148.51 L177.83 149.89 L178.18 151.36 L178.49 152.90 L178.77 154.50 L179.02 156.14 L179.24 157.79 L179.45 159.45 L179.64 161.09 L179.83 162.69 L180.01 164.24 L180.17 165.65 L180.31 167.04 L180.42 168.41 L180.52 169.78 L180.60 171.14 L180.67 172.51 L180.72 173.88 L180.76 175.26 L180.78 176.66 L180.80 178.07 L180.80 179.52 L180.80 181.00 L180.79 182.73 L180.77 184.52 L180.73 186.36 L180.68 188.23 L180.62 190.12 L180.54 192.01 L180.44 193.89 L180.32 195.75 L180.18 197.56 L180.01 199.33 L179.83 201.02 L179.61 202.64 L179.43 203.91 L179.26 205.18 L179.09 206.43 L178.91 207.67 L178.72 208.87 L178.51 210.03 L178.28 211.14 L178.02 212.19 L177.72 213.18 L177.38 214.09 L177.01 214.92 L176.59 215.65 L176.24 216.13 L175.86 216.57 L175.44 216.98 L174.98 217.36 L174.48 217.73 L173.96 218.08 L173.41 218.43 L172.84 218.78 L172.25 219.14 L171.65 219.51 L171.05 219.92 L169.80 220.84 L173.93 234.08 L176.15 232.61 L177.05 232.07 L177.99 231.53 L178.94 231.01 L179.92 230.47 L180.89 229.92 L181.86 229.33 L182.82 228.69 L183.75 228.00 L184.65 227.23 L185.49 226.37 L186.27 225.41 L187.10 224.15 L187.84 222.80 L188.51 221.36 L189.10 219.85 L189.63 218.28 L190.10 216.66 L190.53 215.00 L190.93 213.30 L191.29 211.59 L191.63 209.86 L191.96 208.14 L192.28 206.41 L192.64 204.33 L192.95 202.16 L193.22 199.93 L193.44 197.65 L193.63 195.33 L193.78 193.00 L193.89 190.65 L193.97 188.30 L194.02 185.96 L194.04 183.66 L194.03 181.39 L194.00 179.17 L193.94 177.13 L193.85 175.09 L193.73 173.05 L193.57 171.03 L193.40 169.02 L193.19 167.02 L192.96 165.04 L192.71 163.08 L192.43 161.14 L192.13 159.23 L191.82 157.34 L191.48 155.49 L191.18 153.83 L190.89 152.16 L190.59 150.48 L190.28 148.80 L189.96 147.12 L189.60 145.47 L189.21 143.85 L188.77 142.27 L188.27 140.74 L187.71 139.27 L187.06 137.88 L186.32 136.56 L185.62 135.55 L184.86 134.62 L184.05 133.77 L183.21 132.99 L182.33 132.26 L181.44 131.57 L180.55 130.91 L179.66 130.27 L178.78 129.64 L177.92 129.01 L177.09 128.36 Z M172.60 221.77 L175.28 230.34 L175.84 230.00 L176.81 229.44 L177.79 228.91 L178.74 228.38 L179.68 227.85 L180.58 227.30 L181.44 226.73 L182.25 226.13 L183.01 225.47 L183.70 224.77 L184.33 223.99 L185.05 222.91 L185.70 221.72 L186.30 220.42 L186.84 219.03 L187.34 217.56 L187.79 216.02 L188.20 214.43 L188.59 212.78 L188.94 211.11 L189.28 209.41 L189.60 207.69 L189.92 205.99 L190.27 203.95 L190.57 201.84 L190.83 199.67 L191.05 197.43 L191.24 195.16 L191.38 192.86 L191.50 190.55 L191.58 188.23 L191.62 185.93 L191.64 183.65 L191.63 181.41 L191.60 179.23 L191.54 177.22 L191.45 175.21 L191.33 173.21 L191.18 171.23 L191.01 169.25 L190.80 167.28 L190.58 165.33 L190.33 163.40 L190.06 161.49 L189.76 159.61 L189.45 157.75 L189.12 155.91 L188.82 154.25 L188.52 152.58 L188.23 150.90 L187.93 149.24 L187.61 147.61 L187.26 146.01 L186.89 144.46 L186.47 142.97 L186.01 141.55 L185.49 140.21 L184.92 138.97 L184.28 137.84 L183.70 136.99 L183.06 136.21 L182.37 135.48 L181.62 134.79 L180.83 134.12 L180.00 133.48 L179.14 132.85 L178.26 132.22 L177.37 131.58 L176.47 130.92 L175.94 130.51 L172.61 137.79 L172.63 137.81 L173.17 138.37 L173.72 138.93 L174.29 139.50 L174.87 140.07 L175.46 140.66 L176.05 141.28 L176.62 141.93 L177.18 142.63 L177.72 143.39 L178.22 144.20 L178.68 145.08 L179.24 146.39 L179.73 147.79 L180.15 149.28 L180.52 150.84 L180.85 152.46 L181.14 154.12 L181.39 155.80 L181.62 157.48 L181.83 159.16 L182.03 160.81 L182.21 162.41 L182.39 163.96 L182.55 165.40 L182.70 166.82 L182.82 168.22 L182.92 169.62 L183.00 171.01 L183.07 172.40 L183.12 173.80 L183.16 175.20 L183.18 176.62 L183.20 178.06 L183.20 179.52 L183.20 181.00 L183.19 182.75 L183.17 184.55 L183.13 186.41 L183.08 188.30 L183.02 190.21 L182.93 192.12 L182.83 194.03 L182.71 195.92 L182.57 197.77 L182.40 199.57 L182.21 201.31 L181.99 202.96 L181.81 204.23 L181.64 205.50 L181.47 206.77 L181.28 208.03 L181.09 209.27 L180.87 210.49 L180.62 211.68 L180.33 212.83 L180.00 213.94 L179.61 215.00 L179.15 216.01 L178.61 216.95 L178.13 217.62 L177.60 218.23 L177.04 218.77 L176.46 219.25 L175.87 219.69 L175.27 220.09 L174.67 220.47 L174.09 220.83 L173.51 221.18 L172.96 221.53 Z" fill="none" stroke="#000" stroke-width="1.20" stroke-linejoin="miter"/>
<text x="87.8" y="108.0" font-size="14.40" font-weight="bold" letter-spacing="0.07">Einlageverbrauch 0.40cm</text>
<text x="87.8" y="121.0" font-size="14.40" font-weight="bold" letter-spacing="0.07">alle Größen</text>
<text x="81.8" y="251.3" font-size="14.40" font-weight="bold" letter-spacing="0.07">Einlagebreite 0.90cm</text>
<text x="81.8" y="264.3" font-size="14.40" font-weight="bold" letter-spacing="0.07">im Bruch</text>
<text x="168.2" y="301.0" font-size="14.40" font-weight="bold" letter-spacing="0.07">Gitte</text>
<text x="123.2" y="655.0" font-size="14.40" font-weight="bold" letter-spacing="0.07">Stoffbreite 1.40m</text>
<text x="519.3" y="652.4" font-size="14.40" font-weight="bold" letter-spacing="0.07">Stoffbreite 1.40m</text>
<text x="451.0" y="615.5" font-size="14.40" font-weight="bold" letter-spacing="0.00" transform="rotate(-90 451.0 615.5)">Stoffverbrauch</text>
<text x="451.0" y="485.5" font-size="14.40" font-weight="bold" letter-spacing="0.00" transform="rotate(-90 451.0 485.5)">Gr.</text>
<text x="451.0" y="460.5" font-size="14.40" font-weight="bold" letter-spacing="0.00" transform="rotate(-90 451.0 460.5)">34-42=</text>
<text x="451.0" y="399.0" font-size="14.40" font-weight="bold" letter-spacing="0.00" transform="rotate(-90 451.0 399.0)">1.30m</text>
<text x="865.0" y="601.8" font-size="14.40" font-weight="bold" letter-spacing="0.12" transform="rotate(-88.56 865.0 601.8)">Stoffverbrauch</text>
<text x="868.3" y="470.3" font-size="14.40" font-weight="bold" letter-spacing="0.00" transform="rotate(-88.56 868.3 470.3)">Gr.</text>
<text x="868.9" y="446.0" font-size="14.40" font-weight="bold" letter-spacing="0.00" transform="rotate(-88.56 868.9 446.0)">44-50=</text>
<text x="870.4" y="386.7" font-size="14.40" font-weight="bold" letter-spacing="0.40" transform="rotate(-88.56 870.4 386.7)">2.20m</text>
<text x="204.5" y="215.8" font-size="14.40" font-weight="bold" letter-spacing="0.00" transform="rotate(-90 204.5 215.8)">Umbruch</text>
<path transform="translate(143.50 539.00) rotate(-90) translate(0.00 0) scale(1.0000)" d="M5.6 0.5 L0.4 9.8 L9.8 9.8 M7 2.2 L7 14.4" fill="none" stroke="#000" stroke-width="1.900" stroke-linecap="square" stroke-linejoin="miter"/>
<path transform="translate(143.50 539.00) rotate(-90) translate(13.60 0) scale(1.0000)" d="M0.7 3.4 Q1.5 0.4 5.3 0.4 Q9.4 0.4 9.4 4.2 Q9.4 9 5.3 11 L0.7 12.8 L0.7 14.3 L9.7 14.3" fill="none" stroke="#000" stroke-width="1.900" stroke-linecap="square" stroke-linejoin="miter"/>
<path transform="translate(294.00 429.20) rotate(-90) translate(0.00 0) scale(1.0000)" d="M5.6 0.5 L0.4 9.8 L9.8 9.8 M7 2.2 L7 14.4" fill="none" stroke="#000" stroke-width="1.900" stroke-linecap="square" stroke-linejoin="miter"/>
<path transform="translate(294.00 429.20) rotate(-90) translate(13.40 0) scale(1.0000)" d="M0.7 3.4 Q1.5 0.4 5.3 0.4 Q9.4 0.4 9.4 4.2 Q9.4 9 5.3 11 L0.7 12.8 L0.7 14.3 L9.7 14.3" fill="none" stroke="#000" stroke-width="1.900" stroke-linecap="square" stroke-linejoin="miter"/>
<path transform="translate(697.20 151.00) rotate(-90) translate(0.00 0) scale(1.0000)" d="M9.6 0.4 L0.5 0.4 L0.5 6 Q2 4.9 5 4.9 Q9.6 4.9 9.6 9.5 Q9.6 14.2 5.2 14.2 Q2.2 14.2 0.8 12.8" fill="none" stroke="#000" stroke-width="1.900" stroke-linecap="square" stroke-linejoin="miter"/>
<path transform="translate(697.20 151.00) rotate(-90) translate(13.40 0) scale(1.0000)" d="M2.2 0.3 L7.8 0.3 Q9.7 0.3 9.7 2.5 L9.7 12 Q9.7 14.2 7.8 14.2 L2.2 14.2 Q0.3 14.2 0.3 12 L0.3 2.5 Q0.3 0.3 2.2 0.3 Z M9.2 1 L0.8 13.5" fill="none" stroke="#000" stroke-width="1.900" stroke-linecap="square" stroke-linejoin="miter"/>
<path transform="translate(579.30 524.60) rotate(-90) translate(0.00 0) scale(1.0000)" d="M9.6 0.4 L0.5 0.4 L0.5 6 Q2 4.9 5 4.9 Q9.6 4.9 9.6 9.5 Q9.6 14.2 5.2 14.2 Q2.2 14.2 0.8 12.8" fill="none" stroke="#000" stroke-width="1.900" stroke-linecap="square" stroke-linejoin="miter"/>
<path transform="translate(579.30 524.60) rotate(-90) translate(13.40 0) scale(1.0000)" d="M2.2 0.3 L7.8 0.3 Q9.7 0.3 9.7 2.5 L9.7 12 Q9.7 14.2 7.8 14.2 L2.2 14.2 Q0.3 14.2 0.3 12 L0.3 2.5 Q0.3 0.3 2.2 0.3 Z M9.2 1 L0.8 13.5" fill="none" stroke="#000" stroke-width="1.900" stroke-linecap="square" stroke-linejoin="miter"/>
<path transform="translate(135.60 327.50) rotate(-90) translate(0.00 0) scale(0.6759)" d="M5.6 0.5 L0.4 9.8 L9.8 9.8 M7 2.2 L7 14.4" fill="none" stroke="#000" stroke-width="2.515" stroke-linecap="square" stroke-linejoin="miter"/>
<path transform="translate(135.60 327.50) rotate(-90) translate(9.10 0) scale(0.6759)" d="M0.7 3.4 Q1.5 0.4 5.3 0.4 Q9.4 0.4 9.4 4.2 Q9.4 9 5.3 11 L0.7 12.8 L0.7 14.3 L9.7 14.3" fill="none" stroke="#000" stroke-width="2.515" stroke-linecap="square" stroke-linejoin="miter"/>
<path transform="translate(213.60 338.80) rotate(-90) translate(0.00 0) scale(0.6759)" d="M5.6 0.5 L0.4 9.8 L9.8 9.8 M7 2.2 L7 14.4" fill="none" stroke="#000" stroke-width="2.515" stroke-linecap="square" stroke-linejoin="miter"/>
<path transform="translate(213.60 338.80) rotate(-90) translate(9.10 0) scale(0.6759)" d="M0.7 3.4 Q1.5 0.4 5.3 0.4 Q9.4 0.4 9.4 4.2 Q9.4 9 5.3 11 L0.7 12.8 L0.7 14.3 L9.7 14.3" fill="none" stroke="#000" stroke-width="2.515" stroke-linecap="square" stroke-linejoin="miter"/>
<path transform="translate(618.70 162.40) rotate(-90) translate(0.00 0) scale(0.6483)" d="M9.6 0.4 L0.5 0.4 L0.5 6 Q2 4.9 5 4.9 Q9.6 4.9 9.6 9.5 Q9.6 14.2 5.2 14.2 Q2.2 14.2 0.8 12.8" fill="none" stroke="#000" stroke-width="2.622" stroke-linecap="square" stroke-linejoin="miter"/>
<path transform="translate(618.70 162.40) rotate(-90) translate(8.90 0) scale(0.6483)" d="M2.2 0.3 L7.8 0.3 Q9.7 0.3 9.7 2.5 L9.7 12 Q9.7 14.2 7.8 14.2 L2.2 14.2 Q0.3 14.2 0.3 12 L0.3 2.5 Q0.3 0.3 2.2 0.3 Z M9.2 1 L0.8 13.5" fill="none" stroke="#000" stroke-width="2.622" stroke-linecap="square" stroke-linejoin="miter"/>
<path transform="translate(579.90 240.00) rotate(-90) translate(0.00 0) scale(0.6483)" d="M9.6 0.4 L0.5 0.4 L0.5 6 Q2 4.9 5 4.9 Q9.6 4.9 9.6 9.5 Q9.6 14.2 5.2 14.2 Q2.2 14.2 0.8 12.8" fill="none" stroke="#000" stroke-width="2.622" stroke-linecap="square" stroke-linejoin="miter"/>
<path transform="translate(579.90 240.00) rotate(-90) translate(8.90 0) scale(0.6483)" d="M2.2 0.3 L7.8 0.3 Q9.7 0.3 9.7 2.5 L9.7 12 Q9.7 14.2 7.8 14.2 L2.2 14.2 Q0.3 14.2 0.3 12 L0.3 2.5 Q0.3 0.3 2.2 0.3 Z M9.2 1 L0.8 13.5" fill="none" stroke="#000" stroke-width="2.622" stroke-linecap="square" stroke-linejoin="miter"/>
<line x1="77.8" y1="357.1" x2="83.8" y2="357.7" stroke="#000" stroke-width="1.60"/>
<line x1="182.2" y1="357.7" x2="188.2" y2="357.1" stroke="#000" stroke-width="1.60"/>
<line x1="78.2" y1="385.1" x2="84.2" y2="386.1" stroke="#000" stroke-width="1.60"/>
<line x1="181.5" y1="386.1" x2="187.5" y2="385.1" stroke="#000" stroke-width="1.60"/>
<line x1="107.1" y1="367.1" x2="110.5" y2="362.1" stroke="#000" stroke-width="1.60"/>
<line x1="154.9" y1="362.1" x2="158.3" y2="367.1" stroke="#000" stroke-width="1.60"/>
<line x1="54.8" y1="408.5" x2="60.8" y2="408.5" stroke="#000" stroke-width="1.60"/>
<line x1="55.8" y1="422.0" x2="61.8" y2="422.0" stroke="#000" stroke-width="1.60"/>
<line x1="204.8" y1="408.5" x2="210.8" y2="408.5" stroke="#000" stroke-width="1.60"/>
<line x1="204.0" y1="422.0" x2="210.0" y2="422.0" stroke="#000" stroke-width="1.60"/>
<line x1="55.6" y1="477.8" x2="61.6" y2="477.8" stroke="#000" stroke-width="1.60"/>
<line x1="203.6" y1="477.8" x2="209.6" y2="477.8" stroke="#000" stroke-width="1.60"/>
<line x1="50.0" y1="621.0" x2="56.0" y2="621.0" stroke="#000" stroke-width="1.60"/>
<line x1="209.5" y1="621.0" x2="215.5" y2="621.0" stroke="#000" stroke-width="1.60"/>
<line x1="50.5" y1="631.0" x2="56.5" y2="631.0" stroke="#000" stroke-width="1.60"/>
<line x1="209.0" y1="631.0" x2="215.0" y2="631.0" stroke="#000" stroke-width="1.60"/>
<line x1="286.4" y1="360.4" x2="292.4" y2="360.4" stroke="#000" stroke-width="1.60"/>
<line x1="286.4" y1="358.2" x2="292.4" y2="358.2" stroke="#000" stroke-width="1.60"/>
<line x1="405.9" y1="360.4" x2="411.9" y2="360.4" stroke="#000" stroke-width="1.60"/>
<line x1="405.9" y1="358.2" x2="411.9" y2="358.2" stroke="#000" stroke-width="1.60"/>
<line x1="287.8" y1="385.7" x2="293.8" y2="386.3" stroke="#000" stroke-width="1.60"/>
<line x1="405.0" y1="386.3" x2="411.0" y2="385.7" stroke="#000" stroke-width="1.60"/>
<line x1="324.0" y1="338.6" x2="324.0" y2="344.6" stroke="#000" stroke-width="1.60"/>
<line x1="374.5" y1="338.6" x2="374.5" y2="344.6" stroke="#000" stroke-width="1.60"/>
<line x1="270.8" y1="477.0" x2="276.8" y2="477.0" stroke="#000" stroke-width="1.60"/>
<line x1="422.0" y1="477.0" x2="428.0" y2="477.0" stroke="#000" stroke-width="1.60"/>
<line x1="267.0" y1="621.0" x2="273.0" y2="621.0" stroke="#000" stroke-width="1.60"/>
<line x1="425.5" y1="621.0" x2="431.5" y2="621.0" stroke="#000" stroke-width="1.60"/>
<line x1="267.0" y1="631.0" x2="273.0" y2="631.0" stroke="#000" stroke-width="1.60"/>
<line x1="425.5" y1="631.0" x2="431.5" y2="631.0" stroke="#000" stroke-width="1.60"/>
<line x1="729.5" y1="61.5" x2="729.5" y2="67.5" stroke="#000" stroke-width="1.60"/>
<line x1="777.5" y1="61.5" x2="777.5" y2="67.5" stroke="#000" stroke-width="1.60"/>
<line x1="686.8" y1="83.6" x2="692.8" y2="83.6" stroke="#000" stroke-width="1.60"/>
<line x1="686.8" y1="81.4" x2="692.8" y2="81.4" stroke="#000" stroke-width="1.60"/>
<line x1="815.0" y1="83.6" x2="821.0" y2="83.6" stroke="#000" stroke-width="1.60"/>
<line x1="815.0" y1="81.4" x2="821.0" y2="81.4" stroke="#000" stroke-width="1.60"/>
<line x1="686.5" y1="115.0" x2="692.5" y2="116.0" stroke="#000" stroke-width="1.60"/>
<line x1="815.5" y1="116.0" x2="821.5" y2="115.0" stroke="#000" stroke-width="1.60"/>
<line x1="659.3" y1="200.0" x2="665.3" y2="200.0" stroke="#000" stroke-width="1.60"/>
<line x1="842.7" y1="200.0" x2="848.7" y2="200.0" stroke="#000" stroke-width="1.60"/>
<path d="M753.6 63.2 L755.8 65.6 L753.6 68 L751.4 65.6 Z" fill="#000"/>
<line x1="656.5" y1="354.0" x2="662.5" y2="354.0" stroke="#000" stroke-width="1.60"/>
<line x1="844.0" y1="354.0" x2="850.0" y2="354.0" stroke="#000" stroke-width="1.60"/>
<line x1="656.5" y1="364.0" x2="662.5" y2="364.0" stroke="#000" stroke-width="1.60"/>
<line x1="844.0" y1="364.0" x2="850.0" y2="364.0" stroke="#000" stroke-width="1.60"/>
<line x1="506.0" y1="336.5" x2="512.0" y2="337.1" stroke="#000" stroke-width="1.60"/>
<line x1="623.8" y1="337.1" x2="629.8" y2="336.5" stroke="#000" stroke-width="1.60"/>
<line x1="507.3" y1="362.7" x2="513.1" y2="364.3" stroke="#000" stroke-width="1.60"/>
<line x1="622.7" y1="364.3" x2="628.5" y2="362.7" stroke="#000" stroke-width="1.60"/>
<line x1="537.9" y1="346.0" x2="541.3" y2="341.0" stroke="#000" stroke-width="1.60"/>
<line x1="594.8" y1="341.0" x2="598.2" y2="346.0" stroke="#000" stroke-width="1.60"/>
<line x1="476.0" y1="390.2" x2="482.0" y2="390.2" stroke="#000" stroke-width="1.60"/>
<line x1="477.0" y1="411.3" x2="483.0" y2="411.3" stroke="#000" stroke-width="1.60"/>
<line x1="653.4" y1="390.2" x2="659.4" y2="390.2" stroke="#000" stroke-width="1.60"/>
<line x1="652.6" y1="411.3" x2="658.6" y2="411.3" stroke="#000" stroke-width="1.60"/>
<line x1="473.8" y1="463.0" x2="479.8" y2="463.0" stroke="#000" stroke-width="1.60"/>
<line x1="655.2" y1="463.0" x2="661.2" y2="463.0" stroke="#000" stroke-width="1.60"/>
<line x1="470.5" y1="617.7" x2="476.5" y2="617.7" stroke="#000" stroke-width="1.60"/>
<line x1="659.3" y1="617.7" x2="665.3" y2="617.7" stroke="#000" stroke-width="1.60"/>
<line x1="471.0" y1="627.0" x2="477.0" y2="627.0" stroke="#000" stroke-width="1.60"/>
<line x1="659.0" y1="627.0" x2="665.0" y2="627.0" stroke="#000" stroke-width="1.60"/>
<line x1="132.6" y1="620.3" x2="132.6" y2="625.3" stroke="#000" stroke-width="1.60"/>
<line x1="132.6" y1="631.1" x2="132.6" y2="636.1" stroke="#000" stroke-width="1.60"/>
<line x1="349.2" y1="620.2" x2="349.2" y2="625.2" stroke="#000" stroke-width="1.60"/>
<line x1="349.2" y1="631.8" x2="349.2" y2="636.8" stroke="#000" stroke-width="1.60"/>
<line x1="753.5" y1="353.0" x2="753.5" y2="358.0" stroke="#000" stroke-width="1.60"/>
<line x1="753.5" y1="363.3" x2="753.5" y2="368.3" stroke="#000" stroke-width="1.60"/>
<line x1="568.0" y1="618.3" x2="568.0" y2="623.3" stroke="#000" stroke-width="1.60"/>
<line x1="568.0" y1="629.3" x2="568.0" y2="634.3" stroke="#000" stroke-width="1.60"/>
<line x1="109.8" y1="305.4" x2="113.4" y2="301.8" stroke="#000" stroke-width="1.60"/>
<line x1="139.2" y1="298.7" x2="142.8" y2="302.3" stroke="#000" stroke-width="1.60"/>
<line x1="221.5" y1="314.3" x2="225.1" y2="310.7" stroke="#000" stroke-width="1.60"/>
<line x1="245.7" y1="310.7" x2="249.3" y2="314.3" stroke="#000" stroke-width="1.60"/>
<line x1="593.1" y1="141.1" x2="596.9" y2="137.9" stroke="#000" stroke-width="1.60"/>
<line x1="583.2" y1="217.3" x2="586.8" y2="213.7" stroke="#000" stroke-width="1.60"/>
<line x1="619.7" y1="212.7" x2="623.3" y2="216.3" stroke="#000" stroke-width="1.60"/>
<line x1="492.7" y1="211.7" x2="496.3" y2="215.3" stroke="#000" stroke-width="1.60"/>
<line x1="551.2" y1="215.8" x2="554.8" y2="212.2" stroke="#000" stroke-width="1.60"/>
<line x1="213.7" y1="374.7" x2="217.3" y2="378.3" stroke="#000" stroke-width="1.60"/>
<line x1="263.7" y1="378.3" x2="267.3" y2="374.7" stroke="#000" stroke-width="1.60"/>
<line x1="327.2" y1="313.7" x2="327.2" y2="318.7" stroke="#000" stroke-width="1.60"/>
<line x1="350.9" y1="314.9" x2="350.9" y2="319.9" stroke="#000" stroke-width="1.60"/>
<line x1="374.5" y1="313.7" x2="374.5" y2="318.7" stroke="#000" stroke-width="1.60"/>
<line x1="527.5" y1="285.5" x2="527.5" y2="290.5" stroke="#000" stroke-width="1.60"/>
<line x1="553.0" y1="286.0" x2="553.0" y2="291.0" stroke="#000" stroke-width="1.60"/>
<line x1="573.5" y1="285.5" x2="573.5" y2="290.5" stroke="#000" stroke-width="1.60"/>
<line x1="123.1" y1="159.6" x2="125.9" y2="162.4" stroke="#000" stroke-width="1.60"/>
<path transform="translate(519.40 171.50) rotate(-90) translate(0.00 0) scale(0.6345)" d="M9.6 0.4 L0.5 0.4 L0.5 6 Q2 4.9 5 4.9 Q9.6 4.9 9.6 9.5 Q9.6 14.2 5.2 14.2 Q2.2 14.2 0.8 12.8" fill="none" stroke="#000" stroke-width="2.995" stroke-linecap="square" stroke-linejoin="miter"/>
<path transform="translate(519.40 171.50) rotate(-90) translate(7.80 0) scale(0.6345)" d="M2.2 0.3 L7.8 0.3 Q9.7 0.3 9.7 2.5 L9.7 12 Q9.7 14.2 7.8 14.2 L2.2 14.2 Q0.3 14.2 0.3 12 L0.3 2.5 Q0.3 0.3 2.2 0.3 Z M9.2 1 L0.8 13.5" fill="none" stroke="#000" stroke-width="2.995" stroke-linecap="square" stroke-linejoin="miter"/>
<rect x="527.2" y="159.5" width="7.6" height="17.7" fill="none" stroke="#000" stroke-width="1.60"/>
<path d="M528.50 163.00 L533.50 174.00" fill="none" stroke="#000" stroke-width="1.40"/>
<path transform="translate(230.40 499.50) rotate(-90) translate(0.00 0) scale(0.6207)" d="M5.6 0.5 L0.4 9.8 L9.8 9.8 M7 2.2 L7 14.4" fill="none" stroke="#000" stroke-width="2.900" stroke-linecap="square" stroke-linejoin="miter"/>
<path transform="translate(230.40 499.50) rotate(-90) translate(8.20 0) scale(0.6207)" d="M0.7 3.4 Q1.5 0.4 5.3 0.4 Q9.4 0.4 9.4 4.2 Q9.4 9 5.3 11 L0.7 12.8 L0.7 14.3 L9.7 14.3" fill="none" stroke="#000" stroke-width="2.900" stroke-linecap="square" stroke-linejoin="miter"/>
<rect x="237.5" y="487.2" width="8.1" height="17.2" fill="none" stroke="#000" stroke-width="1.60"/>
<path d="M239.00 491.00 L244.50 501.00" fill="none" stroke="#000" stroke-width="1.40"/>
<path transform="translate(529.60 223.80) translate(0.00 0) scale(0.6207)" d="M9.6 0.4 L0.5 0.4 L0.5 6 Q2 4.9 5 4.9 Q9.6 4.9 9.6 9.5 Q9.6 14.2 5.2 14.2 Q2.2 14.2 0.8 12.8" fill="none" stroke="#000" stroke-width="3.061" stroke-linecap="square" stroke-linejoin="miter"/>
<path transform="translate(529.60 223.80) translate(7.60 0) scale(0.6207)" d="M2.2 0.3 L7.8 0.3 Q9.7 0.3 9.7 2.5 L9.7 12 Q9.7 14.2 7.8 14.2 L2.2 14.2 Q0.3 14.2 0.3 12 L0.3 2.5 Q0.3 0.3 2.2 0.3 Z M9.2 1 L0.8 13.5" fill="none" stroke="#000" stroke-width="3.061" stroke-linecap="square" stroke-linejoin="miter"/>
<line x1="529.8" y1="236.5" x2="529.8" y2="252.0" stroke="#000" stroke-width="1.50"/>
<path d="M527.6 251.0 L532.0 251.0 L529.8 256.0 Z" fill="#000" stroke="#000" stroke-width="0.6"/>
<path transform="translate(261.00 391.00) rotate(180) translate(0.00 0) scale(0.6552)" d="M0.7 3.4 Q1.5 0.4 5.3 0.4 Q9.4 0.4 9.4 4.2 Q9.4 9 5.3 11 L0.7 12.8 L0.7 14.3 L9.7 14.3" fill="none" stroke="#000" stroke-width="2.747" stroke-linecap="square" stroke-linejoin="miter"/>
<path transform="translate(261.00 391.00) rotate(180) translate(7.40 0) scale(0.6552)" d="M5.6 0.5 L0.4 9.8 L9.8 9.8 M7 2.2 L7 14.4" fill="none" stroke="#000" stroke-width="2.747" stroke-linecap="square" stroke-linejoin="miter"/>
<line x1="244.9" y1="394.0" x2="244.9" y2="408.5" stroke="#000" stroke-width="1.50"/>
<path d="M242.7 407.5 L247.1 407.5 L244.9 412.5 Z" fill="#000" stroke="#000" stroke-width="0.6"/>
<path transform="translate(545.00 300.80) rotate(180) translate(0.00 0) scale(0.6207)" d="M9.6 0.4 L0.5 0.4 L0.5 6 Q2 4.9 5 4.9 Q9.6 4.9 9.6 9.5 Q9.6 14.2 5.2 14.2 Q2.2 14.2 0.8 12.8" fill="none" stroke="#000" stroke-width="3.061" stroke-linecap="square" stroke-linejoin="miter"/>
<path transform="translate(545.00 300.80) rotate(180) translate(8.20 0) scale(0.6207)" d="M2.2 0.3 L7.8 0.3 Q9.7 0.3 9.7 2.5 L9.7 12 Q9.7 14.2 7.8 14.2 L2.2 14.2 Q0.3 14.2 0.3 12 L0.3 2.5 Q0.3 0.3 2.2 0.3 Z M9.2 1 L0.8 13.5" fill="none" stroke="#000" stroke-width="3.061" stroke-linecap="square" stroke-linejoin="miter"/>
<line x1="550.5" y1="288.5" x2="550.5" y2="294.5" stroke="#000" stroke-width="1.50"/>
<path d="M548.3 293.5 L552.7 293.5 L550.5 298.5 Z" fill="#000" stroke="#000" stroke-width="0.6"/>
<path transform="translate(339.80 327.20) rotate(180) translate(0.00 0) scale(0.6207)" d="M5.6 0.5 L0.4 9.8 L9.8 9.8 M7 2.2 L7 14.4" fill="none" stroke="#000" stroke-width="2.900" stroke-linecap="square" stroke-linejoin="miter"/>
<path transform="translate(339.80 327.20) rotate(180) translate(7.80 0) scale(0.6207)" d="M0.7 3.4 Q1.5 0.4 5.3 0.4 Q9.4 0.4 9.4 4.2 Q9.4 9 5.3 11 L0.7 12.8 L0.7 14.3 L9.7 14.3" fill="none" stroke="#000" stroke-width="2.900" stroke-linecap="square" stroke-linejoin="miter"/>
<line x1="347.0" y1="318.0" x2="347.0" y2="322.0" stroke="#000" stroke-width="1.50"/>
<path d="M344.8 321.0 L349.2 321.0 L347.0 325.5 Z" fill="#000" stroke="#000" stroke-width="0.6"/>
<path transform="translate(123.30 176.40) rotate(-90) translate(0.00 0) scale(0.7034)" d="M9.6 0.4 L0.5 0.4 L0.5 6 Q2 4.9 5 4.9 Q9.6 4.9 9.6 9.5 Q9.6 14.2 5.2 14.2 Q2.2 14.2 0.8 12.8" fill="none" stroke="#000" stroke-width="2.985" stroke-linecap="square" stroke-linejoin="miter"/>
<path transform="translate(123.30 176.40) rotate(-90) translate(7.60 0) scale(0.7034)" d="M2.2 0.3 L7.8 0.3 Q9.7 0.3 9.7 2.5 L9.7 12 Q9.7 14.2 7.8 14.2 L2.2 14.2 Q0.3 14.2 0.3 12 L0.3 2.5 Q0.3 0.3 2.2 0.3 Z M9.2 1 L0.8 13.5" fill="none" stroke="#000" stroke-width="2.985" stroke-linecap="square" stroke-linejoin="miter"/>
<path d="M129.60 152.30 L129.60 179.50" fill="none" stroke="#000" stroke-width="1.50"/>
<path transform="translate(183.20 206.40) rotate(-90) translate(0.00 0) scale(0.6345)" d="M9.6 0.4 L0.5 0.4 L0.5 6 Q2 4.9 5 4.9 Q9.6 4.9 9.6 9.5 Q9.6 14.2 5.2 14.2 Q2.2 14.2 0.8 12.8" fill="none" stroke="#000" stroke-width="3.152" stroke-linecap="square" stroke-linejoin="miter"/>
<path transform="translate(183.20 206.40) rotate(-90) translate(7.40 0) scale(0.6345)" d="M2.2 0.3 L7.8 0.3 Q9.7 0.3 9.7 2.5 L9.7 12 Q9.7 14.2 7.8 14.2 L2.2 14.2 Q0.3 14.2 0.3 12 L0.3 2.5 Q0.3 0.3 2.2 0.3 Z M9.2 1 L0.8 13.5" fill="none" stroke="#000" stroke-width="3.152" stroke-linecap="square" stroke-linejoin="miter"/>
<line x1="182.5" y1="196.0" x2="182.5" y2="212.3" stroke="#000" stroke-width="1.50"/>
<path d="M180.5 211.3 L184.5 211.3 L182.5 215.8 Z" fill="#000" stroke="#000" stroke-width="0.6"/>
<line x1="179.8" y1="155.5" x2="183.8" y2="155.5" stroke="#000" stroke-width="1.60"/>
<line x1="180.6" y1="180.5" x2="184.6" y2="180.5" stroke="#000" stroke-width="1.60"/>
<line x1="180.0" y1="205.0" x2="184.0" y2="205.0" stroke="#000" stroke-width="1.60"/>
</svg></body></html>
